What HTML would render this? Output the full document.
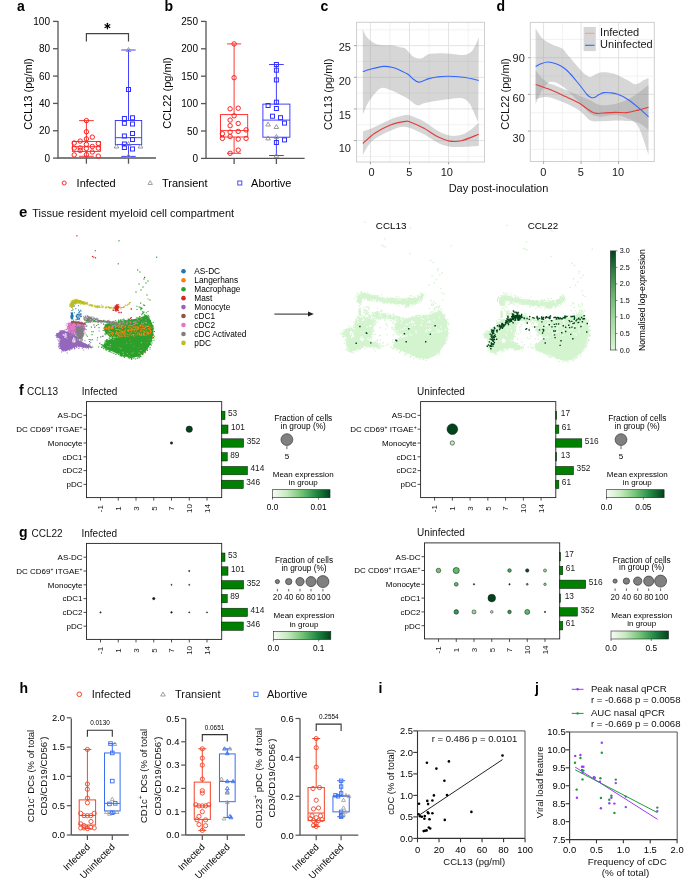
<!DOCTYPE html>
<html><head><meta charset="utf-8"><title>Figure</title>
<style>
html,body{margin:0;padding:0;background:#fff;}
svg{display:block;will-change:transform;}
svg text{font-family:"Liberation Sans", sans-serif;}
</style></head><body>
<svg width="685" height="878" viewBox="0 0 685 878">
<rect width="685" height="878" fill="#fff"/>
<text x="17" y="11" font-size="14" font-weight="bold" fill="#000">a</text>
<text x="164.5" y="11" font-size="14" font-weight="bold" fill="#000">b</text>
<text x="320.5" y="11" font-size="14" font-weight="bold" fill="#000">c</text>
<text x="496.5" y="11" font-size="14" font-weight="bold" fill="#000">d</text>
<line x1="58" y1="21" x2="58" y2="158.5" stroke="#555" stroke-width="1.3"/>
<line x1="53" y1="158.1" x2="58" y2="158.1" stroke="#555" stroke-width="1.3"/>
<text x="50" y="161.7" font-size="10" text-anchor="end">0</text>
<line x1="53" y1="130.76" x2="58" y2="130.76" stroke="#555" stroke-width="1.3"/>
<text x="50" y="134.36" font-size="10" text-anchor="end">20</text>
<line x1="53" y1="103.42" x2="58" y2="103.42" stroke="#555" stroke-width="1.3"/>
<text x="50" y="107.02" font-size="10" text-anchor="end">40</text>
<line x1="53" y1="76.08" x2="58" y2="76.08" stroke="#555" stroke-width="1.3"/>
<text x="50" y="79.68" font-size="10" text-anchor="end">60</text>
<line x1="53" y1="48.74" x2="58" y2="48.74" stroke="#555" stroke-width="1.3"/>
<text x="50" y="52.34" font-size="10" text-anchor="end">80</text>
<line x1="53" y1="21.4" x2="58" y2="21.4" stroke="#555" stroke-width="1.3"/>
<text x="50" y="25" font-size="10" text-anchor="end">100</text>
<line x1="58" y1="158" x2="156" y2="158" stroke="#555" stroke-width="1.3"/>
<line x1="86.4" y1="158" x2="86.4" y2="163.7" stroke="#555" stroke-width="1.3"/>
<line x1="128.5" y1="158" x2="128.5" y2="163.7" stroke="#555" stroke-width="1.3"/>
<text x="31.5" y="94" font-size="11" text-anchor="middle" transform="rotate(-90 31.5 94)">CCL13 (pg/ml)</text>
<polyline points="86.4,41.5 86.4,33.7 128.5,33.7 128.5,41.5" fill="none" stroke="#444" stroke-width="1.2"/>
<line x1="107.4" y1="23.35" x2="107.4" y2="28.85" stroke="#000" stroke-width="1.25" stroke-linecap="round"/>
<line x1="105.02" y1="24.73" x2="109.78" y2="27.48" stroke="#000" stroke-width="1.25" stroke-linecap="round"/>
<line x1="109.78" y1="24.73" x2="105.02" y2="27.48" stroke="#000" stroke-width="1.25" stroke-linecap="round"/>
<circle cx="107.4" cy="26.1" r="1.3" fill="#000"/>
<line x1="86.4" y1="120.6" x2="86.4" y2="141.5" stroke="#ff2020" stroke-width="0.9"/>
<line x1="86.4" y1="151.4" x2="86.4" y2="156.3" stroke="#ff2020" stroke-width="0.9"/>
<line x1="79.05" y1="120.6" x2="93.75" y2="120.6" stroke="#ff2020" stroke-width="0.9"/>
<line x1="79.05" y1="156.3" x2="93.75" y2="156.3" stroke="#ff2020" stroke-width="0.9"/>
<rect x="72.4" y="141.5" width="28" height="9.9" fill="none" stroke="#ff2020" stroke-width="0.9"/>
<line x1="72.4" y1="146.7" x2="100.4" y2="146.7" stroke="#ff2020" stroke-width="0.9"/>
<circle cx="86.4" cy="120.6" r="2.2" fill="none" stroke="#ff2020" stroke-width="1"/>
<circle cx="86.4" cy="131.8" r="2.2" fill="none" stroke="#ff2020" stroke-width="1"/>
<circle cx="86.4" cy="138.9" r="2.2" fill="none" stroke="#ff2020" stroke-width="1"/>
<circle cx="92.3" cy="137.1" r="2.2" fill="none" stroke="#ff2020" stroke-width="1"/>
<circle cx="80.2" cy="141.1" r="2.2" fill="none" stroke="#ff2020" stroke-width="1"/>
<circle cx="74.2" cy="143" r="2.2" fill="none" stroke="#ff2020" stroke-width="1"/>
<circle cx="86.4" cy="144.4" r="2.2" fill="none" stroke="#ff2020" stroke-width="1"/>
<circle cx="98.3" cy="143.5" r="2.2" fill="none" stroke="#ff2020" stroke-width="1"/>
<circle cx="92.3" cy="146.5" r="2.2" fill="none" stroke="#ff2020" stroke-width="1"/>
<circle cx="74.2" cy="148.1" r="2.2" fill="none" stroke="#ff2020" stroke-width="1"/>
<circle cx="80.2" cy="147.9" r="2.2" fill="none" stroke="#ff2020" stroke-width="1"/>
<circle cx="86.4" cy="148.5" r="2.2" fill="none" stroke="#ff2020" stroke-width="1"/>
<circle cx="98.3" cy="148.1" r="2.2" fill="none" stroke="#ff2020" stroke-width="1"/>
<circle cx="80.2" cy="150.5" r="2.2" fill="none" stroke="#ff2020" stroke-width="1"/>
<circle cx="92.3" cy="152" r="2.2" fill="none" stroke="#ff2020" stroke-width="1"/>
<circle cx="74.2" cy="154.9" r="2.2" fill="none" stroke="#ff2020" stroke-width="1"/>
<circle cx="86.4" cy="154.7" r="2.2" fill="none" stroke="#ff2020" stroke-width="1"/>
<circle cx="98.3" cy="156.1" r="2.2" fill="none" stroke="#ff2020" stroke-width="1"/>
<line x1="128.5" y1="50" x2="128.5" y2="120.5" stroke="#2e2eff" stroke-width="0.9"/>
<line x1="128.5" y1="144.6" x2="128.5" y2="156.4" stroke="#2e2eff" stroke-width="0.9"/>
<line x1="121.3" y1="50" x2="135.7" y2="50" stroke="#2e2eff" stroke-width="0.9"/>
<line x1="121.3" y1="156.4" x2="135.7" y2="156.4" stroke="#2e2eff" stroke-width="0.9"/>
<rect x="115.3" y="120.5" width="26.4" height="24.1" fill="none" stroke="#2e2eff" stroke-width="0.9"/>
<line x1="115.3" y1="137.7" x2="141.7" y2="137.7" stroke="#2e2eff" stroke-width="0.9"/>
<rect x="126.5" y="87.5" width="4" height="4" fill="none" stroke="#2e2eff" stroke-width="1"/>
<rect x="122.4" y="116.5" width="4" height="4" fill="none" stroke="#2e2eff" stroke-width="1"/>
<rect x="130.5" y="115.8" width="4" height="4" fill="none" stroke="#2e2eff" stroke-width="1"/>
<rect x="122.4" y="121.3" width="4" height="4" fill="none" stroke="#2e2eff" stroke-width="1"/>
<rect x="130.5" y="122" width="4" height="4" fill="none" stroke="#2e2eff" stroke-width="1"/>
<rect x="122.4" y="134" width="4" height="4" fill="none" stroke="#2e2eff" stroke-width="1"/>
<rect x="130.5" y="131.5" width="4" height="4" fill="none" stroke="#2e2eff" stroke-width="1"/>
<rect x="130.5" y="137.5" width="4" height="4" fill="none" stroke="#2e2eff" stroke-width="1"/>
<rect x="122.4" y="142" width="4" height="4" fill="none" stroke="#2e2eff" stroke-width="1"/>
<rect x="122.4" y="145.5" width="4" height="4" fill="none" stroke="#2e2eff" stroke-width="1"/>
<rect x="130.5" y="147" width="4" height="4" fill="none" stroke="#2e2eff" stroke-width="1"/>
<polygon points="116.5,144.03 114.2,148.01 118.8,148.01" fill="none" stroke="#8c8c8c" stroke-width="0.9"/>
<polygon points="128.5,141.53 126.2,145.51 130.8,145.51" fill="none" stroke="#8c8c8c" stroke-width="0.9"/>
<polygon points="140.5,144.03 138.2,148.01 142.8,148.01" fill="none" stroke="#8c8c8c" stroke-width="0.9"/>
<polygon points="128.5,153.93 126.2,157.91 130.8,157.91" fill="none" stroke="#8c8c8c" stroke-width="0.9"/>
<polygon points="128.5,47.53 126.2,51.51 130.8,51.51" fill="none" stroke="#8c8c8c" stroke-width="0.9"/>
<line x1="206" y1="21" x2="206" y2="158.8" stroke="#555" stroke-width="1.3"/>
<line x1="201" y1="158.4" x2="206" y2="158.4" stroke="#555" stroke-width="1.3"/>
<text x="198" y="162" font-size="10" text-anchor="end">0</text>
<line x1="201" y1="131" x2="206" y2="131" stroke="#555" stroke-width="1.3"/>
<text x="198" y="134.6" font-size="10" text-anchor="end">50</text>
<line x1="201" y1="103.6" x2="206" y2="103.6" stroke="#555" stroke-width="1.3"/>
<text x="198" y="107.2" font-size="10" text-anchor="end">100</text>
<line x1="201" y1="76.2" x2="206" y2="76.2" stroke="#555" stroke-width="1.3"/>
<text x="198" y="79.8" font-size="10" text-anchor="end">150</text>
<line x1="201" y1="48.8" x2="206" y2="48.8" stroke="#555" stroke-width="1.3"/>
<text x="198" y="52.4" font-size="10" text-anchor="end">200</text>
<line x1="201" y1="21.4" x2="206" y2="21.4" stroke="#555" stroke-width="1.3"/>
<text x="198" y="25" font-size="10" text-anchor="end">250</text>
<line x1="206" y1="158.4" x2="304.6" y2="158.4" stroke="#555" stroke-width="1.3"/>
<line x1="234.1" y1="158.4" x2="234.1" y2="164" stroke="#555" stroke-width="1.3"/>
<line x1="276.4" y1="158.4" x2="276.4" y2="164" stroke="#555" stroke-width="1.3"/>
<text x="171" y="93" font-size="11" text-anchor="middle" transform="rotate(-90 171 93)">CCL22 (pg/ml)</text>
<line x1="234.1" y1="43.9" x2="234.1" y2="114.6" stroke="#ff2020" stroke-width="0.9"/>
<line x1="234.1" y1="137" x2="234.1" y2="153.3" stroke="#ff2020" stroke-width="0.9"/>
<line x1="227.1" y1="43.9" x2="241.1" y2="43.9" stroke="#ff2020" stroke-width="0.9"/>
<line x1="227.1" y1="153.3" x2="241.1" y2="153.3" stroke="#ff2020" stroke-width="0.9"/>
<rect x="220.5" y="114.6" width="27.2" height="22.4" fill="none" stroke="#ff2020" stroke-width="0.9"/>
<line x1="220.5" y1="130.6" x2="247.7" y2="130.6" stroke="#ff2020" stroke-width="0.9"/>
<circle cx="234.1" cy="43.9" r="2.2" fill="none" stroke="#ff2020" stroke-width="1"/>
<circle cx="234.1" cy="77.7" r="2.2" fill="none" stroke="#ff2020" stroke-width="1"/>
<circle cx="230.1" cy="108.8" r="2.2" fill="none" stroke="#ff2020" stroke-width="1"/>
<circle cx="238.2" cy="108.2" r="2.2" fill="none" stroke="#ff2020" stroke-width="1"/>
<circle cx="234.1" cy="115.8" r="2.2" fill="none" stroke="#ff2020" stroke-width="1"/>
<circle cx="230.1" cy="120.1" r="2.2" fill="none" stroke="#ff2020" stroke-width="1"/>
<circle cx="238.2" cy="123.5" r="2.2" fill="none" stroke="#ff2020" stroke-width="1"/>
<circle cx="230.1" cy="125.7" r="2.2" fill="none" stroke="#ff2020" stroke-width="1"/>
<circle cx="246.1" cy="129.9" r="2.2" fill="none" stroke="#ff2020" stroke-width="1"/>
<circle cx="222.4" cy="133.7" r="2.2" fill="none" stroke="#ff2020" stroke-width="1"/>
<circle cx="230.1" cy="132.1" r="2.2" fill="none" stroke="#ff2020" stroke-width="1"/>
<circle cx="238.2" cy="131.4" r="2.2" fill="none" stroke="#ff2020" stroke-width="1"/>
<circle cx="222.4" cy="138.4" r="2.2" fill="none" stroke="#ff2020" stroke-width="1"/>
<circle cx="230.1" cy="136.5" r="2.2" fill="none" stroke="#ff2020" stroke-width="1"/>
<circle cx="238.2" cy="139.1" r="2.2" fill="none" stroke="#ff2020" stroke-width="1"/>
<circle cx="246.1" cy="138.4" r="2.2" fill="none" stroke="#ff2020" stroke-width="1"/>
<circle cx="238.2" cy="150.1" r="2.2" fill="none" stroke="#ff2020" stroke-width="1"/>
<circle cx="230.1" cy="153.3" r="2.2" fill="none" stroke="#ff2020" stroke-width="1"/>
<line x1="276.4" y1="64.5" x2="276.4" y2="104.1" stroke="#2e2eff" stroke-width="0.9"/>
<line x1="276.4" y1="137.2" x2="276.4" y2="155.5" stroke="#2e2eff" stroke-width="0.9"/>
<line x1="269.05" y1="64.5" x2="283.75" y2="64.5" stroke="#2e2eff" stroke-width="0.9"/>
<line x1="269.05" y1="155.5" x2="283.75" y2="155.5" stroke="#2e2eff" stroke-width="0.9"/>
<rect x="262.9" y="104.1" width="27" height="33.1" fill="none" stroke="#2e2eff" stroke-width="0.9"/>
<line x1="262.9" y1="120.1" x2="289.9" y2="120.1" stroke="#2e2eff" stroke-width="0.9"/>
<rect x="274.4" y="62.5" width="4" height="4" fill="none" stroke="#2e2eff" stroke-width="1"/>
<rect x="274.4" y="68.2" width="4" height="4" fill="none" stroke="#2e2eff" stroke-width="1"/>
<rect x="274.4" y="77.9" width="4" height="4" fill="none" stroke="#2e2eff" stroke-width="1"/>
<rect x="274.4" y="100.2" width="4" height="4" fill="none" stroke="#2e2eff" stroke-width="1"/>
<rect x="266.1" y="103.5" width="4" height="4" fill="none" stroke="#2e2eff" stroke-width="1"/>
<rect x="274.4" y="106.5" width="4" height="4" fill="none" stroke="#2e2eff" stroke-width="1"/>
<rect x="270.5" y="114.2" width="4" height="4" fill="none" stroke="#2e2eff" stroke-width="1"/>
<rect x="278.5" y="115.7" width="4" height="4" fill="none" stroke="#2e2eff" stroke-width="1"/>
<rect x="282.5" y="121.1" width="4" height="4" fill="none" stroke="#2e2eff" stroke-width="1"/>
<rect x="274.4" y="140.5" width="4" height="4" fill="none" stroke="#2e2eff" stroke-width="1"/>
<rect x="282.5" y="137.9" width="4" height="4" fill="none" stroke="#2e2eff" stroke-width="1"/>
<polygon points="268.1,122.03 265.8,126.01 270.4,126.01" fill="none" stroke="#8c8c8c" stroke-width="0.9"/>
<polygon points="276.4,124.53 274.1,128.51 278.7,128.51" fill="none" stroke="#8c8c8c" stroke-width="0.9"/>
<polygon points="268.1,135.93 265.8,139.91 270.4,139.91" fill="none" stroke="#8c8c8c" stroke-width="0.9"/>
<polygon points="276.4,134.43 274.1,138.41 278.7,138.41" fill="none" stroke="#8c8c8c" stroke-width="0.9"/>
<polygon points="276.4,153.43 274.1,157.41 278.7,157.41" fill="none" stroke="#8c8c8c" stroke-width="0.9"/>
<circle cx="64.2" cy="183" r="2" fill="none" stroke="#f03030" stroke-width="1"/>
<text x="76.6" y="187" font-size="11">Infected</text>
<polygon points="150.2,180.64 148,184.45 152.4,184.45" fill="none" stroke="#888" stroke-width="0.8"/>
<text x="162" y="187" font-size="11">Transient</text>
<rect x="237.8" y="181" width="4" height="4" fill="none" stroke="#3a3af0" stroke-width="0.9"/>
<text x="251.1" y="187" font-size="11">Abortive</text>
<rect x="356.6" y="22.3" width="127.9" height="139.7" fill="#fff"/>
<line x1="356.6" y1="156.43" x2="484.5" y2="156.43" stroke="#efefef" stroke-width="0.8"/>
<line x1="356.6" y1="124.78" x2="484.5" y2="124.78" stroke="#efefef" stroke-width="0.8"/>
<line x1="356.6" y1="93.12" x2="484.5" y2="93.12" stroke="#efefef" stroke-width="0.8"/>
<line x1="356.6" y1="61.47" x2="484.5" y2="61.47" stroke="#efefef" stroke-width="0.8"/>
<line x1="356.6" y1="29.82" x2="484.5" y2="29.82" stroke="#efefef" stroke-width="0.8"/>
<line x1="389.95" y1="22.3" x2="389.95" y2="162" stroke="#efefef" stroke-width="0.8"/>
<line x1="429.05" y1="22.3" x2="429.05" y2="162" stroke="#efefef" stroke-width="0.8"/>
<line x1="468.15" y1="22.3" x2="468.15" y2="162" stroke="#efefef" stroke-width="0.8"/>
<line x1="356.6" y1="140.6" x2="484.5" y2="140.6" stroke="#e3e3e3" stroke-width="1"/>
<line x1="356.6" y1="108.95" x2="484.5" y2="108.95" stroke="#e3e3e3" stroke-width="1"/>
<line x1="356.6" y1="77.3" x2="484.5" y2="77.3" stroke="#e3e3e3" stroke-width="1"/>
<line x1="356.6" y1="45.65" x2="484.5" y2="45.65" stroke="#e3e3e3" stroke-width="1"/>
<line x1="370.4" y1="22.3" x2="370.4" y2="162" stroke="#e3e3e3" stroke-width="1"/>
<line x1="409.5" y1="22.3" x2="409.5" y2="162" stroke="#e3e3e3" stroke-width="1"/>
<line x1="448.6" y1="22.3" x2="448.6" y2="162" stroke="#e3e3e3" stroke-width="1"/>
<path d="M362.8,29.2 C363.33,30.33 364.73,34.12 366,36 C367.27,37.88 368.73,39.17 370.4,40.5 C372.07,41.83 373.8,43.2 376,44 C378.2,44.8 380.93,45.08 383.6,45.3 C386.27,45.52 389.27,44.97 392,45.3 C394.73,45.63 397.78,46.75 400,47.3 C402.22,47.85 403.12,47.07 405.3,48.6 C407.48,50.13 410.48,54.85 413.1,56.5 C415.72,58.15 418.37,58.9 421,58.5 C423.63,58.1 426.23,54.95 428.9,54.1 C431.57,53.25 433.93,53.48 437,53.4 C440.07,53.32 442.95,53.35 447.3,53.6 C451.65,53.85 459.15,55.18 463.1,54.9 C467.05,54.62 468.93,53.55 471,51.9 C473.07,50.25 474.2,47.4 475.5,45 C476.8,42.6 478.25,38.75 478.8,37.5 L478.2,122.4 C477.7,121.25 476.68,118.68 475.2,115.5 C473.72,112.32 471.6,106.2 469.3,103.3 C467,100.4 465.02,98.77 461.4,98.1 C457.78,97.43 452.2,98.77 447.6,99.3 C443,99.83 437.73,100.63 433.8,101.3 C429.87,101.97 426.78,102.65 424,103.3 C421.22,103.95 420.07,106.13 417.1,105.2 C414.13,104.27 410.63,100.25 406.2,97.7 C401.77,95.15 394.77,91.47 390.5,89.9 C386.23,88.33 383.88,86.83 380.6,88.3 C377.32,89.77 373.15,95.75 370.8,98.7 C368.45,101.65 367.82,103.37 366.5,106 C365.18,108.63 363.5,113.08 362.9,114.5 Z" fill="#999" fill-opacity="0.4"/>
<path d="M362.9,131.6 C364.87,130.83 370.1,129.03 374.7,127 C379.3,124.97 385.4,121.38 390.5,119.4 C395.6,117.42 402.02,115.75 405.3,115.1 C408.58,114.45 407.08,114.45 410.2,115.5 C413.32,116.55 419.4,118.85 424,121.4 C428.6,123.95 433.53,128.43 437.8,130.8 C442.07,133.17 445.67,134.93 449.6,135.6 C453.53,136.27 458,135.68 461.4,134.8 C464.8,133.92 467.1,132.37 470,130.3 C472.9,128.23 477.33,123.72 478.8,122.4 L478.8,146 C475.9,146.17 466.27,146.9 461.4,147 C456.53,147.1 453.53,147.32 449.6,146.6 C445.67,145.88 442.07,144.77 437.8,142.7 C433.53,140.63 429.42,136.83 424,134.2 C418.58,131.57 410.88,127.47 405.3,126.9 C399.72,126.33 395.6,128.77 390.5,130.8 C385.4,132.83 378.45,136.57 374.7,139.1 C370.95,141.63 369.97,143.37 368,146 C366.03,148.63 363.75,153.42 362.9,154.9 Z" fill="#999" fill-opacity="0.4"/>
<path d="M362.8,71.6 C364.07,71.2 366.93,70.07 370.4,69.2 C373.87,68.33 379.83,66.68 383.6,66.4 C387.37,66.12 390.27,66.85 393,67.5 C395.73,68.15 397.52,69.18 400,70.3 C402.48,71.42 405.73,72.75 407.9,74.2 C410.07,75.65 411.25,77.68 413,79 C414.75,80.32 416.73,81.77 418.4,82.1 C420.07,82.43 421.25,81.58 423,81 C424.75,80.42 426.57,79.27 428.9,78.6 C431.23,77.93 433.93,77.4 437,77 C440.07,76.6 442.95,76.15 447.3,76.2 C451.65,76.25 457.85,76.6 463.1,77.3 C468.35,78 476.18,79.88 478.8,80.4" fill="none" stroke="#3366ff" stroke-width="1.1"/>
<path d="M362.9,143.5 C364.87,141.78 370.1,136.3 374.7,133.2 C379.3,130.1 385.4,126.87 390.5,124.9 C395.6,122.93 402.02,121.88 405.3,121.4 C408.58,120.92 407.08,120.85 410.2,122 C413.32,123.15 419.4,125.83 424,128.3 C428.6,130.77 433.53,134.67 437.8,136.8 C442.07,138.93 445.67,140.45 449.6,141.1 C453.53,141.75 456.53,141.85 461.4,140.7 C466.27,139.55 475.9,135.28 478.8,134.2" fill="none" stroke="#e33a3a" stroke-width="1.1"/>
<rect x="356.6" y="22.3" width="127.9" height="139.7" fill="none" stroke="#cfcfcf" stroke-width="1"/>
<line x1="354" y1="140.6" x2="356.6" y2="140.6" stroke="#999" stroke-width="0.9"/>
<text x="350.9" y="151.8" font-size="11" text-anchor="end" fill="#1a1a1a">10</text>
<line x1="354" y1="108.95" x2="356.6" y2="108.95" stroke="#999" stroke-width="0.9"/>
<text x="350.9" y="118.75" font-size="11" text-anchor="end" fill="#1a1a1a">15</text>
<line x1="354" y1="77.3" x2="356.6" y2="77.3" stroke="#999" stroke-width="0.9"/>
<text x="350.9" y="85.05" font-size="11" text-anchor="end" fill="#1a1a1a">20</text>
<line x1="354" y1="45.65" x2="356.6" y2="45.65" stroke="#999" stroke-width="0.9"/>
<text x="350.9" y="50.95" font-size="11" text-anchor="end" fill="#1a1a1a">25</text>
<line x1="370.4" y1="162" x2="370.4" y2="164.4" stroke="#999" stroke-width="0.9"/>
<text x="371.6" y="175.7" font-size="11" text-anchor="middle" fill="#1a1a1a">0</text>
<line x1="409.5" y1="162" x2="409.5" y2="164.4" stroke="#999" stroke-width="0.9"/>
<text x="409.3" y="175.7" font-size="11" text-anchor="middle" fill="#1a1a1a">5</text>
<line x1="448.6" y1="162" x2="448.6" y2="164.4" stroke="#999" stroke-width="0.9"/>
<text x="446.8" y="175.7" font-size="11" text-anchor="middle" fill="#1a1a1a">10</text>
<text x="332.5" y="94.3" font-size="11" text-anchor="middle" fill="#111" transform="rotate(-90 332.5 94.3)">CCL13 (pg/ml)</text>
<rect x="530.3" y="22.4" width="124" height="139.1" fill="#fff"/>
<line x1="530.3" y1="149.39" x2="654.3" y2="149.39" stroke="#efefef" stroke-width="0.8"/>
<line x1="530.3" y1="112.73" x2="654.3" y2="112.73" stroke="#efefef" stroke-width="0.8"/>
<line x1="530.3" y1="76.07" x2="654.3" y2="76.07" stroke="#efefef" stroke-width="0.8"/>
<line x1="530.3" y1="39.41" x2="654.3" y2="39.41" stroke="#efefef" stroke-width="0.8"/>
<line x1="562.35" y1="22.4" x2="562.35" y2="161.5" stroke="#efefef" stroke-width="0.8"/>
<line x1="599.85" y1="22.4" x2="599.85" y2="161.5" stroke="#efefef" stroke-width="0.8"/>
<line x1="637.35" y1="22.4" x2="637.35" y2="161.5" stroke="#efefef" stroke-width="0.8"/>
<line x1="530.3" y1="131.06" x2="654.3" y2="131.06" stroke="#e3e3e3" stroke-width="1"/>
<line x1="530.3" y1="94.4" x2="654.3" y2="94.4" stroke="#e3e3e3" stroke-width="1"/>
<line x1="530.3" y1="57.74" x2="654.3" y2="57.74" stroke="#e3e3e3" stroke-width="1"/>
<line x1="543.6" y1="22.4" x2="543.6" y2="161.5" stroke="#e3e3e3" stroke-width="1"/>
<line x1="581.1" y1="22.4" x2="581.1" y2="161.5" stroke="#e3e3e3" stroke-width="1"/>
<line x1="618.6" y1="22.4" x2="618.6" y2="161.5" stroke="#e3e3e3" stroke-width="1"/>
<path d="M535.6,28.5 C536.83,30.25 540.15,36.3 543,39 C545.85,41.7 549.5,43.12 552.7,44.7 C555.9,46.28 559.68,46.77 562.2,48.5 C564.72,50.23 564.97,51.78 567.8,55.1 C570.63,58.42 576.17,65.08 579.2,68.4 C582.23,71.72 584.1,73.58 586,75 C587.9,76.42 588.93,77.07 590.6,76.9 C592.27,76.73 594.1,74.78 596,74 C597.9,73.22 599.1,72.28 602,72.2 C604.9,72.12 609.28,72.23 613.4,73.5 C617.52,74.77 623.27,78.05 626.7,79.8 C630.13,81.55 632.1,83.37 634,84 C635.9,84.63 636.43,84.27 638.1,83.6 C639.77,82.93 642.27,80.95 644,80 C645.73,79.05 647.75,78.25 648.5,77.9 L648.5,154.7 C646.77,149.97 641.73,132.42 638.1,126.3 C634.47,120.18 630.55,119.88 626.7,118 C622.85,116.12 619.45,115.22 615,115 C610.55,114.78 604.17,116.93 600,116.7 C595.83,116.47 593.33,115.88 590,113.6 C586.67,111.32 583.83,106.93 580,103 C576.17,99.07 570,92.83 567,90 C564,87.17 563.83,87.25 562,86 C560.17,84.75 557.83,83.22 556,82.5 C554.17,81.78 552.33,81.62 551,81.7 C549.67,81.78 549.67,81.28 548,83 C546.33,84.72 543.07,88.42 541,92 C538.93,95.58 536.5,102.42 535.6,104.5 Z" fill="#999" fill-opacity="0.4"/>
<path d="M535.6,70.2 C536.5,71.33 538.93,74.87 541,77 C543.07,79.13 546,81.75 548,83 C550,84.25 551,83.75 553,84.5 C555,85.25 558,86.65 560,87.5 C562,88.35 562.5,88.52 565,89.6 C567.5,90.68 570.83,92.28 575,94 C579.17,95.72 585.83,98.07 590,99.9 C594.17,101.73 595.83,104.32 600,105 C604.17,105.68 610.55,104.83 615,104 C619.45,103.17 622.85,101.83 626.7,100 C630.55,98.17 634.47,95.5 638.1,93 C641.73,90.5 646.77,86.33 648.5,85 L648.5,130 C646.77,128.75 641.73,124 638.1,122.5 C634.47,121 630.55,121.33 626.7,121 C622.85,120.67 619.45,120.45 615,120.5 C610.55,120.55 604.17,121.33 600,121.3 C595.83,121.27 593.33,122.02 590,120.3 C586.67,118.58 584.17,113.88 580,111 C575.83,108.12 570.33,105.33 565,103 C559.67,100.67 552.9,97.67 548,97 C543.1,96.33 537.67,98.67 535.6,99 Z" fill="#999" fill-opacity="0.4"/>
<path d="M535.7,66.6 C536.58,66.13 538.98,64.57 541,63.8 C543.02,63.03 545.3,62 547.8,62 C550.3,62 553.3,62.8 556,63.8 C558.7,64.8 561.67,66.38 564,68 C566.33,69.62 568,71.42 570,73.5 C572,75.58 574,78.08 576,80.5 C578,82.92 580.17,85.67 582,88 C583.83,90.33 585.5,92.9 587,94.5 C588.5,96.1 589.67,97.15 591,97.6 C592.33,98.05 593.67,97.7 595,97.2 C596.33,96.7 597.5,95.37 599,94.6 C600.5,93.83 602.17,92.9 604,92.6 C605.83,92.3 607.83,92.57 610,92.8 C612.17,93.03 614.22,93.02 617,94 C619.78,94.98 623.18,96.48 626.7,98.7 C630.22,100.92 634.47,104.28 638.1,107.3 C641.73,110.32 646.77,115.22 648.5,116.8" fill="none" stroke="#3366ff" stroke-width="1.1"/>
<path d="M535.7,84.5 C538.08,85.35 545.12,87.63 550,89.6 C554.88,91.57 560.33,94.15 565,96.3 C569.67,98.45 574.5,100.55 578,102.5 C581.5,104.45 583.67,106.42 586,108 C588.33,109.58 590.17,111.1 592,112 C593.83,112.9 595.17,113.23 597,113.4 C598.83,113.57 599.95,113.17 603,113 C606.05,112.83 611.35,112.47 615.3,112.4 C619.25,112.33 622.9,112.98 626.7,112.6 C630.5,112.22 634.47,110.98 638.1,110.1 C641.73,109.22 646.77,107.77 648.5,107.3" fill="none" stroke="#e33a3a" stroke-width="1.1"/>
<rect x="530.3" y="22.4" width="124" height="139.1" fill="none" stroke="#cfcfcf" stroke-width="1"/>
<line x1="527.8" y1="131.06" x2="530.3" y2="131.06" stroke="#999" stroke-width="0.9"/>
<text x="524.8" y="141.7" font-size="11" text-anchor="end" fill="#1a1a1a">30</text>
<line x1="527.8" y1="94.4" x2="530.3" y2="94.4" stroke="#999" stroke-width="0.9"/>
<text x="524.8" y="101.9" font-size="11" text-anchor="end" fill="#1a1a1a">60</text>
<line x1="527.8" y1="57.74" x2="530.3" y2="57.74" stroke="#999" stroke-width="0.9"/>
<text x="524.8" y="62.3" font-size="11" text-anchor="end" fill="#1a1a1a">90</text>
<line x1="543.6" y1="161.5" x2="543.6" y2="163.9" stroke="#999" stroke-width="0.9"/>
<text x="543.3" y="175.7" font-size="11" text-anchor="middle" fill="#1a1a1a">0</text>
<line x1="581.1" y1="161.5" x2="581.1" y2="163.9" stroke="#999" stroke-width="0.9"/>
<text x="580.8" y="175.7" font-size="11" text-anchor="middle" fill="#1a1a1a">5</text>
<line x1="618.6" y1="161.5" x2="618.6" y2="163.9" stroke="#999" stroke-width="0.9"/>
<text x="618.1" y="175.7" font-size="11" text-anchor="middle" fill="#1a1a1a">10</text>
<text x="508.5" y="94" font-size="11" text-anchor="middle" fill="#111" transform="rotate(-90 508.5 94)">CCL22 (pg/ml)</text>
<rect x="583.6" y="27" width="12.2" height="24.1" fill="#d6d6d6"/>
<line x1="585" y1="33.3" x2="594.5" y2="33.3" stroke="#f0a0a0" stroke-width="1.1"/>
<line x1="585" y1="45.3" x2="594.5" y2="45.3" stroke="#3366ff" stroke-width="1.1"/>
<text x="600.1" y="35.5" font-size="11" fill="#1a1a1a">Infected</text>
<text x="600.1" y="47.5" font-size="11" fill="#1a1a1a">Uninfected</text>
<text x="498.5" y="192.2" font-size="11" text-anchor="middle" fill="#111">Day post-inoculation</text>
<text x="19" y="217" font-size="15" font-weight="bold" fill="#000">e</text>
<text x="32.2" y="216.8" font-size="11" fill="#111">Tissue resident myeloid cell compartment</text>
<polygon points="56.1,334.6 58.8,332.3 63.6,330.5 67.7,331.9 71.1,333.3 76.6,336 77.2,340.1 82.7,342.2 88.2,344.9 91.3,347 88.2,348 81.3,347 76.6,346.3 71.1,349 66.3,351 62.2,350.4 59.5,346.3 59.5,342.2 60.8,340.1 58.1,337.4 56.1,336" fill="#9467bd"/>
<path d="M80.29 341.83h1v1h-1zM60.31 330.48h1v1h-1zM59.72 331.15h1v1h-1zM88.97 345.18h1v1h-1zM88.12 344.07h1v1h-1zM72.43 332.78h1v1h-1zM78.3 348.11h1v1h-1zM59.53 330.89h1v1h-1zM68.12 332.1h1v1h-1zM61.06 349.29h1v1h-1zM74.07 347.27h1v1h-1zM61.04 331.26h1v1h-1zM70.73 348.43h1v1h-1zM78.9 346.58h1v1h-1zM61.38 349.06h1v1h-1zM78.71 346.17h1v1h-1zM66.7 352.57h1v1h-1zM63.74 331.55h1v1h-1zM67.86 331.81h1v1h-1zM72.64 346.26h1v1h-1zM58.4 344.48h1v1h-1zM77.93 345.69h1v1h-1zM60.36 345.87h1v1h-1zM74.3 347.97h1v1h-1zM76.13 346.62h1v1h-1zM75.48 339.9h1v1h-1zM56.6 332.89h1v1h-1zM66.71 331.31h1v1h-1zM66.2 332.05h1v1h-1zM59.96 343.97h1v1h-1zM84.38 345.58h1v1h-1zM58.82 345.14h1v1h-1zM84.33 340.15h1v1h-1zM68.38 332.4h1v1h-1zM73.63 335.07h1v1h-1zM77.35 336.95h1v1h-1zM81.05 341.25h1v1h-1zM69.3 348.33h1v1h-1zM73.88 348.59h1v1h-1zM64.12 348.8h1v1h-1zM84.85 343.47h1v1h-1zM75.68 346.32h1v1h-1zM73.4 334.72h1v1h-1zM60.1 331.34h1v1h-1zM63.61 330.4h1v1h-1zM58.57 342.8h1v1h-1zM75.62 336.75h1v1h-1zM67.46 328.3h1v1h-1zM90.09 346.64h1v1h-1zM63.39 330.9h1v1h-1zM59.98 347.29h1v1h-1zM57.53 337.28h1v1h-1zM84.78 347.11h1v1h-1zM57.09 334.67h1v1h-1zM75.88 337.23h1v1h-1zM61.89 349.82h1v1h-1zM80.25 342.64h1v1h-1zM56.69 334.04h1v1h-1zM60.35 347.2h1v1h-1zM85.76 347.43h1v1h-1zM57.42 333.19h1v1h-1zM71.55 348.25h1v1h-1zM61.48 338.11h1v1h-1zM83.07 342.76h1v1h-1zM72.32 334.79h1v1h-1zM60.1 339.95h1v1h-1zM73.91 346.54h1v1h-1zM74.63 346.31h1v1h-1zM64.96 350.55h1v1h-1zM61.13 351.51h1v1h-1zM55.79 336.81h1v1h-1zM58.26 337.05h1v1h-1zM67.25 332.75h1v1h-1zM62.13 350.32h1v1h-1zM55.43 334.96h1v1h-1zM83.19 346.95h1v1h-1zM55.93 335.25h1v1h-1zM57.36 339.33h1v1h-1zM60.18 348.06h1v1h-1zM76.86 340.96h1v1h-1zM75.8 336.88h1v1h-1zM59.29 341.03h1v1h-1zM80.77 345.78h1v1h-1zM59.02 339.54h1v1h-1zM86.44 347.29h1v1h-1zM72.59 332.94h1v1h-1zM68.3 332.77h1v1h-1zM81.81 347.8h1v1h-1zM82.56 346.28h1v1h-1zM82.02 347.48h1v1h-1zM62.28 350.11h1v1h-1zM65.61 349.77h1v1h-1zM76.05 345.93h1v1h-1zM69.31 348.91h1v1h-1zM90.9 346.38h1v1h-1zM59.72 342.69h1v1h-1zM83.88 346.02h1v1h-1zM67.65 332.04h1v1h-1zM61.27 331.08h1v1h-1zM72.87 345.52h1v1h-1zM68.05 330.44h1v1h-1zM69.32 329.71h1v1h-1zM74.78 334.08h1v1h-1zM90.53 347.07h1v1h-1zM67.86 332.62h1v1h-1zM81.05 341.98h1v1h-1zM69.24 349.75h1v1h-1zM89.99 345.45h1v1h-1zM75.84 345.79h1v1h-1zM56.24 332.88h1v1h-1zM64.02 330.61h1v1h-1zM62.88 350.6h1v1h-1zM89.28 343.43h1v1h-1zM77.58 338.36h1v1h-1zM80.94 346.13h1v1h-1zM59.55 330.21h1v1h-1zM62.55 330.16h1v1h-1zM62.95 350.2h1v1h-1zM61.45 330.05h1v1h-1zM78.6 340.4h1v1h-1zM77.22 338.28h1v1h-1zM75.84 335.52h1v1h-1zM59.59 332.24h1v1h-1zM77.87 339.2h1v1h-1zM87.92 348.3h1v1h-1zM56.88 333.19h1v1h-1zM66.44 349.77h1v1h-1zM90.18 346.65h1v1h-1zM59.3 348.36h1v1h-1zM58.64 347.41h1v1h-1zM71.82 348.25h1v1h-1zM59.31 345.48h1v1h-1zM86.06 343.96h1v1h-1zM67.72 331.78h1v1h-1zM76.43 336.63h1v1h-1zM60.26 345.07h1v1h-1zM76.61 339.51h1v1h-1zM91.15 347.24h1v1h-1zM78.92 336.33h1v1h-1zM83.31 349.45h1v1h-1zM78.18 340.21h1v1h-1zM83.17 342.94h1v1h-1zM72.18 333.62h1v1h-1zM77.18 337.6h1v1h-1zM59.42 331.81h1v1h-1zM73.86 334.29h1v1h-1zM64.68 349.14h1v1h-1zM58.32 343.3h1v1h-1zM56.56 336.8h1v1h-1zM76.42 347.06h1v1h-1zM57.95 340.4h1v1h-1zM61.49 349.33h1v1h-1zM88.04 345.86h1v1h-1zM58.16 346.23h1v1h-1zM71.05 347.48h1v1h-1zM58.42 332.94h1v1h-1zM64.71 329.23h1v1h-1zM74.81 344.83h1v1h-1zM90.25 347.29h1v1h-1zM64.52 350.47h1v1h-1z" fill="#9467bd"/>
<path d="M65.04 333.24h1.2v1.2h-1.2zM65.35 334.21h1.2v1.2h-1.2zM62.7 334.28h1.2v1.2h-1.2zM65.32 333.97h1.2v1.2h-1.2zM64.38 334.89h1.2v1.2h-1.2zM64.32 336.46h1.2v1.2h-1.2zM65.47 336.11h1.2v1.2h-1.2zM64.97 333.3h1.2v1.2h-1.2zM62.99 334.22h1.2v1.2h-1.2zM65.37 334.48h1.2v1.2h-1.2z" fill="#fff"/>
<path d="M65.19 336.6h1v1h-1zM65.2 334.51h1v1h-1zM64.57 335.42h1v1h-1zM64.37 333.62h1v1h-1zM66.07 334.04h1v1h-1zM66.41 337.87h1v1h-1z" fill="#c9b3e0"/>
<path d="M74.11 341.27h1.2v1.2h-1.2zM73.11 338.47h1.2v1.2h-1.2zM72.47 341.18h1.2v1.2h-1.2zM72.47 339.73h1.2v1.2h-1.2zM72.28 339.5h1.2v1.2h-1.2zM74.11 339.43h1.2v1.2h-1.2zM74.29 340.21h1.2v1.2h-1.2zM72.52 340.99h1.2v1.2h-1.2zM73.21 337.5h1.2v1.2h-1.2zM73.12 338.61h1.2v1.2h-1.2z" fill="#fff"/>
<path d="M72.38 338.88h1v1h-1zM72.85 340.86h1v1h-1zM74.27 337.98h1v1h-1zM74.5 340.35h1v1h-1zM74.43 338.66h1v1h-1zM73 339.07h1v1h-1z" fill="#c9b3e0"/>
<polygon points="67.7,324 71,322 78,322.5 84.1,324 85,329 83,333.3 75,333.5 69.7,333.3 67.7,330" fill="#e377c2"/>
<path d="M66.48 323.11h1v1h-1zM84.32 328.02h1v1h-1zM72.11 320.95h1v1h-1zM67.2 327.44h1v1h-1zM83.39 332.38h1v1h-1zM68.43 324.6h1v1h-1zM79.68 331.81h1v1h-1zM81.89 332.53h1v1h-1zM71.33 333.39h1v1h-1zM77.1 333.21h1v1h-1zM67.91 327.9h1v1h-1zM83.18 324.98h1v1h-1zM67.12 326h1v1h-1zM80.74 322.69h1v1h-1zM75.34 322.35h1v1h-1zM66.57 328.23h1v1h-1zM68.18 328.18h1v1h-1zM73.77 322.09h1v1h-1zM84.15 323.86h1v1h-1zM77.82 321.7h1v1h-1zM71.1 333.39h1v1h-1zM82.21 332.74h1v1h-1zM69.46 324.21h1v1h-1zM71.68 321.65h1v1h-1zM67.81 330.95h1v1h-1zM78.25 322.95h1v1h-1zM68.26 324.32h1v1h-1zM69.52 323.22h1v1h-1zM66.02 328.93h1v1h-1zM65.61 324.79h1v1h-1zM70.11 329.95h1v1h-1zM79.44 322.71h1v1h-1zM81.94 330.13h1v1h-1zM72.37 331.73h1v1h-1zM83.96 329.05h1v1h-1zM70.48 334.85h1v1h-1zM76.96 333.38h1v1h-1zM78.29 321.36h1v1h-1zM73.25 322.1h1v1h-1zM79.76 333.27h1v1h-1zM80.1 332.93h1v1h-1zM85.39 328.95h1v1h-1zM66.55 329.43h1v1h-1zM80.33 322.02h1v1h-1zM82.95 323.23h1v1h-1zM75.05 333.31h1v1h-1zM76.59 332.67h1v1h-1zM68.17 323.41h1v1h-1zM75.77 334.5h1v1h-1zM71.81 332.9h1v1h-1zM66.57 326.55h1v1h-1zM78.45 323.66h1v1h-1zM82.31 322.62h1v1h-1zM76.18 322.82h1v1h-1zM76.6 332.8h1v1h-1zM84.62 328.4h1v1h-1zM74.05 321.83h1v1h-1zM85.55 324.91h1v1h-1zM74.83 332.9h1v1h-1zM83.8 325.28h1v1h-1zM73.36 333.17h1v1h-1zM83.36 325.87h1v1h-1zM75.85 321.84h1v1h-1zM84.13 323.83h1v1h-1zM67.42 326.11h1v1h-1zM69.15 331.16h1v1h-1zM68.46 322.36h1v1h-1zM67.5 328.34h1v1h-1zM68.11 328.84h1v1h-1zM69.01 332.18h1v1h-1zM70.56 323.37h1v1h-1zM79.42 320.56h1v1h-1zM83.13 325.7h1v1h-1zM78.43 334.32h1v1h-1zM82.34 323.27h1v1h-1zM72.7 332.25h1v1h-1zM67.85 326.45h1v1h-1zM85.98 329.34h1v1h-1zM83.99 326.64h1v1h-1zM83.96 330.52h1v1h-1z" fill="#e377c2"/>
<polygon points="75.9,327.1 80,326.8 83.4,328 83.4,336 82,339.4 78,339 76.5,334" fill="#7f7f7f"/>
<path d="M75.92 332.11h1v1h-1zM75.77 334.16h1v1h-1zM82 332.21h1v1h-1zM78.64 327.66h1v1h-1zM83.09 328.66h1v1h-1zM80.22 340.87h1v1h-1zM76.38 330.68h1v1h-1zM79.15 326.92h1v1h-1zM76.42 336.94h1v1h-1zM82.03 333.78h1v1h-1zM77.26 334.48h1v1h-1zM80.05 325.8h1v1h-1zM79.83 339.76h1v1h-1zM82.31 327.89h1v1h-1zM81.55 326.05h1v1h-1zM80.91 332.91h1v1h-1zM82.18 339.09h1v1h-1zM78.05 338.5h1v1h-1zM83.1 335.19h1v1h-1zM76.31 329.8h1v1h-1zM80.42 328.34h1v1h-1zM80.86 338.44h1v1h-1zM75.22 331.54h1v1h-1zM76.64 334.31h1v1h-1zM79.29 338.34h1v1h-1zM83.24 333.31h1v1h-1zM81.96 328.17h1v1h-1zM83.16 327.39h1v1h-1zM77.57 338.46h1v1h-1zM82.73 326.37h1v1h-1zM78.29 326.91h1v1h-1zM81.11 338.61h1v1h-1zM80.84 326.1h1v1h-1zM82.2 331.71h1v1h-1zM82.21 330.59h1v1h-1zM84.68 332.56h1v1h-1zM83.32 333.94h1v1h-1zM84.17 327.41h1v1h-1zM83.25 334.11h1v1h-1zM75.3 330.87h1v1h-1zM74.84 326.2h1v1h-1zM76.62 330.39h1v1h-1zM82.45 332.96h1v1h-1zM81.09 329.62h1v1h-1zM77.81 326.4h1v1h-1zM75.64 328.17h1v1h-1zM76.48 328.48h1v1h-1zM78 326.11h1v1h-1zM74.61 328.97h1v1h-1zM81.12 326.28h1v1h-1z" fill="#7f7f7f"/>
<path d="M75.97 341.58h1v1h-1zM82.77 328.98h1v1h-1zM72.99 333.1h1v1h-1zM77.79 332.79h1v1h-1zM71.47 330.19h1v1h-1zM81.1 342.55h1v1h-1zM70.16 336.18h1v1h-1zM81.62 326.22h1v1h-1zM82.91 327.74h1v1h-1zM79.09 335.95h1v1h-1zM79.53 331.32h1v1h-1zM76.22 336.57h1v1h-1zM76.31 338.02h1v1h-1zM76.65 333.83h1v1h-1zM69.87 337.26h1v1h-1zM77.33 329.97h1v1h-1zM81.72 340.32h1v1h-1zM76.83 328.91h1v1h-1zM77.07 327.53h1v1h-1zM71.56 333.68h1v1h-1zM70.97 333.9h1v1h-1zM77.66 326.27h1v1h-1zM79.68 327.06h1v1h-1zM81.24 340.28h1v1h-1zM77.68 326.53h1v1h-1z" fill="#7f7f7f"/>
<path d="M75.92 325.85h1v1h-1zM79.87 330.87h1v1h-1zM70.55 332.79h1v1h-1zM75.71 332.5h1v1h-1zM83.05 323.4h1v1h-1zM80.84 332.2h1v1h-1zM68.33 325.54h1v1h-1zM80.28 323.33h1v1h-1zM82.71 324.66h1v1h-1zM81.31 323.15h1v1h-1zM75.89 332.08h1v1h-1zM70.8 324.52h1v1h-1zM75.95 325.17h1v1h-1zM67.84 323.59h1v1h-1zM69.99 332.27h1v1h-1zM78.96 331.8h1v1h-1zM70.12 330.53h1v1h-1zM69.19 327.6h1v1h-1zM78.21 325.64h1v1h-1zM82.3 327.88h1v1h-1zM77.23 331.65h1v1h-1zM78.1 326.03h1v1h-1zM81 324.54h1v1h-1zM84.34 328.14h1v1h-1zM73.43 330.29h1v1h-1z" fill="#9467bd"/>
<polygon points="104,327 108,324 115,322 125,320.5 137.4,318.6 141.8,316.9 146.2,315.1 149.7,318.6 152.3,323.9 153.6,331.8 152.3,338.8 149.7,345.8 145.3,351.9 139.2,356.3 131.3,358.1 124.3,356.3 118.1,353.7 111.1,351.1 105,348.4 102.4,345.8 105,343.2 108.5,339.7 112.9,338.8 117.3,337.6 121,337.2 112,336.4 106,334 104,330" fill="#2ca02c"/>
<path d="M149.57 347.03h1v1h-1zM111.21 321.9h1v1h-1zM120.37 353.75h1v1h-1zM115.13 352.34h1v1h-1zM109.18 324.23h1v1h-1zM147.74 343.94h1v1h-1zM125.67 321.15h1v1h-1zM107.5 324.14h1v1h-1zM120.59 321.03h1v1h-1zM127.98 356.69h1v1h-1zM121.21 354.99h1v1h-1zM109.01 335.41h1v1h-1zM117.96 319.41h1v1h-1zM105.41 341.62h1v1h-1zM104.42 324.36h1v1h-1zM152.31 329.33h1v1h-1zM108.83 334.18h1v1h-1zM115.71 336.48h1v1h-1zM151.29 340.04h1v1h-1zM106.71 341.71h1v1h-1zM108.65 335.08h1v1h-1zM123.01 355.87h1v1h-1zM110.99 339.35h1v1h-1zM152.69 322.11h1v1h-1zM106.07 341.01h1v1h-1zM115.93 336.32h1v1h-1zM102.26 346.46h1v1h-1zM120.83 320.81h1v1h-1zM152.47 326.13h1v1h-1zM115.95 336.6h1v1h-1zM132.17 357.58h1v1h-1zM138.75 356.96h1v1h-1zM105.3 334.15h1v1h-1zM105.61 325.54h1v1h-1zM104.01 345.5h1v1h-1zM152.81 325.46h1v1h-1zM144.87 314.68h1v1h-1zM109.05 348.32h1v1h-1zM146.84 348.43h1v1h-1zM116.91 337.5h1v1h-1zM130.55 358.17h1v1h-1zM123.65 355.93h1v1h-1zM128.11 319.58h1v1h-1zM109.97 335.81h1v1h-1zM108.92 323.83h1v1h-1zM119.58 352.84h1v1h-1zM113.17 321.21h1v1h-1zM112.16 336.8h1v1h-1zM115.27 320.19h1v1h-1zM108.2 334.77h1v1h-1zM123.68 320.75h1v1h-1zM109.28 337.46h1v1h-1zM120.35 354.79h1v1h-1zM119.53 320.14h1v1h-1zM151.84 324.74h1v1h-1zM146.16 316.75h1v1h-1zM151.75 335.29h1v1h-1zM142.42 352.65h1v1h-1zM107.15 323.87h1v1h-1zM104.04 343.51h1v1h-1zM136.75 358.08h1v1h-1zM118.51 320.44h1v1h-1zM104.14 327.82h1v1h-1zM104.96 330.35h1v1h-1zM143.6 351.83h1v1h-1zM142.02 354.1h1v1h-1zM147.63 315.58h1v1h-1zM139.46 315.98h1v1h-1zM121.37 320.15h1v1h-1zM106.19 338.99h1v1h-1zM120.47 355.36h1v1h-1zM152.18 337.58h1v1h-1zM117.91 336.51h1v1h-1zM148.13 315.55h1v1h-1zM152.87 334.72h1v1h-1zM145.5 348.08h1v1h-1zM101.83 344.2h1v1h-1zM153.19 327.4h1v1h-1zM115.39 351.84h1v1h-1zM149.42 344.01h1v1h-1zM122.62 320.45h1v1h-1zM143.88 316.17h1v1h-1zM108.93 349.3h1v1h-1zM129.69 320.01h1v1h-1zM139.45 356.25h1v1h-1zM136.94 318.09h1v1h-1zM120.59 320.55h1v1h-1zM153.82 335.85h1v1h-1zM103.39 347.57h1v1h-1zM119.87 354.33h1v1h-1zM152.98 336.92h1v1h-1zM106.73 339.11h1v1h-1zM119.82 354.45h1v1h-1zM123.83 356.95h1v1h-1zM112.79 336.61h1v1h-1zM101.38 345.66h1v1h-1zM106.69 347.31h1v1h-1zM109.96 348.87h1v1h-1zM118.06 353.93h1v1h-1zM121.74 355.16h1v1h-1zM105.73 339.95h1v1h-1zM144.72 315.1h1v1h-1zM120.93 355.8h1v1h-1zM110.58 336.51h1v1h-1zM104.69 342.38h1v1h-1zM105.26 331.11h1v1h-1zM130.95 316.98h1v1h-1zM140.4 355.96h1v1h-1zM135.61 355.4h1v1h-1zM119.7 352.9h1v1h-1zM151.58 340.26h1v1h-1zM110.53 351.97h1v1h-1zM124.64 320.02h1v1h-1zM112.2 323.02h1v1h-1zM104.57 325.55h1v1h-1zM109.02 350.65h1v1h-1zM141.28 314.23h1v1h-1zM138.56 357.49h1v1h-1zM152.09 337.82h1v1h-1zM105.76 340.72h1v1h-1zM145.53 349.31h1v1h-1zM104.25 333.57h1v1h-1zM111.97 337.55h1v1h-1zM149.98 320.46h1v1h-1zM113.07 339.21h1v1h-1zM147.3 317.18h1v1h-1zM150.05 343.13h1v1h-1zM105.5 349.06h1v1h-1zM150.06 321.91h1v1h-1zM119.04 353.28h1v1h-1zM110.47 335.17h1v1h-1zM114.45 337.22h1v1h-1zM127.57 318.51h1v1h-1zM107.83 325.07h1v1h-1zM116.43 353.18h1v1h-1zM127.52 321.11h1v1h-1zM153.91 331.02h1v1h-1zM108.12 341.67h1v1h-1zM124.51 354.6h1v1h-1zM116.75 334.66h1v1h-1zM136.53 317.05h1v1h-1zM101.13 346.95h1v1h-1zM133.35 357.66h1v1h-1zM126.45 319.67h1v1h-1zM146.99 350.09h1v1h-1zM140.73 352.64h1v1h-1zM104.98 324.95h1v1h-1zM131.24 355.81h1v1h-1zM150.53 335.52h1v1h-1zM114.73 320.37h1v1h-1zM106.5 322.62h1v1h-1zM108.6 337.46h1v1h-1zM138.77 354.55h1v1h-1zM108.22 321.99h1v1h-1zM153.12 327.4h1v1h-1zM144.05 350.08h1v1h-1zM138.26 317.61h1v1h-1zM133.94 356.3h1v1h-1zM112.24 338.71h1v1h-1zM145.89 317.13h1v1h-1zM116.88 352.07h1v1h-1zM151.58 325.43h1v1h-1zM119.96 353.92h1v1h-1zM106.34 347.59h1v1h-1zM111.13 322.55h1v1h-1zM136.71 317.71h1v1h-1zM116.57 350.73h1v1h-1zM122.74 354.9h1v1h-1zM108.62 349.45h1v1h-1zM138.93 316.26h1v1h-1zM104.01 343.99h1v1h-1zM109.3 321.1h1v1h-1zM115.34 354.01h1v1h-1zM105.89 340.4h1v1h-1zM150.33 322.19h1v1h-1zM148.43 342.2h1v1h-1zM111.76 322.11h1v1h-1zM123.61 319.1h1v1h-1zM111.83 335.99h1v1h-1zM150.35 335.36h1v1h-1zM102.76 330h1v1h-1zM119.85 320.15h1v1h-1zM129.03 319.33h1v1h-1zM113.51 352.67h1v1h-1zM118.12 320.66h1v1h-1zM105.89 323.95h1v1h-1zM104.01 347.57h1v1h-1zM104.57 340.51h1v1h-1zM105.47 348.42h1v1h-1zM105.64 349.81h1v1h-1zM147.51 314.7h1v1h-1zM106.42 325.41h1v1h-1zM112 338.89h1v1h-1zM105.31 349.36h1v1h-1zM144.98 352.17h1v1h-1zM128.73 357.9h1v1h-1zM127.99 318.69h1v1h-1zM117.62 352.8h1v1h-1zM152.67 334.16h1v1h-1zM105.61 340.6h1v1h-1zM114.4 321.69h1v1h-1zM112.45 339.19h1v1h-1zM104.54 329.33h1v1h-1zM149.84 323.68h1v1h-1zM151.98 333.58h1v1h-1zM116.21 335.61h1v1h-1zM103.66 327.26h1v1h-1zM128.73 355.15h1v1h-1zM110.72 321.39h1v1h-1zM119.3 336.45h1v1h-1zM117.61 335.78h1v1h-1zM112.62 336.33h1v1h-1zM133.83 356.37h1v1h-1zM102.58 344.94h1v1h-1zM124.06 355.08h1v1h-1zM138.4 319h1v1h-1zM106.81 340.12h1v1h-1zM109.54 338.25h1v1h-1zM130.68 356.06h1v1h-1zM137.88 355.71h1v1h-1zM135.69 318.85h1v1h-1zM108.23 350.77h1v1h-1zM150.98 339.1h1v1h-1zM111.16 322.69h1v1h-1zM119.88 319.36h1v1h-1zM129.03 318.73h1v1h-1zM139.65 355.31h1v1h-1zM104.19 327.43h1v1h-1zM131.2 359.04h1v1h-1zM151.49 342.54h1v1h-1zM112.25 338.31h1v1h-1zM109.31 323.57h1v1h-1zM118.1 321.49h1v1h-1zM118.33 337.26h1v1h-1zM114.63 336.56h1v1h-1zM153.46 339.86h1v1h-1zM145.33 314.91h1v1h-1zM105.29 332.8h1v1h-1zM149.54 348.54h1v1h-1zM103.54 328.22h1v1h-1zM145.18 316.8h1v1h-1zM114.6 335.92h1v1h-1zM106.19 339.43h1v1h-1zM103.97 329.25h1v1h-1zM103.84 344.12h1v1h-1zM149.5 320.48h1v1h-1zM120.51 321.17h1v1h-1zM123.56 320.12h1v1h-1zM144.54 316.48h1v1h-1zM105.17 324.58h1v1h-1zM109.4 322.84h1v1h-1zM110.68 333.67h1v1h-1zM126.45 319.77h1v1h-1zM110.97 334.35h1v1h-1zM146.98 348.56h1v1h-1zM144.91 350.4h1v1h-1zM142.27 317.04h1v1h-1zM134.82 358.38h1v1h-1zM147.22 316.84h1v1h-1zM148.69 316.47h1v1h-1zM130.96 318.93h1v1h-1zM116.59 337.83h1v1h-1zM113.43 321.29h1v1h-1zM138.47 317.32h1v1h-1zM146.84 316.31h1v1h-1zM105.55 328.07h1v1h-1zM118.98 322.62h1v1h-1zM112.37 321.33h1v1h-1zM105.48 330.37h1v1h-1zM152.67 328.5h1v1h-1zM113.31 337.8h1v1h-1zM150 344.26h1v1h-1zM130.97 357.98h1v1h-1zM104.38 342.1h1v1h-1zM117.29 321.88h1v1h-1zM142.77 353.4h1v1h-1zM123.13 354.11h1v1h-1zM128.71 357.35h1v1h-1zM102.8 348.19h1v1h-1zM112.43 321.42h1v1h-1zM116.23 336.66h1v1h-1zM106.55 324.31h1v1h-1zM120.14 337.25h1v1h-1zM113.42 338.32h1v1h-1zM152.58 333.69h1v1h-1zM138.34 355.68h1v1h-1zM123.15 318.53h1v1h-1zM119.03 338.07h1v1h-1zM152.32 335.2h1v1h-1zM121.07 336.36h1v1h-1zM139.2 354.43h1v1h-1zM107.06 324.17h1v1h-1zM134.85 318.91h1v1h-1zM111.68 338.6h1v1h-1zM109.38 350.2h1v1h-1zM124.82 355.8h1v1h-1zM110.18 350.87h1v1h-1zM106.83 348.86h1v1h-1zM142.4 352.6h1v1h-1zM123.33 320.39h1v1h-1zM127.42 356.26h1v1h-1zM130.33 356.94h1v1h-1zM113.64 337.84h1v1h-1zM150.96 341.21h1v1h-1zM153.31 337.44h1v1h-1zM152.61 328.86h1v1h-1zM151.06 344.45h1v1h-1zM113.7 334.43h1v1h-1zM109.56 322.02h1v1h-1zM109.37 335.99h1v1h-1zM119.53 355.15h1v1h-1zM113.52 321.94h1v1h-1zM107.98 326.11h1v1h-1zM106.47 341.42h1v1h-1zM111.32 337.57h1v1h-1zM108.1 322.65h1v1h-1zM112.54 352.49h1v1h-1zM110.5 335.23h1v1h-1zM137.27 356.27h1v1h-1zM149.45 320.73h1v1h-1zM121.58 318.9h1v1h-1zM140.12 355.7h1v1h-1zM137.35 356.54h1v1h-1zM125.12 320.75h1v1h-1zM149.97 320.02h1v1h-1zM135.58 355.62h1v1h-1zM130.45 357.11h1v1h-1zM106.38 349.49h1v1h-1zM122.74 355.83h1v1h-1zM144.51 316.23h1v1h-1z" fill="#2ca02c"/>
<path d="M121.84 331.27h1.1v1.1h-1.1zM104.02 328.36h1.1v1.1h-1.1zM144.82 326.93h1.1v1.1h-1.1zM130.17 330.09h1.1v1.1h-1.1zM117.12 336.29h1.1v1.1h-1.1zM117.63 333.6h1.1v1.1h-1.1zM145.27 329.45h1.1v1.1h-1.1zM106.43 328.8h1.1v1.1h-1.1zM124.57 333.14h1.1v1.1h-1.1zM108.69 326.76h1.1v1.1h-1.1zM149.5 333.18h1.1v1.1h-1.1zM110.87 328.16h1.1v1.1h-1.1zM120.37 332.39h1.1v1.1h-1.1zM133.03 334.57h1.1v1.1h-1.1zM142.87 330.42h1.1v1.1h-1.1zM138.91 333.24h1.1v1.1h-1.1zM139.92 329.89h1.1v1.1h-1.1zM141.13 332.81h1.1v1.1h-1.1zM147.36 325.54h1.1v1.1h-1.1zM140.2 331.27h1.1v1.1h-1.1zM127.35 335.98h1.1v1.1h-1.1zM130.9 329.17h1.1v1.1h-1.1zM141.07 334.86h1.1v1.1h-1.1zM132.6 328.69h1.1v1.1h-1.1zM125.16 329.67h1.1v1.1h-1.1zM138.16 327.61h1.1v1.1h-1.1zM122.2 330.89h1.1v1.1h-1.1zM121.91 327.97h1.1v1.1h-1.1zM141.23 334.57h1.1v1.1h-1.1zM127.43 329.5h1.1v1.1h-1.1zM112.29 327.75h1.1v1.1h-1.1zM110.41 331.14h1.1v1.1h-1.1zM131.37 325.05h1.1v1.1h-1.1zM147.62 328h1.1v1.1h-1.1zM143.93 334.43h1.1v1.1h-1.1zM149.47 326.5h1.1v1.1h-1.1zM123.92 335.33h1.1v1.1h-1.1zM130.57 330.17h1.1v1.1h-1.1zM147.62 333.62h1.1v1.1h-1.1zM128.29 330.42h1.1v1.1h-1.1zM136.34 328.82h1.1v1.1h-1.1zM120.62 331.38h1.1v1.1h-1.1zM120.3 335.8h1.1v1.1h-1.1zM135.92 330.52h1.1v1.1h-1.1zM108.2 328.63h1.1v1.1h-1.1zM122.69 330.97h1.1v1.1h-1.1zM131 334.95h1.1v1.1h-1.1zM149.74 330.03h1.1v1.1h-1.1zM124.58 331.76h1.1v1.1h-1.1zM128.9 334.15h1.1v1.1h-1.1zM111.64 327.93h1.1v1.1h-1.1zM128.05 325.33h1.1v1.1h-1.1zM146.39 332.57h1.1v1.1h-1.1zM146.08 329.21h1.1v1.1h-1.1zM110.96 327.57h1.1v1.1h-1.1zM128.01 330.26h1.1v1.1h-1.1zM112.48 326.23h1.1v1.1h-1.1zM133.69 331.49h1.1v1.1h-1.1zM134 324.48h1.1v1.1h-1.1zM123.2 333.8h1.1v1.1h-1.1zM118.17 332.58h1.1v1.1h-1.1zM103.64 327.76h1.1v1.1h-1.1zM143.87 331.28h1.1v1.1h-1.1zM135.52 326.41h1.1v1.1h-1.1zM127.35 330.87h1.1v1.1h-1.1zM116.22 332.04h1.1v1.1h-1.1zM131.02 329.09h1.1v1.1h-1.1zM109.28 325.91h1.1v1.1h-1.1zM139.91 325.28h1.1v1.1h-1.1zM108.25 326.08h1.1v1.1h-1.1zM128.53 334.24h1.1v1.1h-1.1zM132.87 334.03h1.1v1.1h-1.1zM140.44 327.99h1.1v1.1h-1.1zM137.79 328.37h1.1v1.1h-1.1zM111.58 327.28h1.1v1.1h-1.1zM131.4 328.31h1.1v1.1h-1.1zM125.04 328.77h1.1v1.1h-1.1zM124.55 331.7h1.1v1.1h-1.1zM118.56 335.19h1.1v1.1h-1.1zM142.61 327.75h1.1v1.1h-1.1zM127.24 335.82h1.1v1.1h-1.1zM115.11 328.82h1.1v1.1h-1.1zM137.94 326.72h1.1v1.1h-1.1zM118.29 334.89h1.1v1.1h-1.1zM126.7 333.86h1.1v1.1h-1.1zM115.13 326.12h1.1v1.1h-1.1zM120.65 326.28h1.1v1.1h-1.1zM150.08 327.58h1.1v1.1h-1.1zM130.4 325.39h1.1v1.1h-1.1zM129.07 328.77h1.1v1.1h-1.1zM122.8 324.77h1.1v1.1h-1.1zM109.37 334.27h1.1v1.1h-1.1zM120.31 327.01h1.1v1.1h-1.1zM112.63 327.49h1.1v1.1h-1.1zM135.34 328.22h1.1v1.1h-1.1zM110.93 332.77h1.1v1.1h-1.1zM107.9 327.32h1.1v1.1h-1.1zM143.53 325.55h1.1v1.1h-1.1zM124.73 334.4h1.1v1.1h-1.1zM142.09 325.94h1.1v1.1h-1.1zM120.39 332.98h1.1v1.1h-1.1zM121.54 335.93h1.1v1.1h-1.1zM127.68 326.79h1.1v1.1h-1.1zM125.18 325.59h1.1v1.1h-1.1zM137.36 327.21h1.1v1.1h-1.1zM146.63 331.29h1.1v1.1h-1.1zM121.11 327.03h1.1v1.1h-1.1zM132.64 326.61h1.1v1.1h-1.1zM145.32 325.48h1.1v1.1h-1.1zM128.08 330.73h1.1v1.1h-1.1zM116.43 333.6h1.1v1.1h-1.1zM121.92 332.17h1.1v1.1h-1.1zM130.7 327.83h1.1v1.1h-1.1zM122.17 325.03h1.1v1.1h-1.1zM111.95 334.59h1.1v1.1h-1.1zM118.86 332.23h1.1v1.1h-1.1zM108.68 330.97h1.1v1.1h-1.1zM120.8 330.2h1.1v1.1h-1.1zM117.7 324.77h1.1v1.1h-1.1zM118.39 326.78h1.1v1.1h-1.1zM109.5 332.91h1.1v1.1h-1.1zM117 328.99h1.1v1.1h-1.1zM147.08 333.64h1.1v1.1h-1.1zM145.82 334.72h1.1v1.1h-1.1zM109.79 327.41h1.1v1.1h-1.1zM135.3 328.34h1.1v1.1h-1.1zM123.25 332.19h1.1v1.1h-1.1zM137.01 327.06h1.1v1.1h-1.1zM144.09 328.35h1.1v1.1h-1.1zM133.63 326.22h1.1v1.1h-1.1zM138.68 332.86h1.1v1.1h-1.1zM111.23 326.43h1.1v1.1h-1.1zM118 328.71h1.1v1.1h-1.1zM105.33 327.84h1.1v1.1h-1.1zM134.09 326.2h1.1v1.1h-1.1zM143.74 331.08h1.1v1.1h-1.1zM137.85 327.13h1.1v1.1h-1.1zM124.33 332.5h1.1v1.1h-1.1zM143.5 333.66h1.1v1.1h-1.1zM144.45 331.54h1.1v1.1h-1.1zM105.72 327.01h1.1v1.1h-1.1zM108.79 333.84h1.1v1.1h-1.1zM113.54 335.38h1.1v1.1h-1.1zM139.43 325.03h1.1v1.1h-1.1zM136.79 328.87h1.1v1.1h-1.1zM139.33 334.31h1.1v1.1h-1.1zM116.95 325.07h1.1v1.1h-1.1zM148.88 329.25h1.1v1.1h-1.1zM148.1 332.6h1.1v1.1h-1.1zM138.9 334.32h1.1v1.1h-1.1zM133.6 329.61h1.1v1.1h-1.1zM124.01 330.35h1.1v1.1h-1.1zM148 325.55h1.1v1.1h-1.1zM140.02 324.5h1.1v1.1h-1.1zM137.18 334.02h1.1v1.1h-1.1zM115.99 330.78h1.1v1.1h-1.1zM149.98 331.92h1.1v1.1h-1.1zM129.56 327.07h1.1v1.1h-1.1zM106.3 328.42h1.1v1.1h-1.1zM123.21 326.47h1.1v1.1h-1.1zM118.36 325.66h1.1v1.1h-1.1zM137.38 332.33h1.1v1.1h-1.1zM114.87 326.97h1.1v1.1h-1.1zM128.19 329.51h1.1v1.1h-1.1zM148.37 328.34h1.1v1.1h-1.1zM117.82 335.01h1.1v1.1h-1.1zM110.26 330.99h1.1v1.1h-1.1zM119.46 334.14h1.1v1.1h-1.1zM129.77 333.46h1.1v1.1h-1.1zM111.57 332.28h1.1v1.1h-1.1zM132.19 329.71h1.1v1.1h-1.1zM140.23 334.34h1.1v1.1h-1.1zM108.94 327.57h1.1v1.1h-1.1zM120.75 326.53h1.1v1.1h-1.1zM106.35 327.46h1.1v1.1h-1.1zM112.91 332.72h1.1v1.1h-1.1zM124.95 325.36h1.1v1.1h-1.1zM119.02 329.81h1.1v1.1h-1.1zM120.87 326.05h1.1v1.1h-1.1zM107.48 332.91h1.1v1.1h-1.1zM150.5 331h1.1v1.1h-1.1zM108.67 330.06h1.1v1.1h-1.1zM124.29 326.32h1.1v1.1h-1.1zM147.59 332.01h1.1v1.1h-1.1zM133.58 335.64h1.1v1.1h-1.1zM134.77 327.09h1.1v1.1h-1.1zM115.26 325.68h1.1v1.1h-1.1zM143.75 327.65h1.1v1.1h-1.1zM112.37 331.93h1.1v1.1h-1.1zM111.54 333.76h1.1v1.1h-1.1zM143.31 333.23h1.1v1.1h-1.1zM119.13 326.26h1.1v1.1h-1.1zM143.07 327.95h1.1v1.1h-1.1zM121.14 330.84h1.1v1.1h-1.1zM121.18 334.34h1.1v1.1h-1.1zM130.66 331.8h1.1v1.1h-1.1zM142.8 332.77h1.1v1.1h-1.1zM127.18 330.19h1.1v1.1h-1.1zM111.01 327.69h1.1v1.1h-1.1zM131.34 324.95h1.1v1.1h-1.1zM136.47 326h1.1v1.1h-1.1zM124.72 336.07h1.1v1.1h-1.1zM124.55 326.34h1.1v1.1h-1.1zM143.81 334.64h1.1v1.1h-1.1zM141.22 329.27h1.1v1.1h-1.1zM117.05 332.22h1.1v1.1h-1.1zM128.15 329.22h1.1v1.1h-1.1zM119.71 329.43h1.1v1.1h-1.1zM135.42 334.28h1.1v1.1h-1.1zM146.84 326.01h1.1v1.1h-1.1z" fill="#ff7f0e"/>
<path d="M119.33 322.6h1v1h-1zM130.03 321.94h1v1h-1zM120.45 322.72h1v1h-1zM134.56 323.76h1v1h-1zM119.38 323.5h1v1h-1zM145.61 322.87h1v1h-1zM133.39 321.6h1v1h-1zM121.24 325.7h1v1h-1zM134.65 322.63h1v1h-1zM110.91 324.12h1v1h-1zM122.38 323.57h1v1h-1zM124.16 323.21h1v1h-1zM130.09 322.27h1v1h-1zM143.1 323.34h1v1h-1zM111.99 325.54h1v1h-1zM128.73 321.26h1v1h-1zM127.07 323.38h1v1h-1zM116.56 323.51h1v1h-1zM112.02 323.09h1v1h-1zM129.52 324.5h1v1h-1zM137.78 320.3h1v1h-1zM111.58 325.31h1v1h-1zM123.18 320.7h1v1h-1zM138.5 320.46h1v1h-1zM116.98 322.11h1v1h-1zM116.03 321.6h1v1h-1zM135.8 322.48h1v1h-1zM142.39 323.44h1v1h-1zM114.22 324.72h1v1h-1zM121.16 324.85h1v1h-1zM112.41 322.11h1v1h-1zM129.45 325.12h1v1h-1zM112.02 325.98h1v1h-1zM134.51 321.28h1v1h-1zM115.23 322.63h1v1h-1zM141.03 323.57h1v1h-1zM111.92 325.1h1v1h-1zM114.91 323.38h1v1h-1zM119.1 324.31h1v1h-1zM142.52 323.27h1v1h-1zM145.45 319.6h1v1h-1zM114.79 325.23h1v1h-1zM134.68 322.25h1v1h-1zM126.53 320.61h1v1h-1zM141.3 322.25h1v1h-1zM116.15 325.76h1v1h-1zM114.29 322.03h1v1h-1zM126.21 323.54h1v1h-1zM123.02 321.98h1v1h-1zM134.34 321.41h1v1h-1zM118.43 323h1v1h-1zM117.98 323.48h1v1h-1zM129.93 324.9h1v1h-1zM132.82 323.94h1v1h-1zM122.02 321.47h1v1h-1zM119.66 324.84h1v1h-1zM137.08 323.06h1v1h-1zM132.91 321.95h1v1h-1zM129.53 322.34h1v1h-1zM126.76 322.07h1v1h-1zM125.63 322.62h1v1h-1zM130.25 321.62h1v1h-1zM119.56 321.66h1v1h-1zM136.57 323.36h1v1h-1zM145 321.88h1v1h-1zM121.78 324.92h1v1h-1zM110.21 322.89h1v1h-1zM143.46 321.43h1v1h-1zM135.68 321.03h1v1h-1zM123.48 320.9h1v1h-1z" fill="#e377c2"/>
<path d="M132.82 351.81h0.9v0.9h-0.9zM135.13 323.11h0.9v0.9h-0.9zM143.39 352.3h0.9v0.9h-0.9zM146.77 342.17h0.9v0.9h-0.9zM149.2 323.78h0.9v0.9h-0.9zM118.68 346.87h0.9v0.9h-0.9zM135.18 332.08h0.9v0.9h-0.9zM136.71 329.17h0.9v0.9h-0.9zM119.08 335.91h0.9v0.9h-0.9zM132.56 325.7h0.9v0.9h-0.9zM149.32 338.91h0.9v0.9h-0.9zM133.39 345.79h0.9v0.9h-0.9zM141.23 318.51h0.9v0.9h-0.9zM143.63 332.85h0.9v0.9h-0.9zM129.53 339.96h0.9v0.9h-0.9zM130.37 342.92h0.9v0.9h-0.9zM132.75 328.88h0.9v0.9h-0.9zM139.89 325.74h0.9v0.9h-0.9zM138.38 347.47h0.9v0.9h-0.9zM141.68 327.95h0.9v0.9h-0.9zM125.15 326.62h0.9v0.9h-0.9zM128.74 355.11h0.9v0.9h-0.9zM126.31 342.83h0.9v0.9h-0.9zM141.59 330.24h0.9v0.9h-0.9zM140.69 318.52h0.9v0.9h-0.9zM130.38 322.47h0.9v0.9h-0.9zM150.07 330.37h0.9v0.9h-0.9zM139.72 354.27h0.9v0.9h-0.9zM141.79 325.08h0.9v0.9h-0.9zM152.25 336.1h0.9v0.9h-0.9z" fill="#ff7f0e"/>
<path d="M134.57 329.5h0.8v0.8h-0.8zM142.99 334.48h0.8v0.8h-0.8zM118.58 353.55h0.8v0.8h-0.8zM107.52 346.24h0.8v0.8h-0.8zM105.35 342.45h0.8v0.8h-0.8zM122.57 351.85h0.8v0.8h-0.8zM122.99 354.22h0.8v0.8h-0.8zM150.38 341.67h0.8v0.8h-0.8zM113.47 325.53h0.8v0.8h-0.8zM115.43 333.35h0.8v0.8h-0.8zM113.85 323.44h0.8v0.8h-0.8zM140.87 342.34h0.8v0.8h-0.8zM113.09 339.19h0.8v0.8h-0.8zM146.51 326.19h0.8v0.8h-0.8zM140.48 350.08h0.8v0.8h-0.8zM116.47 328.96h0.8v0.8h-0.8zM126.86 353.01h0.8v0.8h-0.8zM110.27 344.06h0.8v0.8h-0.8zM132.6 334.18h0.8v0.8h-0.8zM131.66 352.66h0.8v0.8h-0.8zM120.45 348.23h0.8v0.8h-0.8zM146.2 322.54h0.8v0.8h-0.8zM109.72 346.35h0.8v0.8h-0.8zM136.96 318.58h0.8v0.8h-0.8zM138.68 352.62h0.8v0.8h-0.8z" fill="#bfe3bf"/>
<polygon points="83.4,317.6 86.1,315.8 90,316.6 95,318.2 100,320 108.5,321.2 115.5,322.4 115.5,323.2 108.5,322.8 100,322.2 93,321.9 86.8,321.8 84,320.5" fill="#7f7f7f"/>
<path d="M83.66 318.62h0.9v0.9h-0.9zM94.59 321.39h0.9v0.9h-0.9zM114.54 323.35h0.9v0.9h-0.9zM91.39 316.38h0.9v0.9h-0.9zM103.8 319.91h0.9v0.9h-0.9zM115.47 322.61h0.9v0.9h-0.9zM94.31 317.4h0.9v0.9h-0.9zM98.08 321.7h0.9v0.9h-0.9zM104.77 320.51h0.9v0.9h-0.9zM106.17 321.97h0.9v0.9h-0.9zM88.32 320.91h0.9v0.9h-0.9zM94.3 317.9h0.9v0.9h-0.9zM84.82 315.46h0.9v0.9h-0.9zM110.83 322.58h0.9v0.9h-0.9zM101.4 321.29h0.9v0.9h-0.9zM110.8 320.96h0.9v0.9h-0.9zM88.88 320.8h0.9v0.9h-0.9zM102.29 320.92h0.9v0.9h-0.9zM107.94 321.22h0.9v0.9h-0.9zM92.14 316.96h0.9v0.9h-0.9zM107.77 322.1h0.9v0.9h-0.9zM106.83 322.6h0.9v0.9h-0.9zM96.57 318.94h0.9v0.9h-0.9zM95.38 321.46h0.9v0.9h-0.9zM101.02 322.65h0.9v0.9h-0.9zM110.78 324.01h0.9v0.9h-0.9zM82.98 315.94h0.9v0.9h-0.9zM112.47 321.63h0.9v0.9h-0.9zM97.37 318.29h0.9v0.9h-0.9zM107.7 320.14h0.9v0.9h-0.9zM112.3 322.04h0.9v0.9h-0.9zM103.45 319.63h0.9v0.9h-0.9zM96.96 318.44h0.9v0.9h-0.9zM85.66 321.51h0.9v0.9h-0.9zM112.85 322.71h0.9v0.9h-0.9zM92.67 316.61h0.9v0.9h-0.9zM112.06 322.45h0.9v0.9h-0.9zM98.84 320.09h0.9v0.9h-0.9zM112.67 320.8h0.9v0.9h-0.9zM87.74 321.24h0.9v0.9h-0.9zM108.55 319.78h0.9v0.9h-0.9zM91.02 316.91h0.9v0.9h-0.9zM88.75 316.97h0.9v0.9h-0.9zM113.08 322.73h0.9v0.9h-0.9zM109.9 320.89h0.9v0.9h-0.9zM111.58 321.68h0.9v0.9h-0.9zM97.49 322.37h0.9v0.9h-0.9zM106.59 320.55h0.9v0.9h-0.9zM106.98 321.14h0.9v0.9h-0.9zM84.21 317.21h0.9v0.9h-0.9zM86.79 316.36h0.9v0.9h-0.9zM100.51 320.11h0.9v0.9h-0.9zM92.47 321.9h0.9v0.9h-0.9zM90.23 322.01h0.9v0.9h-0.9zM94.22 321.15h0.9v0.9h-0.9zM84.94 315.67h0.9v0.9h-0.9zM99.97 322.38h0.9v0.9h-0.9zM104.79 321.59h0.9v0.9h-0.9zM107.09 320.14h0.9v0.9h-0.9zM96.19 317.84h0.9v0.9h-0.9zM107.13 320.2h0.9v0.9h-0.9zM87.28 315.09h0.9v0.9h-0.9zM111.72 322.66h0.9v0.9h-0.9zM97.87 321.77h0.9v0.9h-0.9zM112.43 321.96h0.9v0.9h-0.9zM109.05 321.34h0.9v0.9h-0.9zM111.28 321.47h0.9v0.9h-0.9zM91.94 320.58h0.9v0.9h-0.9zM110.27 321.21h0.9v0.9h-0.9zM111.21 321.5h0.9v0.9h-0.9z" fill="#7f7f7f"/>
<path d="M86.74 316.98h0.9v0.9h-0.9zM86.21 316h0.9v0.9h-0.9zM84.72 320.39h0.9v0.9h-0.9zM84.71 320.46h0.9v0.9h-0.9zM96.37 319.67h0.9v0.9h-0.9zM93.68 319.18h0.9v0.9h-0.9zM91.77 317.29h0.9v0.9h-0.9zM84.59 317.6h0.9v0.9h-0.9zM110.77 321.28h0.9v0.9h-0.9zM97.85 318.97h0.9v0.9h-0.9zM84.59 317.68h0.9v0.9h-0.9zM91.73 321.24h0.9v0.9h-0.9zM92.31 320.61h0.9v0.9h-0.9zM84.8 318.56h0.9v0.9h-0.9zM104.58 320.34h0.9v0.9h-0.9zM86.19 316.05h0.9v0.9h-0.9zM96.26 320.23h0.9v0.9h-0.9zM84.77 320.5h0.9v0.9h-0.9zM92.38 317.07h0.9v0.9h-0.9zM95.15 320.09h0.9v0.9h-0.9zM90.12 319.39h0.9v0.9h-0.9zM85.95 318.79h0.9v0.9h-0.9zM92.28 317.92h0.9v0.9h-0.9zM85.79 316.38h0.9v0.9h-0.9zM93.64 318.68h0.9v0.9h-0.9z" fill="#d8d8d8"/>
<path d="M70.84 317.17h1.2v1.2h-1.2zM70.67 317.49h1.2v1.2h-1.2zM70.98 312.39h1.2v1.2h-1.2zM71.65 312.58h1.2v1.2h-1.2zM71.63 317.49h1.2v1.2h-1.2zM71.75 315.18h1.2v1.2h-1.2zM70.29 315.54h1.2v1.2h-1.2zM70.45 316.49h1.2v1.2h-1.2zM70.54 316h1.2v1.2h-1.2zM71.12 314.56h1.2v1.2h-1.2zM71.92 313.06h1.2v1.2h-1.2zM71.06 317.88h1.2v1.2h-1.2zM72.47 315.31h1.2v1.2h-1.2zM70.59 312.57h1.2v1.2h-1.2z" fill="#1f77b4"/>
<polygon points="71.1,312.8 72.8,312.5 73.4,316 73.1,319.6 71.4,319.6 70.8,316" fill="#1f77b4"/>
<path d="M80.54 313.75h1.1v1.1h-1.1zM78.28 316.59h1.1v1.1h-1.1zM76.04 316.13h1.1v1.1h-1.1zM76.32 316.59h1.1v1.1h-1.1zM78.34 315.44h1.1v1.1h-1.1zM76.52 315.7h1.1v1.1h-1.1zM76.55 313.81h1.1v1.1h-1.1zM76.77 318.88h1.1v1.1h-1.1zM78.31 319.01h1.1v1.1h-1.1zM75.44 319.36h1.1v1.1h-1.1zM78.23 318.33h1.1v1.1h-1.1zM78.72 317.63h1.1v1.1h-1.1zM76.7 318.05h1.1v1.1h-1.1zM76.26 314.75h1.1v1.1h-1.1zM75.53 315.62h1.1v1.1h-1.1zM78.41 314.94h1.1v1.1h-1.1zM80.6 313.52h1.1v1.1h-1.1zM78.76 314.54h1.1v1.1h-1.1zM78.86 318.28h1.1v1.1h-1.1zM79.54 313.37h1.1v1.1h-1.1zM76.8 317.02h1.1v1.1h-1.1zM79 317.65h1.1v1.1h-1.1zM80.16 315.28h1.1v1.1h-1.1zM80.13 316.09h1.1v1.1h-1.1zM80.9 315.75h1.1v1.1h-1.1zM77.75 313.55h1.1v1.1h-1.1zM76.79 317.94h1.1v1.1h-1.1zM79.35 313.98h1.1v1.1h-1.1zM77.38 313.9h1.1v1.1h-1.1zM76.52 314.44h1.1v1.1h-1.1z" fill="#1f77b4"/>
<path d="M73.81 312.3h1v1h-1zM80.47 310.73h1v1h-1zM75.3 308.23h1v1h-1zM78.29 311.72h1v1h-1zM78.01 309.41h1v1h-1zM72.49 309.31h1v1h-1zM78.96 310.69h1v1h-1zM71.42 310.1h1v1h-1zM73.99 305.38h1v1h-1zM80.16 309.72h1v1h-1zM77.96 305.15h1v1h-1zM78.78 311.97h1v1h-1z" fill="#1f77b4"/>
<polygon points="71.1,320.8 78,321.6 86.1,323.6 86.1,325.1 78,323.6 71.1,322.6" fill="#8c564b" fill-opacity="0.9"/>
<path d="M71.97 321.36h1v1h-1zM74.99 322.51h1v1h-1zM74.88 321.7h1v1h-1zM81.16 321.71h1v1h-1zM71.61 322.98h1v1h-1zM75.92 323.83h1v1h-1zM78.55 321.84h1v1h-1zM77.43 321.4h1v1h-1zM79.21 322.96h1v1h-1zM76.25 322.16h1v1h-1zM71 321.67h1v1h-1zM72.98 319.86h1v1h-1zM81.11 321.65h1v1h-1zM76.32 322.86h1v1h-1zM71.85 320.95h1v1h-1zM84.06 322.49h1v1h-1zM81.87 322.61h1v1h-1zM73.71 322.31h1v1h-1zM73.45 321.41h1v1h-1zM84.78 322.25h1v1h-1z" fill="#8c564b"/>
<polygon points="69.4,304.2 71.8,300.8 75.9,299.2 80,300.1 84.8,302.2 88.2,303.5 86.8,304.6 82.7,304.6 80,303.5 76.6,303.5 73.8,304.6 72.5,308.3 70.7,307.3" fill="#bcbd22"/>
<path d="M72.61 299.72h0.9v0.9h-0.9zM73.11 305.58h0.9v0.9h-0.9zM69.5 305.8h0.9v0.9h-0.9zM71.02 307.08h0.9v0.9h-0.9zM83.43 301.83h0.9v0.9h-0.9zM86.65 304.12h0.9v0.9h-0.9zM73.13 306.05h0.9v0.9h-0.9zM69.45 304.7h0.9v0.9h-0.9zM87.27 302.5h0.9v0.9h-0.9zM83.23 301.4h0.9v0.9h-0.9zM71.93 306.92h0.9v0.9h-0.9zM70.75 306.38h0.9v0.9h-0.9zM70.62 300.54h0.9v0.9h-0.9zM69.28 306.05h0.9v0.9h-0.9zM80.32 303.91h0.9v0.9h-0.9zM79.18 302.76h0.9v0.9h-0.9zM83.4 301.25h0.9v0.9h-0.9zM72.55 305.24h0.9v0.9h-0.9zM86.86 301.76h0.9v0.9h-0.9zM76.32 302.93h0.9v0.9h-0.9zM82.35 301.4h0.9v0.9h-0.9zM72.06 308.13h0.9v0.9h-0.9zM83.56 304.28h0.9v0.9h-0.9zM75.28 303.02h0.9v0.9h-0.9zM74.72 304.1h0.9v0.9h-0.9zM86.33 302.17h0.9v0.9h-0.9zM73.04 304.07h0.9v0.9h-0.9zM69.44 304.66h0.9v0.9h-0.9zM79.91 300.17h0.9v0.9h-0.9zM73.03 304.98h0.9v0.9h-0.9zM72.57 299.42h0.9v0.9h-0.9zM74.43 298.87h0.9v0.9h-0.9zM81.42 300.44h0.9v0.9h-0.9zM85.19 301.39h0.9v0.9h-0.9zM75.14 299.77h0.9v0.9h-0.9zM75.78 299.3h0.9v0.9h-0.9zM72.11 300.49h0.9v0.9h-0.9zM84.52 301.59h0.9v0.9h-0.9zM76.7 298.67h0.9v0.9h-0.9zM72.24 305.27h0.9v0.9h-0.9z" fill="#bcbd22"/>
<path d="M90.44 305.07h1.1v1.1h-1.1zM105.12 306.78h1.1v1.1h-1.1zM115.05 307.83h1.1v1.1h-1.1zM116.1 307.4h1.1v1.1h-1.1zM90.27 304.18h1.1v1.1h-1.1zM108.94 307.07h1.1v1.1h-1.1zM121.2 306.98h1.1v1.1h-1.1zM93.92 305.88h1.1v1.1h-1.1zM119.25 306.87h1.1v1.1h-1.1zM115.22 307.25h1.1v1.1h-1.1zM113.27 306.89h1.1v1.1h-1.1zM89.98 304.39h1.1v1.1h-1.1zM111.2 306.78h1.1v1.1h-1.1zM96.77 306.69h1.1v1.1h-1.1zM128.6 303.62h1.1v1.1h-1.1zM129.66 301.92h1.1v1.1h-1.1zM95.76 306.31h1.1v1.1h-1.1zM95.91 306.09h1.1v1.1h-1.1zM94.45 305.62h1.1v1.1h-1.1zM107.83 306.87h1.1v1.1h-1.1zM122.2 307h1.1v1.1h-1.1zM96.61 305.31h1.1v1.1h-1.1zM122.99 306.64h1.1v1.1h-1.1zM125.5 304.98h1.1v1.1h-1.1zM114.18 307.29h1.1v1.1h-1.1zM91.9 305.35h1.1v1.1h-1.1zM97.71 305.74h1.1v1.1h-1.1zM121.18 306.89h1.1v1.1h-1.1zM96.85 305.88h1.1v1.1h-1.1zM94.42 304.83h1.1v1.1h-1.1zM111.24 306.87h1.1v1.1h-1.1zM112.9 306.73h1.1v1.1h-1.1zM122.96 306.81h1.1v1.1h-1.1zM118.7 307.06h1.1v1.1h-1.1zM113.41 307.91h1.1v1.1h-1.1zM115.21 307.5h1.1v1.1h-1.1zM118.81 306.71h1.1v1.1h-1.1zM116.59 307.06h1.1v1.1h-1.1zM105.89 307.25h1.1v1.1h-1.1zM91.5 304.37h1.1v1.1h-1.1zM101.52 306.53h1.1v1.1h-1.1zM120.62 307.32h1.1v1.1h-1.1zM128.78 302.51h1.1v1.1h-1.1zM110.49 307.64h1.1v1.1h-1.1zM104.89 307.48h1.1v1.1h-1.1zM119.38 306.42h1.1v1.1h-1.1zM92.28 304.71h1.1v1.1h-1.1zM99.15 306.53h1.1v1.1h-1.1zM127.35 303.71h1.1v1.1h-1.1zM103.01 306.22h1.1v1.1h-1.1zM98.08 306.7h1.1v1.1h-1.1zM115.85 306.97h1.1v1.1h-1.1zM127 304.49h1.1v1.1h-1.1zM96.24 305.83h1.1v1.1h-1.1zM88.5 304.55h1.1v1.1h-1.1z" fill="#bcbd22"/>
<path d="M108.95 307.77h1v1h-1zM129.29 302.24h1v1h-1zM100.87 304.4h1v1h-1zM109.75 307.43h1v1h-1zM94.92 306.63h1v1h-1zM122.48 307.05h1v1h-1zM107.54 306.49h1v1h-1zM100.34 306.66h1v1h-1zM124.08 306.47h1v1h-1zM116.4 308.06h1v1h-1zM107.66 306.55h1v1h-1zM88.85 305.36h1v1h-1zM120.43 308.58h1v1h-1zM106.21 306.23h1v1h-1zM108.27 306.28h1v1h-1zM123.48 305.84h1v1h-1zM89.28 303.84h1v1h-1zM102.26 307.26h1v1h-1zM109.88 306.83h1v1h-1zM112.28 308.36h1v1h-1zM98.51 305.48h1v1h-1zM98.89 305.59h1v1h-1zM96.58 306.74h1v1h-1zM101.86 305.61h1v1h-1zM124.81 304.46h1v1h-1zM98.98 306.87h1v1h-1zM91.1 305.51h1v1h-1zM93.76 306.05h1v1h-1zM113.12 308.3h1v1h-1zM96.95 307.26h1v1h-1z" fill="#bcbd22"/>
<polygon points="114.6,305.5 117.5,305 119,307.5 118,311 115,310.5" fill="#d62728"/>
<path d="M114.57 306.78h1.1v1.1h-1.1zM117.92 310.27h1.1v1.1h-1.1zM114.5 309.56h1.1v1.1h-1.1zM114.57 306.63h1.1v1.1h-1.1zM115.99 304.26h1.1v1.1h-1.1zM116.91 304.23h1.1v1.1h-1.1zM117.08 306.03h1.1v1.1h-1.1zM115.97 310.5h1.1v1.1h-1.1zM115.13 310.37h1.1v1.1h-1.1zM115.01 308.5h1.1v1.1h-1.1zM114.86 309.22h1.1v1.1h-1.1zM118.08 304.37h1.1v1.1h-1.1zM116.17 306.07h1.1v1.1h-1.1zM116.02 305.87h1.1v1.1h-1.1zM114.3 307.67h1.1v1.1h-1.1zM117.79 306.51h1.1v1.1h-1.1zM116.33 304.98h1.1v1.1h-1.1zM118.16 306h1.1v1.1h-1.1z" fill="#d62728"/>
<rect x="112.6" y="309.6" width="1.4" height="1.4" fill="#d62728"/>
<rect x="118.3" y="311.8" width="1.4" height="1.4" fill="#d62728"/>
<rect x="120.5" y="311.8" width="1.4" height="1.4" fill="#d62728"/>
<rect x="130.6" y="308.3" width="1.4" height="1.4" fill="#d62728"/>
<rect x="129.9" y="317.5" width="1.4" height="1.4" fill="#d62728"/>
<path d="M92.76 331.23h1.1v1.1h-1.1zM86.85 335.76h1.1v1.1h-1.1zM102.41 335.6h1.1v1.1h-1.1zM91.85 339.17h1.1v1.1h-1.1zM93.32 324.36h1.1v1.1h-1.1zM94.12 319.94h1.1v1.1h-1.1zM97.62 323.96h1.1v1.1h-1.1zM92.1 346.4h1.1v1.1h-1.1zM99.25 342.85h1.1v1.1h-1.1zM97.01 337.22h1.1v1.1h-1.1zM98.14 346.51h1.1v1.1h-1.1zM88.98 340.9h1.1v1.1h-1.1zM90.87 326.61h1.1v1.1h-1.1zM100.24 336.28h1.1v1.1h-1.1zM100.74 343.95h1.1v1.1h-1.1zM96.05 325h1.1v1.1h-1.1zM85.72 334.43h1.1v1.1h-1.1zM98.51 327.08h1.1v1.1h-1.1zM86.71 319.58h1.1v1.1h-1.1zM88.57 338.93h1.1v1.1h-1.1zM85.52 325.89h1.1v1.1h-1.1zM90.22 339.36h1.1v1.1h-1.1zM103.22 319.99h1.1v1.1h-1.1zM87.51 345.62h1.1v1.1h-1.1zM102.91 323.61h1.1v1.1h-1.1zM91.49 334.08h1.1v1.1h-1.1zM91.21 331.14h1.1v1.1h-1.1zM94.07 326.69h1.1v1.1h-1.1zM86.44 321.8h1.1v1.1h-1.1zM88.37 322.01h1.1v1.1h-1.1z" fill="#2ca02c"/>
<path d="M96.73 339.61h1v1h-1zM90.23 342.09h1v1h-1zM98.62 330.38h1v1h-1zM94.35 326.4h1v1h-1zM102.22 336.07h1v1h-1zM86.42 325.5h1v1h-1z" fill="#9467bd"/>
<path d="M140.73 307.18h1.1v1.1h-1.1zM141.43 307.83h1.1v1.1h-1.1zM143.79 304.79h1.1v1.1h-1.1zM145.81 312.17h1.1v1.1h-1.1zM143.93 314.34h1.1v1.1h-1.1zM144.01 304.94h1.1v1.1h-1.1zM142.13 311.27h1.1v1.1h-1.1zM139.61 306.64h1.1v1.1h-1.1zM143.43 311.45h1.1v1.1h-1.1zM140.5 309.24h1.1v1.1h-1.1zM140.22 308.29h1.1v1.1h-1.1zM141.75 313.09h1.1v1.1h-1.1zM136.45 308.95h1.1v1.1h-1.1zM147.46 310.88h1.1v1.1h-1.1zM142.48 312.4h1.1v1.1h-1.1zM138.52 306.41h1.1v1.1h-1.1zM136.28 305.68h1.1v1.1h-1.1zM142.8 312.44h1.1v1.1h-1.1zM140.53 307.96h1.1v1.1h-1.1zM143.33 311.75h1.1v1.1h-1.1zM142.83 304.38h1.1v1.1h-1.1zM140.09 302.55h1.1v1.1h-1.1z" fill="#2ca02c"/>
<rect x="76.3" y="235.2" width="1.2" height="1.2" fill="#d62728"/>
<rect x="118.4" y="240.2" width="1.2" height="1.2" fill="#2ca02c"/>
<rect x="93.2" y="256.6" width="1.2" height="1.2" fill="#d62728"/>
<rect x="91.9" y="255.9" width="1.2" height="1.2" fill="#d62728"/>
<rect x="94.9" y="257.2" width="1.2" height="1.2" fill="#d62728"/>
<rect x="94.7" y="250.1" width="1.2" height="1.2" fill="#2ca02c"/>
<rect x="117.7" y="263.2" width="1.2" height="1.2" fill="#2ca02c"/>
<rect x="156" y="256.6" width="1.2" height="1.2" fill="#2ca02c"/>
<rect x="137" y="269.4" width="1.2" height="1.2" fill="#2ca02c"/>
<rect x="139.4" y="271.4" width="1.2" height="1.2" fill="#2ca02c"/>
<rect x="143.4" y="278.4" width="1.2" height="1.2" fill="#2ca02c"/>
<rect x="145.4" y="282.4" width="1.2" height="1.2" fill="#2ca02c"/>
<rect x="147.4" y="280.4" width="1.2" height="1.2" fill="#2ca02c"/>
<rect x="142.4" y="286.4" width="1.2" height="1.2" fill="#2ca02c"/>
<rect x="138.4" y="283.4" width="1.2" height="1.2" fill="#2ca02c"/>
<rect x="144" y="276.8" width="1.2" height="1.2" fill="#d62728"/>
<rect x="140.4" y="289.4" width="1.2" height="1.2" fill="#2ca02c"/>
<rect x="135.4" y="291.4" width="1.2" height="1.2" fill="#2ca02c"/>
<rect x="146.4" y="294.4" width="1.2" height="1.2" fill="#2ca02c"/>
<rect x="149.4" y="299.4" width="1.2" height="1.2" fill="#2ca02c"/>
<rect x="147.4" y="298.4" width="1.2" height="1.2" fill="#bcbd22"/>
<circle cx="183.5" cy="271.3" r="2.3" fill="#1f77b4"/>
<text x="194.3" y="274.2" font-size="8.3">AS-DC</text>
<circle cx="183.5" cy="280.25" r="2.3" fill="#ff7f0e"/>
<text x="194.3" y="283.15" font-size="8.3">Langerhans</text>
<circle cx="183.5" cy="289.2" r="2.3" fill="#2ca02c"/>
<text x="194.3" y="292.1" font-size="8.3">Macrophage</text>
<circle cx="183.5" cy="298.15" r="2.3" fill="#d62728"/>
<text x="194.3" y="301.05" font-size="8.3">Mast</text>
<circle cx="183.5" cy="307.1" r="2.3" fill="#9467bd"/>
<text x="194.3" y="310" font-size="8.3">Monocyte</text>
<circle cx="183.5" cy="316.05" r="2.3" fill="#8c564b"/>
<text x="194.3" y="318.95" font-size="8.3">cDC1</text>
<circle cx="183.5" cy="325" r="2.3" fill="#e377c2"/>
<text x="194.3" y="327.9" font-size="8.3">cDC2</text>
<circle cx="183.5" cy="333.95" r="2.3" fill="#7f7f7f"/>
<text x="194.3" y="336.85" font-size="8.3">cDC Activated</text>
<circle cx="183.5" cy="342.9" r="2.3" fill="#bcbd22"/>
<text x="194.3" y="345.8" font-size="8.3">pDC</text>
<line x1="274.4" y1="314.1" x2="310" y2="314.1" stroke="#222" stroke-width="1"/>
<polygon points="313.8,314.1 308,311.6 308,316.6" fill="#222"/>
<text x="391.1" y="229.1" font-size="9.8" text-anchor="middle">CCL13</text>
<text x="542.9" y="229.1" font-size="9.8" text-anchor="middle">CCL22</text>
<polygon points="374.82,296.21 387.8,297.67 397.32,298.23 404.9,298.56 414.31,297.67 419.07,295.99 422.43,293.42 424.05,295.1 420.8,300.13 414.31,303.14 404.9,304.04 397.32,303.59 387.8,302.92 376.98,300.69" fill="#d4f4cf"/>
<path d="M396.49 298.76h1.2v1.2h-1.2zM419.72 297.76h1.2v1.2h-1.2zM399.22 299.06h1.2v1.2h-1.2zM383.31 298.25h1.2v1.2h-1.2zM405.23 301.24h1.2v1.2h-1.2zM406.41 299.36h1.2v1.2h-1.2zM375.7 297.75h1.2v1.2h-1.2zM395.91 301.77h1.2v1.2h-1.2zM399.78 299.62h1.2v1.2h-1.2zM398.82 299.85h1.2v1.2h-1.2zM415.58 300.34h1.2v1.2h-1.2zM415.9 296.92h1.2v1.2h-1.2zM419.03 297.81h1.2v1.2h-1.2zM377.81 299.5h1.2v1.2h-1.2zM378.51 296.35h1.2v1.2h-1.2zM383.61 300.59h1.2v1.2h-1.2zM380.67 299.65h1.2v1.2h-1.2zM379.95 297.29h1.2v1.2h-1.2zM389.19 302.22h1.2v1.2h-1.2zM384.59 297.01h1.2v1.2h-1.2zM416.28 299.63h1.2v1.2h-1.2zM378.66 299.01h1.2v1.2h-1.2zM386.18 299.2h1.2v1.2h-1.2zM392.52 297.63h1.2v1.2h-1.2zM402.51 302.02h1.2v1.2h-1.2zM410.62 302.81h1.2v1.2h-1.2zM417.65 299.23h1.2v1.2h-1.2zM385.96 300.3h1.2v1.2h-1.2zM386.87 301.57h1.2v1.2h-1.2zM382.86 300.47h1.2v1.2h-1.2z" fill="#fff"/>
<path d="M381.67 297.7h1.2v1.2h-1.2zM386.47 301.75h1.2v1.2h-1.2zM380.32 301.07h1.2v1.2h-1.2zM402.48 298.01h1.2v1.2h-1.2zM392.05 298.36h1.2v1.2h-1.2zM386.83 298.74h1.2v1.2h-1.2zM374.32 296.25h1.2v1.2h-1.2zM415.54 301.98h1.2v1.2h-1.2zM377.39 294.99h1.2v1.2h-1.2zM377.37 299.47h1.2v1.2h-1.2zM423.2 293.84h1.2v1.2h-1.2zM375.34 296.25h1.2v1.2h-1.2zM400.62 302.18h1.2v1.2h-1.2zM403.45 301.2h1.2v1.2h-1.2zM410.75 295.28h1.2v1.2h-1.2zM383.61 302.77h1.2v1.2h-1.2zM384.68 301.43h1.2v1.2h-1.2zM413.6 296.01h1.2v1.2h-1.2zM380.74 294.12h1.2v1.2h-1.2zM384.07 300.71h1.2v1.2h-1.2zM398.62 302.63h1.2v1.2h-1.2zM389.95 303.26h1.2v1.2h-1.2zM376.48 295.28h1.2v1.2h-1.2zM398.29 296.59h1.2v1.2h-1.2zM413 302.3h1.2v1.2h-1.2zM374.95 297.18h1.2v1.2h-1.2zM396.74 299.48h1.2v1.2h-1.2zM405.6 303.89h1.2v1.2h-1.2zM408.62 296.94h1.2v1.2h-1.2zM420.22 292.52h1.2v1.2h-1.2zM383.19 302.57h1.2v1.2h-1.2zM408.58 298.52h1.2v1.2h-1.2zM389.58 301.13h1.2v1.2h-1.2zM376.76 300.79h1.2v1.2h-1.2zM421.07 294.01h1.2v1.2h-1.2zM417.16 294.74h1.2v1.2h-1.2zM409.18 295.22h1.2v1.2h-1.2zM421.55 293.32h1.2v1.2h-1.2zM386.4 302.26h1.2v1.2h-1.2zM416.1 302.8h1.2v1.2h-1.2zM376.95 296.68h1.2v1.2h-1.2zM377.18 295.26h1.2v1.2h-1.2zM390.46 297.59h1.2v1.2h-1.2zM419.84 292.52h1.2v1.2h-1.2zM393.27 302.25h1.2v1.2h-1.2zM394.77 297.64h1.2v1.2h-1.2zM373.84 296.02h1.2v1.2h-1.2zM393.09 298.34h1.2v1.2h-1.2zM402.22 303.22h1.2v1.2h-1.2zM395.93 304.13h1.2v1.2h-1.2zM383.37 302.35h1.2v1.2h-1.2zM401.62 304.04h1.2v1.2h-1.2zM411.97 302.26h1.2v1.2h-1.2zM418.16 299.83h1.2v1.2h-1.2zM376.09 300.64h1.2v1.2h-1.2zM395.65 295.75h1.2v1.2h-1.2zM409.33 302.27h1.2v1.2h-1.2zM384.75 300.93h1.2v1.2h-1.2zM420.21 298.77h1.2v1.2h-1.2zM381.6 300.31h1.2v1.2h-1.2z" fill="#d4f4cf"/>
<polygon points="342.47,332.66 345.39,330.09 350.58,328.08 355.02,329.64 358.7,331.21 364.65,334.23 365.3,338.81 371.25,341.16 377.2,344.18 380.55,346.52 377.2,347.64 369.73,346.52 364.65,345.74 358.7,348.76 353.5,351 349.07,350.32 346.15,345.74 346.15,341.16 347.55,338.81 344.63,335.79 342.47,334.23" fill="#d4f4cf"/>
<path d="M347.53 328.45h1.2v1.2h-1.2zM350.6 350.11h1.2v1.2h-1.2zM349.53 349.17h1.2v1.2h-1.2zM356.31 332.16h1.2v1.2h-1.2zM355.23 330.22h1.2v1.2h-1.2zM356.11 347.85h1.2v1.2h-1.2zM342.02 336.25h1.2v1.2h-1.2zM349.5 329.24h1.2v1.2h-1.2zM364.45 336.28h1.2v1.2h-1.2zM375 345.36h1.2v1.2h-1.2zM364.85 340.55h1.2v1.2h-1.2zM346.69 341.97h1.2v1.2h-1.2zM341.67 334.35h1.2v1.2h-1.2zM358.54 331.2h1.2v1.2h-1.2zM369.1 346.01h1.2v1.2h-1.2zM373.09 348.07h1.2v1.2h-1.2zM368.37 346.19h1.2v1.2h-1.2zM346.16 328.19h1.2v1.2h-1.2zM344.97 334.85h1.2v1.2h-1.2zM379.85 347.19h1.2v1.2h-1.2zM348.3 346.92h1.2v1.2h-1.2zM367.64 340.73h1.2v1.2h-1.2zM347.79 339.16h1.2v1.2h-1.2zM343.89 331.36h1.2v1.2h-1.2zM358 349h1.2v1.2h-1.2zM366.09 346.44h1.2v1.2h-1.2zM351.8 328.38h1.2v1.2h-1.2zM358.37 331.13h1.2v1.2h-1.2zM371.19 342.25h1.2v1.2h-1.2zM356.63 331.45h1.2v1.2h-1.2zM360.56 345.31h1.2v1.2h-1.2zM365.9 344.64h1.2v1.2h-1.2zM354.5 347.65h1.2v1.2h-1.2zM365.85 341.64h1.2v1.2h-1.2zM363.94 332.28h1.2v1.2h-1.2zM353.89 330.78h1.2v1.2h-1.2zM366.07 336.22h1.2v1.2h-1.2zM376.7 342.93h1.2v1.2h-1.2zM374.77 342.48h1.2v1.2h-1.2zM358.83 329.06h1.2v1.2h-1.2zM344.27 335.57h1.2v1.2h-1.2zM350.07 350.21h1.2v1.2h-1.2zM359.35 331.23h1.2v1.2h-1.2zM343.36 329.08h1.2v1.2h-1.2zM370.07 346.62h1.2v1.2h-1.2zM362.12 328.5h1.2v1.2h-1.2zM346.61 337.74h1.2v1.2h-1.2zM342.55 336.19h1.2v1.2h-1.2zM366.54 339.8h1.2v1.2h-1.2zM377.1 343.91h1.2v1.2h-1.2zM357.63 347.89h1.2v1.2h-1.2zM379.15 344.16h1.2v1.2h-1.2zM360.11 332.53h1.2v1.2h-1.2zM344.72 329.65h1.2v1.2h-1.2zM357.95 347.35h1.2v1.2h-1.2zM373.87 341.92h1.2v1.2h-1.2zM342.35 332.86h1.2v1.2h-1.2zM346.58 336.58h1.2v1.2h-1.2zM345.16 349.29h1.2v1.2h-1.2zM344.86 339.66h1.2v1.2h-1.2zM349.6 351.23h1.2v1.2h-1.2zM347.06 329.48h1.2v1.2h-1.2zM341.63 332.73h1.2v1.2h-1.2zM364.47 348.1h1.2v1.2h-1.2zM359.45 348.54h1.2v1.2h-1.2zM368.37 345.73h1.2v1.2h-1.2zM340.71 330.58h1.2v1.2h-1.2zM351.78 350.15h1.2v1.2h-1.2zM364.94 344.34h1.2v1.2h-1.2zM375.5 342.89h1.2v1.2h-1.2zM373.17 342h1.2v1.2h-1.2zM345.01 338.75h1.2v1.2h-1.2zM339.78 333.01h1.2v1.2h-1.2zM363.06 345.27h1.2v1.2h-1.2zM366.79 345.19h1.2v1.2h-1.2zM346.75 338.42h1.2v1.2h-1.2zM355.39 330.2h1.2v1.2h-1.2zM347.84 328.33h1.2v1.2h-1.2zM372.83 345.94h1.2v1.2h-1.2zM363.75 336.26h1.2v1.2h-1.2zM364.37 336.33h1.2v1.2h-1.2zM342.94 331.49h1.2v1.2h-1.2zM355.9 328.44h1.2v1.2h-1.2zM345.93 339.52h1.2v1.2h-1.2zM342.3 333.05h1.2v1.2h-1.2zM345.12 339.82h1.2v1.2h-1.2zM342.88 335.81h1.2v1.2h-1.2zM345.29 335.37h1.2v1.2h-1.2zM343.02 332.45h1.2v1.2h-1.2zM351.05 327.23h1.2v1.2h-1.2zM361.53 332.13h1.2v1.2h-1.2zM351.2 329.13h1.2v1.2h-1.2zM379.24 347.13h1.2v1.2h-1.2zM376.62 341.97h1.2v1.2h-1.2zM343.72 331.72h1.2v1.2h-1.2zM365.17 334.93h1.2v1.2h-1.2zM348.5 349.03h1.2v1.2h-1.2zM363.79 334.66h1.2v1.2h-1.2zM366.01 344.12h1.2v1.2h-1.2zM358.93 334.45h1.2v1.2h-1.2zM347.13 338.08h1.2v1.2h-1.2zM346.72 329.96h1.2v1.2h-1.2zM365.4 346.09h1.2v1.2h-1.2zM349.5 329.21h1.2v1.2h-1.2zM370.62 345.39h1.2v1.2h-1.2zM378.72 347.52h1.2v1.2h-1.2zM353.42 349.87h1.2v1.2h-1.2zM353.03 326.74h1.2v1.2h-1.2zM351.12 351.34h1.2v1.2h-1.2zM364.63 333.65h1.2v1.2h-1.2zM362.54 346.37h1.2v1.2h-1.2zM371.53 343.52h1.2v1.2h-1.2zM376.69 344.3h1.2v1.2h-1.2zM345.98 342.36h1.2v1.2h-1.2zM368.26 346.24h1.2v1.2h-1.2zM365.41 337.98h1.2v1.2h-1.2zM360.75 331.65h1.2v1.2h-1.2zM365.51 336.77h1.2v1.2h-1.2zM365.26 338.19h1.2v1.2h-1.2zM354.51 349.99h1.2v1.2h-1.2zM354.03 347.71h1.2v1.2h-1.2zM346.43 335.85h1.2v1.2h-1.2zM347.55 349.84h1.2v1.2h-1.2zM376.89 341.51h1.2v1.2h-1.2zM363.33 334.64h1.2v1.2h-1.2zM370.39 341.64h1.2v1.2h-1.2zM357.42 330.4h1.2v1.2h-1.2zM373.19 345.06h1.2v1.2h-1.2zM357.85 327.91h1.2v1.2h-1.2zM365.96 337.34h1.2v1.2h-1.2zM369.21 345.04h1.2v1.2h-1.2zM361.85 345.91h1.2v1.2h-1.2zM371.9 345.82h1.2v1.2h-1.2zM348.63 325.3h1.2v1.2h-1.2zM348.67 327.3h1.2v1.2h-1.2zM352.56 349.57h1.2v1.2h-1.2zM361.8 330.93h1.2v1.2h-1.2zM350.38 350.83h1.2v1.2h-1.2zM342.57 333.34h1.2v1.2h-1.2zM372.37 344.56h1.2v1.2h-1.2zM344.96 339.61h1.2v1.2h-1.2zM361.62 345.26h1.2v1.2h-1.2zM348.5 344.18h1.2v1.2h-1.2zM360.83 345.54h1.2v1.2h-1.2zM346.84 349.5h1.2v1.2h-1.2zM354.71 325.48h1.2v1.2h-1.2zM372.82 342.18h1.2v1.2h-1.2zM376.01 346.88h1.2v1.2h-1.2zM346.52 329.3h1.2v1.2h-1.2zM362.11 345.42h1.2v1.2h-1.2zM345.5 329.04h1.2v1.2h-1.2zM347.1 339.02h1.2v1.2h-1.2zM358.62 331.66h1.2v1.2h-1.2zM355.02 348.69h1.2v1.2h-1.2zM358.34 331.54h1.2v1.2h-1.2zM351.37 351.68h1.2v1.2h-1.2zM346.21 347.74h1.2v1.2h-1.2zM346.48 340.27h1.2v1.2h-1.2zM373.04 345.93h1.2v1.2h-1.2zM364.46 333.35h1.2v1.2h-1.2zM346.89 349.96h1.2v1.2h-1.2zM374.28 350.48h1.2v1.2h-1.2zM361.15 346.8h1.2v1.2h-1.2zM377.54 347.82h1.2v1.2h-1.2zM355.53 348.58h1.2v1.2h-1.2zM355.49 330.53h1.2v1.2h-1.2zM343.86 342.55h1.2v1.2h-1.2zM341.71 334.28h1.2v1.2h-1.2zM355.33 329.36h1.2v1.2h-1.2zM348.14 345.36h1.2v1.2h-1.2zM348.67 329.83h1.2v1.2h-1.2zM348.96 327.76h1.2v1.2h-1.2zM342.23 334.14h1.2v1.2h-1.2zM366.08 337.4h1.2v1.2h-1.2zM348.81 339.48h1.2v1.2h-1.2zM359.18 331.46h1.2v1.2h-1.2zM356.46 328.77h1.2v1.2h-1.2zM367.35 339.38h1.2v1.2h-1.2zM379.28 344.93h1.2v1.2h-1.2zM359.42 348.72h1.2v1.2h-1.2zM382.06 345.39h1.2v1.2h-1.2zM362.61 346.55h1.2v1.2h-1.2zM356.5 350.48h1.2v1.2h-1.2zM383.24 345.9h1.2v1.2h-1.2zM348.54 350.78h1.2v1.2h-1.2zM363.62 339.12h1.2v1.2h-1.2zM364.66 339.48h1.2v1.2h-1.2zM360.28 347.85h1.2v1.2h-1.2zM353.04 352.35h1.2v1.2h-1.2z" fill="#d4f4cf"/>
<polygon points="355.02,320.81 358.59,318.57 366.16,319.13 372.76,320.81 373.74,326.4 371.57,331.21 362.92,331.43 357.18,331.21 355.02,327.52" fill="#d4f4cf"/>
<path d="M369.45 329.55h1.2v1.2h-1.2zM356.47 329.85h1.2v1.2h-1.2zM358.11 316.31h1.2v1.2h-1.2zM361.71 319.73h1.2v1.2h-1.2zM368.73 331.16h1.2v1.2h-1.2zM363.19 319.18h1.2v1.2h-1.2zM358.89 317.48h1.2v1.2h-1.2zM370.36 327.58h1.2v1.2h-1.2zM355.28 330.48h1.2v1.2h-1.2zM374.03 324.19h1.2v1.2h-1.2zM364.28 330.58h1.2v1.2h-1.2zM364.17 330.63h1.2v1.2h-1.2zM370.63 321.55h1.2v1.2h-1.2zM358.56 319.11h1.2v1.2h-1.2zM358.13 329.13h1.2v1.2h-1.2zM362.66 315.66h1.2v1.2h-1.2zM369.58 331.78h1.2v1.2h-1.2zM360.7 314.71h1.2v1.2h-1.2zM370.99 327.21h1.2v1.2h-1.2zM366.07 317.87h1.2v1.2h-1.2zM365.31 318.92h1.2v1.2h-1.2zM368.54 329.62h1.2v1.2h-1.2zM353.56 325.24h1.2v1.2h-1.2zM361.17 318.05h1.2v1.2h-1.2zM352.95 325.16h1.2v1.2h-1.2zM369.53 333.32h1.2v1.2h-1.2zM355.08 319.13h1.2v1.2h-1.2zM360.91 317.25h1.2v1.2h-1.2zM354.51 327.59h1.2v1.2h-1.2zM356.4 330.72h1.2v1.2h-1.2zM358.69 318.15h1.2v1.2h-1.2zM356.04 320.27h1.2v1.2h-1.2zM369.42 317.98h1.2v1.2h-1.2zM370.74 321.18h1.2v1.2h-1.2zM355.59 321.05h1.2v1.2h-1.2zM360.39 319.28h1.2v1.2h-1.2zM362.3 318.24h1.2v1.2h-1.2zM368.51 332.18h1.2v1.2h-1.2zM355.86 318.5h1.2v1.2h-1.2zM353.33 321.67h1.2v1.2h-1.2zM371.53 322.71h1.2v1.2h-1.2zM359.06 329.28h1.2v1.2h-1.2zM355.65 318.46h1.2v1.2h-1.2zM371.4 324.54h1.2v1.2h-1.2zM352.99 325.28h1.2v1.2h-1.2zM373.89 324.57h1.2v1.2h-1.2zM356.57 316.01h1.2v1.2h-1.2zM358.83 329.58h1.2v1.2h-1.2zM369.81 319.45h1.2v1.2h-1.2zM359.23 318.64h1.2v1.2h-1.2zM374.42 323.83h1.2v1.2h-1.2zM371.31 331.05h1.2v1.2h-1.2zM372.72 323.61h1.2v1.2h-1.2zM356.14 324.8h1.2v1.2h-1.2zM352.91 328.64h1.2v1.2h-1.2zM365.79 317.01h1.2v1.2h-1.2zM356.14 326.89h1.2v1.2h-1.2zM357.68 317.45h1.2v1.2h-1.2zM354.48 321.23h1.2v1.2h-1.2zM373.58 320.98h1.2v1.2h-1.2zM355.35 330.72h1.2v1.2h-1.2zM368.69 330.76h1.2v1.2h-1.2zM353.92 327.25h1.2v1.2h-1.2zM355.75 323.71h1.2v1.2h-1.2zM364.24 321.16h1.2v1.2h-1.2zM355.18 328.2h1.2v1.2h-1.2zM371.56 321h1.2v1.2h-1.2zM355.24 326.92h1.2v1.2h-1.2zM366.74 333.1h1.2v1.2h-1.2zM358.24 319.98h1.2v1.2h-1.2zM372.57 318.36h1.2v1.2h-1.2zM362.69 332.22h1.2v1.2h-1.2zM353.96 323.86h1.2v1.2h-1.2zM365.24 320.43h1.2v1.2h-1.2zM364.82 319.27h1.2v1.2h-1.2zM364.4 329.63h1.2v1.2h-1.2zM365.44 329.69h1.2v1.2h-1.2zM365.34 321.36h1.2v1.2h-1.2zM363.69 332.52h1.2v1.2h-1.2zM359.97 317.88h1.2v1.2h-1.2zM370.84 330.04h1.2v1.2h-1.2z" fill="#d4f4cf"/>
<polygon points="363.89,324.27 368.33,323.94 372.01,325.28 372.01,334.23 370.49,338.03 366.16,337.58 364.54,331.99" fill="#d4f4cf"/>
<path d="M367.62 338.12h1.2v1.2h-1.2zM364.79 331.99h1.2v1.2h-1.2zM364.51 334.27h1.2v1.2h-1.2zM370.77 339.83h1.2v1.2h-1.2zM364.63 324.45h1.2v1.2h-1.2zM362.49 335.35h1.2v1.2h-1.2zM371.2 337.17h1.2v1.2h-1.2zM364.97 338.42h1.2v1.2h-1.2zM362.78 332.08h1.2v1.2h-1.2zM363.23 328.43h1.2v1.2h-1.2zM364.4 327.49h1.2v1.2h-1.2zM368.85 323.43h1.2v1.2h-1.2zM371.71 331.42h1.2v1.2h-1.2zM364.22 333.35h1.2v1.2h-1.2zM370.18 324.15h1.2v1.2h-1.2zM363.1 322.46h1.2v1.2h-1.2zM369.37 336.76h1.2v1.2h-1.2zM370.43 323.98h1.2v1.2h-1.2zM370.54 333.68h1.2v1.2h-1.2zM366.35 332.82h1.2v1.2h-1.2zM366.96 336.75h1.2v1.2h-1.2zM372.03 326.36h1.2v1.2h-1.2zM364.26 325.13h1.2v1.2h-1.2zM370.04 338.33h1.2v1.2h-1.2zM367 322.74h1.2v1.2h-1.2zM372.38 327.77h1.2v1.2h-1.2zM363.95 329.95h1.2v1.2h-1.2zM370.86 333.02h1.2v1.2h-1.2zM364.72 325.21h1.2v1.2h-1.2zM365.09 333h1.2v1.2h-1.2zM371.2 333.77h1.2v1.2h-1.2zM371.91 325.19h1.2v1.2h-1.2zM371.03 332.91h1.2v1.2h-1.2zM370.1 324.33h1.2v1.2h-1.2zM364.32 332.1h1.2v1.2h-1.2zM370.57 325.83h1.2v1.2h-1.2zM372.15 333.86h1.2v1.2h-1.2zM373.03 329.25h1.2v1.2h-1.2zM363.4 324.58h1.2v1.2h-1.2zM364.52 325.08h1.2v1.2h-1.2zM361.65 327.66h1.2v1.2h-1.2zM369.31 335.86h1.2v1.2h-1.2zM371.57 330.37h1.2v1.2h-1.2zM372.01 331.29h1.2v1.2h-1.2zM369.72 324.8h1.2v1.2h-1.2zM370.56 335.82h1.2v1.2h-1.2zM362.29 321.73h1.2v1.2h-1.2zM370.61 324.84h1.2v1.2h-1.2zM364.58 336.47h1.2v1.2h-1.2zM364.39 324.49h1.2v1.2h-1.2zM373.08 330.78h1.2v1.2h-1.2zM370.96 327.28h1.2v1.2h-1.2zM362.21 327.8h1.2v1.2h-1.2zM365.05 334.37h1.2v1.2h-1.2zM371.03 329.2h1.2v1.2h-1.2zM362.75 330.21h1.2v1.2h-1.2zM371.39 336.88h1.2v1.2h-1.2zM372.06 325.71h1.2v1.2h-1.2zM368.99 337.44h1.2v1.2h-1.2zM370.79 332.73h1.2v1.2h-1.2zM364.91 337.12h1.2v1.2h-1.2zM365.96 337.35h1.2v1.2h-1.2zM371.12 325.98h1.2v1.2h-1.2z" fill="#d4f4cf"/>
<polygon points="394.29,324.16 398.62,320.81 406.2,318.57 417.02,316.9 430.43,314.77 435.19,312.87 439.96,310.86 443.74,314.77 446.56,320.7 447.96,329.53 446.56,337.36 443.74,345.18 438.98,352 432.38,356.92 423.83,358.93 416.26,356.92 409.55,354.01 401.98,351.11 395.38,348.09 392.56,345.18 395.38,342.27 399.16,338.36 403.92,337.36 408.69,336.01 412.69,335.57 402.95,334.67 396.46,331.99 394.29,327.52" fill="#d4f4cf"/>
<path d="M446.9 333.98h1.2v1.2h-1.2zM443.81 317.27h1.2v1.2h-1.2zM401.98 319.8h1.2v1.2h-1.2zM425.2 355.02h1.2v1.2h-1.2zM443.51 315.21h1.2v1.2h-1.2zM432.57 311.13h1.2v1.2h-1.2zM396.92 330.92h1.2v1.2h-1.2zM412.92 355.37h1.2v1.2h-1.2zM447.22 336.24h1.2v1.2h-1.2zM445.5 323.28h1.2v1.2h-1.2zM421.41 316.13h1.2v1.2h-1.2zM423.61 314.3h1.2v1.2h-1.2zM409.41 318.36h1.2v1.2h-1.2zM419.43 314.62h1.2v1.2h-1.2zM426.33 357.33h1.2v1.2h-1.2zM445.88 335.92h1.2v1.2h-1.2zM446.8 338.54h1.2v1.2h-1.2zM419.28 357.77h1.2v1.2h-1.2zM440.81 310.8h1.2v1.2h-1.2zM407.15 334.21h1.2v1.2h-1.2zM406.04 353.37h1.2v1.2h-1.2zM415.99 355.67h1.2v1.2h-1.2zM424.03 357.29h1.2v1.2h-1.2zM411.88 354.2h1.2v1.2h-1.2zM444.37 342.42h1.2v1.2h-1.2zM408.37 336.62h1.2v1.2h-1.2zM400.78 320.77h1.2v1.2h-1.2zM443.58 322.1h1.2v1.2h-1.2zM421.16 316.42h1.2v1.2h-1.2zM403.34 351.31h1.2v1.2h-1.2zM427.47 357.74h1.2v1.2h-1.2zM435.69 351.49h1.2v1.2h-1.2zM411.21 354.43h1.2v1.2h-1.2zM394.37 330.42h1.2v1.2h-1.2zM408.3 336.48h1.2v1.2h-1.2zM399.43 347.24h1.2v1.2h-1.2zM404.37 338.16h1.2v1.2h-1.2zM435.98 351.95h1.2v1.2h-1.2zM443.73 313.91h1.2v1.2h-1.2zM436.94 312.37h1.2v1.2h-1.2zM425.53 314.7h1.2v1.2h-1.2zM404.98 318.54h1.2v1.2h-1.2zM399.97 350.29h1.2v1.2h-1.2zM394.32 341.51h1.2v1.2h-1.2zM411.59 334.76h1.2v1.2h-1.2zM437.67 310.6h1.2v1.2h-1.2zM445.94 334.85h1.2v1.2h-1.2zM396.56 349.51h1.2v1.2h-1.2zM394.51 341.29h1.2v1.2h-1.2zM422.1 359.14h1.2v1.2h-1.2zM414.58 353.47h1.2v1.2h-1.2zM414.92 317.61h1.2v1.2h-1.2zM435.95 311.92h1.2v1.2h-1.2zM423.33 356.39h1.2v1.2h-1.2zM417.33 314.89h1.2v1.2h-1.2zM409.83 356.48h1.2v1.2h-1.2zM395.49 326.37h1.2v1.2h-1.2zM415.84 316.8h1.2v1.2h-1.2zM395.04 347.12h1.2v1.2h-1.2zM447.99 323.89h1.2v1.2h-1.2zM437.5 352.28h1.2v1.2h-1.2zM399.5 336.82h1.2v1.2h-1.2zM444.66 334.24h1.2v1.2h-1.2zM392.47 328.5h1.2v1.2h-1.2zM427.97 356.61h1.2v1.2h-1.2zM427.8 316.62h1.2v1.2h-1.2zM438.85 310.4h1.2v1.2h-1.2zM447.85 322.57h1.2v1.2h-1.2zM419.01 315.08h1.2v1.2h-1.2zM434.12 312.12h1.2v1.2h-1.2zM440.97 311.64h1.2v1.2h-1.2zM407.65 335.04h1.2v1.2h-1.2zM422.99 315.05h1.2v1.2h-1.2zM431.64 312.77h1.2v1.2h-1.2zM445.23 338.79h1.2v1.2h-1.2zM401.79 318.05h1.2v1.2h-1.2zM413.05 358.26h1.2v1.2h-1.2zM412.28 335.04h1.2v1.2h-1.2zM405.09 335.47h1.2v1.2h-1.2zM398.09 320.92h1.2v1.2h-1.2zM405.35 319.41h1.2v1.2h-1.2zM445.62 319.73h1.2v1.2h-1.2zM432.31 313.2h1.2v1.2h-1.2zM432.03 354.42h1.2v1.2h-1.2zM392.15 347.87h1.2v1.2h-1.2zM404.47 332.97h1.2v1.2h-1.2zM412.72 316.66h1.2v1.2h-1.2zM398.89 352.07h1.2v1.2h-1.2zM396.54 320.36h1.2v1.2h-1.2zM445.08 336.33h1.2v1.2h-1.2zM399.8 338.58h1.2v1.2h-1.2zM446.79 330.94h1.2v1.2h-1.2zM447.15 322.6h1.2v1.2h-1.2zM393.5 347.65h1.2v1.2h-1.2zM427.39 356.58h1.2v1.2h-1.2zM413.2 317.79h1.2v1.2h-1.2zM445.13 343.04h1.2v1.2h-1.2zM444.91 339.24h1.2v1.2h-1.2zM397.53 334.23h1.2v1.2h-1.2zM446.25 321.25h1.2v1.2h-1.2zM390.93 327.38h1.2v1.2h-1.2zM432.28 313.62h1.2v1.2h-1.2zM425.89 316.58h1.2v1.2h-1.2zM397.33 332.84h1.2v1.2h-1.2zM448.03 328.89h1.2v1.2h-1.2zM410.23 355.73h1.2v1.2h-1.2zM430.67 311.38h1.2v1.2h-1.2zM408.45 334.21h1.2v1.2h-1.2zM425.4 359.77h1.2v1.2h-1.2zM399.92 351.12h1.2v1.2h-1.2zM443.84 341.43h1.2v1.2h-1.2zM416.29 356.18h1.2v1.2h-1.2zM397.85 319.03h1.2v1.2h-1.2zM416.65 355.59h1.2v1.2h-1.2zM417.58 316.29h1.2v1.2h-1.2zM392.78 348.05h1.2v1.2h-1.2zM391.74 327.09h1.2v1.2h-1.2zM417.85 316.2h1.2v1.2h-1.2zM437.34 310h1.2v1.2h-1.2zM400.46 330.94h1.2v1.2h-1.2zM434.21 354.82h1.2v1.2h-1.2zM411.83 334.06h1.2v1.2h-1.2zM398.83 337.84h1.2v1.2h-1.2zM411.5 336.01h1.2v1.2h-1.2zM411.23 354.51h1.2v1.2h-1.2zM396.18 339.37h1.2v1.2h-1.2zM400.15 336.02h1.2v1.2h-1.2zM428.9 356.19h1.2v1.2h-1.2zM420.86 315.96h1.2v1.2h-1.2zM398.26 321.77h1.2v1.2h-1.2zM405.79 336.74h1.2v1.2h-1.2zM447.22 333.67h1.2v1.2h-1.2zM409.26 336.01h1.2v1.2h-1.2zM429.86 311.67h1.2v1.2h-1.2zM395.55 349.3h1.2v1.2h-1.2zM444.81 343.06h1.2v1.2h-1.2zM445.4 320.03h1.2v1.2h-1.2zM416.87 355.98h1.2v1.2h-1.2zM416.26 314.95h1.2v1.2h-1.2zM419.04 318.16h1.2v1.2h-1.2zM415.35 357h1.2v1.2h-1.2zM393 322.71h1.2v1.2h-1.2zM446.8 330.71h1.2v1.2h-1.2zM419.33 314.75h1.2v1.2h-1.2zM401.58 337.63h1.2v1.2h-1.2zM435.6 353.83h1.2v1.2h-1.2zM399.33 351.11h1.2v1.2h-1.2zM444.35 314.55h1.2v1.2h-1.2zM408.49 334.09h1.2v1.2h-1.2zM398.66 334.48h1.2v1.2h-1.2zM417.05 356.94h1.2v1.2h-1.2zM444.25 342.09h1.2v1.2h-1.2zM395.96 333.46h1.2v1.2h-1.2zM404.84 353.08h1.2v1.2h-1.2zM418.23 315.55h1.2v1.2h-1.2zM443.2 342.99h1.2v1.2h-1.2zM407.01 334.56h1.2v1.2h-1.2zM411.71 316.77h1.2v1.2h-1.2zM445.79 331.58h1.2v1.2h-1.2zM403.9 354.2h1.2v1.2h-1.2zM398.98 332.24h1.2v1.2h-1.2zM438.96 350.4h1.2v1.2h-1.2zM445.31 319.42h1.2v1.2h-1.2zM398.47 328.59h1.2v1.2h-1.2zM446.85 334.75h1.2v1.2h-1.2zM400.08 349.7h1.2v1.2h-1.2zM439.18 349.27h1.2v1.2h-1.2zM434.37 312.63h1.2v1.2h-1.2zM447.66 332.37h1.2v1.2h-1.2zM393.63 346.03h1.2v1.2h-1.2zM407.55 352h1.2v1.2h-1.2zM440.45 308.79h1.2v1.2h-1.2zM396.53 341.82h1.2v1.2h-1.2zM397.94 319.4h1.2v1.2h-1.2zM408.32 334.69h1.2v1.2h-1.2zM429.08 356.7h1.2v1.2h-1.2zM396.89 340.41h1.2v1.2h-1.2zM415.5 316.08h1.2v1.2h-1.2zM408.21 317.34h1.2v1.2h-1.2zM395.78 341.94h1.2v1.2h-1.2zM403.09 320.11h1.2v1.2h-1.2zM423.24 358.41h1.2v1.2h-1.2zM412.64 316.37h1.2v1.2h-1.2zM393.59 328.98h1.2v1.2h-1.2zM417.46 353.84h1.2v1.2h-1.2zM445.57 339.78h1.2v1.2h-1.2zM402.18 335.03h1.2v1.2h-1.2zM421.85 315.33h1.2v1.2h-1.2zM412.38 319.81h1.2v1.2h-1.2zM410.2 353.56h1.2v1.2h-1.2zM445.52 340.69h1.2v1.2h-1.2zM414.57 316.19h1.2v1.2h-1.2zM435.88 350.1h1.2v1.2h-1.2zM396.6 331.63h1.2v1.2h-1.2zM404.9 335.02h1.2v1.2h-1.2zM393.29 347.18h1.2v1.2h-1.2zM442.72 342.84h1.2v1.2h-1.2zM443.38 343.03h1.2v1.2h-1.2zM406.91 336.7h1.2v1.2h-1.2zM426.78 357.85h1.2v1.2h-1.2zM410.54 317.87h1.2v1.2h-1.2zM438.31 353.67h1.2v1.2h-1.2zM438.75 352.1h1.2v1.2h-1.2zM396.73 329.96h1.2v1.2h-1.2zM394.54 332.1h1.2v1.2h-1.2zM446.44 332.81h1.2v1.2h-1.2zM419.1 358.71h1.2v1.2h-1.2zM433.07 354.96h1.2v1.2h-1.2zM410.04 318.26h1.2v1.2h-1.2zM396.11 339.22h1.2v1.2h-1.2zM445.23 339.48h1.2v1.2h-1.2zM410.89 317.27h1.2v1.2h-1.2zM445.56 325.34h1.2v1.2h-1.2zM396.97 338.82h1.2v1.2h-1.2zM395.46 343.12h1.2v1.2h-1.2zM428.14 356.76h1.2v1.2h-1.2zM398.94 320.08h1.2v1.2h-1.2zM423.39 357.93h1.2v1.2h-1.2zM443.09 337.46h1.2v1.2h-1.2zM405.08 335.13h1.2v1.2h-1.2zM443.04 343.54h1.2v1.2h-1.2zM441.68 346.13h1.2v1.2h-1.2zM446.16 321.18h1.2v1.2h-1.2zM415.31 315.03h1.2v1.2h-1.2zM427.81 357.77h1.2v1.2h-1.2zM447.26 319.31h1.2v1.2h-1.2zM402.48 335.24h1.2v1.2h-1.2zM429.88 356.31h1.2v1.2h-1.2zM411.15 334.96h1.2v1.2h-1.2zM442.37 344.46h1.2v1.2h-1.2zM399.32 333.64h1.2v1.2h-1.2zM446.38 334.36h1.2v1.2h-1.2zM393.73 347h1.2v1.2h-1.2zM430.3 314.43h1.2v1.2h-1.2zM445.92 326.67h1.2v1.2h-1.2zM444.22 333.98h1.2v1.2h-1.2zM446.15 328.44h1.2v1.2h-1.2zM393.04 329.03h1.2v1.2h-1.2zM436.18 313.53h1.2v1.2h-1.2zM422.32 358.54h1.2v1.2h-1.2zM402.2 338.05h1.2v1.2h-1.2zM442.47 342.26h1.2v1.2h-1.2zM395.43 327.48h1.2v1.2h-1.2zM437.87 354h1.2v1.2h-1.2zM411.04 319.24h1.2v1.2h-1.2zM398.79 318.33h1.2v1.2h-1.2zM426.38 358.12h1.2v1.2h-1.2zM397.3 329.69h1.2v1.2h-1.2zM411.15 316.3h1.2v1.2h-1.2zM428.6 313.66h1.2v1.2h-1.2zM415.5 314.84h1.2v1.2h-1.2zM408.16 333.59h1.2v1.2h-1.2z" fill="#d4f4cf"/>
<polygon points="372.01,313.65 374.93,311.64 379.15,312.54 384.56,314.32 389.97,316.34 399.16,317.68 406.74,319.02 406.74,319.91 399.16,319.47 389.97,318.8 382.39,318.46 375.68,318.35 372.65,316.9" fill="#d4f4cf"/>
<path d="M399.05 316.29h1.2v1.2h-1.2zM393.03 314.55h1.2v1.2h-1.2zM389.9 316.06h1.2v1.2h-1.2zM403.06 320.16h1.2v1.2h-1.2zM389.96 316.66h1.2v1.2h-1.2zM390.27 316.87h1.2v1.2h-1.2zM405.67 318.74h1.2v1.2h-1.2zM380.03 316.48h1.2v1.2h-1.2zM402.45 317.59h1.2v1.2h-1.2zM395.73 317.5h1.2v1.2h-1.2zM392.17 316.73h1.2v1.2h-1.2zM397.34 316h1.2v1.2h-1.2zM402.47 319.45h1.2v1.2h-1.2zM371.43 316.68h1.2v1.2h-1.2zM396.44 319.71h1.2v1.2h-1.2zM380.57 311.41h1.2v1.2h-1.2zM376.59 311.1h1.2v1.2h-1.2zM403.59 321.53h1.2v1.2h-1.2zM393.49 315.98h1.2v1.2h-1.2zM393.72 318.62h1.2v1.2h-1.2zM402.37 318.78h1.2v1.2h-1.2zM379.67 316.36h1.2v1.2h-1.2zM375.79 311.38h1.2v1.2h-1.2zM403.02 320.33h1.2v1.2h-1.2zM384.8 312.94h1.2v1.2h-1.2zM407.35 319.19h1.2v1.2h-1.2zM403.07 318.77h1.2v1.2h-1.2zM380.37 313.71h1.2v1.2h-1.2zM393.81 317.04h1.2v1.2h-1.2zM374.64 315.43h1.2v1.2h-1.2zM374.93 317.2h1.2v1.2h-1.2zM398.45 317.34h1.2v1.2h-1.2zM397.88 318.57h1.2v1.2h-1.2zM404.72 319.13h1.2v1.2h-1.2zM381.08 309.84h1.2v1.2h-1.2zM375.1 312.48h1.2v1.2h-1.2zM390.25 318.17h1.2v1.2h-1.2zM386.68 318.03h1.2v1.2h-1.2zM376.75 308.15h1.2v1.2h-1.2zM380.09 318.46h1.2v1.2h-1.2zM398 316.9h1.2v1.2h-1.2zM388.46 315.02h1.2v1.2h-1.2zM394.53 315.37h1.2v1.2h-1.2zM388.28 314.61h1.2v1.2h-1.2zM381.74 314.41h1.2v1.2h-1.2zM384.27 318.78h1.2v1.2h-1.2zM394.26 320.05h1.2v1.2h-1.2zM389.72 315.12h1.2v1.2h-1.2zM387.24 316.12h1.2v1.2h-1.2zM388.01 316.25h1.2v1.2h-1.2zM404.65 320.11h1.2v1.2h-1.2zM388.69 316.64h1.2v1.2h-1.2zM370.79 314.66h1.2v1.2h-1.2zM376.37 317.68h1.2v1.2h-1.2zM381.26 310.58h1.2v1.2h-1.2zM395.62 315.44h1.2v1.2h-1.2zM389.92 314.94h1.2v1.2h-1.2zM405.57 318.12h1.2v1.2h-1.2zM405.62 319.61h1.2v1.2h-1.2zM375.44 318.34h1.2v1.2h-1.2zM380.32 317.09h1.2v1.2h-1.2zM396.2 316.36h1.2v1.2h-1.2zM390.6 317.96h1.2v1.2h-1.2zM379.68 310.38h1.2v1.2h-1.2zM390.22 317.76h1.2v1.2h-1.2zM398.55 317.65h1.2v1.2h-1.2zM373.98 317.23h1.2v1.2h-1.2zM396.99 317.03h1.2v1.2h-1.2zM385.16 314.83h1.2v1.2h-1.2zM401.02 318.26h1.2v1.2h-1.2zM404.33 319.02h1.2v1.2h-1.2zM387.84 315.32h1.2v1.2h-1.2zM387.67 317.4h1.2v1.2h-1.2zM381.76 314.64h1.2v1.2h-1.2zM392.94 312.95h1.2v1.2h-1.2zM402.46 316.66h1.2v1.2h-1.2zM405.73 320.91h1.2v1.2h-1.2zM373.74 315.04h1.2v1.2h-1.2zM400.61 317.56h1.2v1.2h-1.2zM383.35 312.7h1.2v1.2h-1.2zM373.03 314.38h1.2v1.2h-1.2zM405.16 318.17h1.2v1.2h-1.2zM385.1 313.87h1.2v1.2h-1.2zM373.88 312.98h1.2v1.2h-1.2zM396 317.23h1.2v1.2h-1.2zM392.24 318.38h1.2v1.2h-1.2zM398.53 319.71h1.2v1.2h-1.2zM403.04 320.47h1.2v1.2h-1.2zM389.81 314.16h1.2v1.2h-1.2zM378.1 319.04h1.2v1.2h-1.2zM371.46 314.95h1.2v1.2h-1.2zM389.35 319.81h1.2v1.2h-1.2zM383.24 312.86h1.2v1.2h-1.2zM377.56 310.77h1.2v1.2h-1.2zM398.74 319.09h1.2v1.2h-1.2zM404.75 319.28h1.2v1.2h-1.2zM405.94 320.91h1.2v1.2h-1.2zM395.52 318.81h1.2v1.2h-1.2zM404.35 319.51h1.2v1.2h-1.2zM371.62 316.62h1.2v1.2h-1.2zM377.35 310.77h1.2v1.2h-1.2zM381.58 316.95h1.2v1.2h-1.2zM374.55 317.73h1.2v1.2h-1.2zM403.05 318.58h1.2v1.2h-1.2zM405.38 320.67h1.2v1.2h-1.2zM405.2 319.96h1.2v1.2h-1.2zM387.47 312.71h1.2v1.2h-1.2zM373.3 313.74h1.2v1.2h-1.2zM383.16 315.77h1.2v1.2h-1.2zM384.37 319.95h1.2v1.2h-1.2zM392.85 318.99h1.2v1.2h-1.2zM371.74 311.99h1.2v1.2h-1.2zM382.09 316.23h1.2v1.2h-1.2zM373.46 316.74h1.2v1.2h-1.2zM396 320.7h1.2v1.2h-1.2zM377.87 318.53h1.2v1.2h-1.2zM391.55 314.78h1.2v1.2h-1.2z" fill="#d4f4cf"/>
<polygon points="358.7,317.23 366.16,318.13 374.93,320.36 374.93,322.04 366.16,320.36 358.7,319.24" fill="#d4f4cf"/>
<path d="M371.14 321.97h1.2v1.2h-1.2zM361.6 315.33h1.2v1.2h-1.2zM365.02 318.38h1.2v1.2h-1.2zM357.33 317.56h1.2v1.2h-1.2zM371.76 319.36h1.2v1.2h-1.2zM364.19 316.48h1.2v1.2h-1.2zM368.98 318.49h1.2v1.2h-1.2zM373.26 322.21h1.2v1.2h-1.2zM363.82 315.95h1.2v1.2h-1.2zM356.94 321.13h1.2v1.2h-1.2zM358.63 321.77h1.2v1.2h-1.2zM371.91 320.1h1.2v1.2h-1.2zM369.83 320.15h1.2v1.2h-1.2zM376.64 321.64h1.2v1.2h-1.2zM371 321.52h1.2v1.2h-1.2zM367.63 319.47h1.2v1.2h-1.2zM366.62 318.26h1.2v1.2h-1.2zM359.1 318.05h1.2v1.2h-1.2zM357.31 317.58h1.2v1.2h-1.2zM372.83 320.74h1.2v1.2h-1.2zM359.01 319.09h1.2v1.2h-1.2zM367.65 318.58h1.2v1.2h-1.2zM371.51 319.44h1.2v1.2h-1.2zM363.22 316.86h1.2v1.2h-1.2zM373.97 323.17h1.2v1.2h-1.2zM361.05 318.14h1.2v1.2h-1.2zM367.58 316.19h1.2v1.2h-1.2zM369.79 316.79h1.2v1.2h-1.2zM365.58 320.35h1.2v1.2h-1.2zM359.04 317.58h1.2v1.2h-1.2zM360.64 319.12h1.2v1.2h-1.2zM367.4 316.86h1.2v1.2h-1.2zM361.36 317.91h1.2v1.2h-1.2zM364.01 320.76h1.2v1.2h-1.2zM367.42 319.92h1.2v1.2h-1.2zM366.92 320.27h1.2v1.2h-1.2zM374.79 320.62h1.2v1.2h-1.2zM371.6 319.32h1.2v1.2h-1.2zM358.92 317.24h1.2v1.2h-1.2zM369.69 324.04h1.2v1.2h-1.2zM362.17 317.97h1.2v1.2h-1.2zM359.81 319.01h1.2v1.2h-1.2zM373.12 318.66h1.2v1.2h-1.2zM363.39 318.19h1.2v1.2h-1.2zM370.05 319.5h1.2v1.2h-1.2zM368.6 317.63h1.2v1.2h-1.2zM369.24 317.07h1.2v1.2h-1.2zM375.28 319.63h1.2v1.2h-1.2zM374.23 317.06h1.2v1.2h-1.2zM362.48 320.58h1.2v1.2h-1.2zM365 321.65h1.2v1.2h-1.2zM357.11 317.01h1.2v1.2h-1.2zM373.23 318.88h1.2v1.2h-1.2zM361.25 318.76h1.2v1.2h-1.2z" fill="#d4f4cf"/>
<polygon points="356.86,298.67 359.45,294.87 363.89,293.08 368.33,294.09 373.52,296.44 377.2,297.89 375.68,299.12 371.25,299.12 368.33,297.89 364.65,297.89 361.62,299.12 360.21,303.26 358.26,302.14" fill="#d4f4cf"/>
<path d="M370.67 294.62h1.2v1.2h-1.2zM374.25 295.38h1.2v1.2h-1.2zM370.05 299.39h1.2v1.2h-1.2zM357.25 300.94h1.2v1.2h-1.2zM356.07 294.41h1.2v1.2h-1.2zM359.13 301.49h1.2v1.2h-1.2zM365.22 295.26h1.2v1.2h-1.2zM371.48 300.44h1.2v1.2h-1.2zM369 297.52h1.2v1.2h-1.2zM361.22 292.33h1.2v1.2h-1.2zM365.26 296.99h1.2v1.2h-1.2zM370.71 298.27h1.2v1.2h-1.2zM360.66 290.98h1.2v1.2h-1.2zM366.99 299.45h1.2v1.2h-1.2zM375.33 297.72h1.2v1.2h-1.2zM372.62 296.43h1.2v1.2h-1.2zM373.03 298.19h1.2v1.2h-1.2zM363.72 298.26h1.2v1.2h-1.2zM365.26 295.14h1.2v1.2h-1.2zM372.32 296.78h1.2v1.2h-1.2zM374.71 298.7h1.2v1.2h-1.2zM368.42 298.18h1.2v1.2h-1.2zM360.6 301.79h1.2v1.2h-1.2zM363.32 292.97h1.2v1.2h-1.2zM361.12 297.49h1.2v1.2h-1.2zM375.7 297.67h1.2v1.2h-1.2zM361.19 298.9h1.2v1.2h-1.2zM365.17 296.23h1.2v1.2h-1.2zM359.95 303.82h1.2v1.2h-1.2zM367.41 295.07h1.2v1.2h-1.2zM369.23 296.22h1.2v1.2h-1.2zM365.43 294.59h1.2v1.2h-1.2zM362.71 292.89h1.2v1.2h-1.2zM373.24 297.73h1.2v1.2h-1.2zM357.86 301.16h1.2v1.2h-1.2zM371.11 294.3h1.2v1.2h-1.2zM360.2 302.02h1.2v1.2h-1.2zM372.01 297.25h1.2v1.2h-1.2zM357.47 295.67h1.2v1.2h-1.2zM358.78 300.2h1.2v1.2h-1.2zM360.16 294.49h1.2v1.2h-1.2zM354.64 297.36h1.2v1.2h-1.2zM358.26 295.58h1.2v1.2h-1.2zM366.25 298.17h1.2v1.2h-1.2zM366.97 296.27h1.2v1.2h-1.2zM376.18 298.8h1.2v1.2h-1.2zM370.8 295.85h1.2v1.2h-1.2zM368.44 294.04h1.2v1.2h-1.2zM368.5 293.66h1.2v1.2h-1.2zM360.68 292.7h1.2v1.2h-1.2zM373.91 300.9h1.2v1.2h-1.2zM361.8 296.44h1.2v1.2h-1.2zM364.83 297.29h1.2v1.2h-1.2zM371.6 295.81h1.2v1.2h-1.2zM371.94 298.07h1.2v1.2h-1.2zM359.22 302.66h1.2v1.2h-1.2zM370.94 294.44h1.2v1.2h-1.2zM369.34 298.82h1.2v1.2h-1.2zM360.77 300.37h1.2v1.2h-1.2zM366.05 295.94h1.2v1.2h-1.2zM370.96 295.15h1.2v1.2h-1.2zM358.39 297.32h1.2v1.2h-1.2zM358.46 298.21h1.2v1.2h-1.2zM372.24 298.42h1.2v1.2h-1.2zM356.35 301.25h1.2v1.2h-1.2zM358.63 294.88h1.2v1.2h-1.2zM360.26 294.3h1.2v1.2h-1.2zM357.21 292.77h1.2v1.2h-1.2zM375.18 295.04h1.2v1.2h-1.2zM371.94 299.74h1.2v1.2h-1.2zM358.46 301.45h1.2v1.2h-1.2zM374.55 296.59h1.2v1.2h-1.2zM371.4 298.35h1.2v1.2h-1.2zM364.52 292.15h1.2v1.2h-1.2zM358.44 293.9h1.2v1.2h-1.2zM356.56 299.88h1.2v1.2h-1.2zM368.58 299.97h1.2v1.2h-1.2zM364.49 296.87h1.2v1.2h-1.2zM357.44 295.98h1.2v1.2h-1.2zM364.79 292.8h1.2v1.2h-1.2zM377.41 297.17h1.2v1.2h-1.2zM367.26 292.61h1.2v1.2h-1.2zM366.74 295.85h1.2v1.2h-1.2zM356.44 295.76h1.2v1.2h-1.2zM360.56 301.73h1.2v1.2h-1.2zM360.16 292.58h1.2v1.2h-1.2zM365.47 295.79h1.2v1.2h-1.2zM367.65 297.61h1.2v1.2h-1.2zM365.25 295.35h1.2v1.2h-1.2zM367.41 297.06h1.2v1.2h-1.2zM367.76 299.21h1.2v1.2h-1.2zM376.91 298.6h1.2v1.2h-1.2zM372.29 295.64h1.2v1.2h-1.2zM358.2 296.77h1.2v1.2h-1.2zM371.14 295.92h1.2v1.2h-1.2zM358.8 303.16h1.2v1.2h-1.2zM375.53 296.71h1.2v1.2h-1.2zM366.61 294.91h1.2v1.2h-1.2zM358.71 294.54h1.2v1.2h-1.2zM361.24 293h1.2v1.2h-1.2zM369.5 295.98h1.2v1.2h-1.2zM366.67 298.02h1.2v1.2h-1.2zM361.71 293.48h1.2v1.2h-1.2zM357.91 296.03h1.2v1.2h-1.2zM360.96 295.11h1.2v1.2h-1.2zM370.67 298.24h1.2v1.2h-1.2zM359.72 294.63h1.2v1.2h-1.2zM360.4 295.53h1.2v1.2h-1.2zM363.21 294.14h1.2v1.2h-1.2zM373.18 296.83h1.2v1.2h-1.2zM374.01 299.42h1.2v1.2h-1.2zM356.82 295.86h1.2v1.2h-1.2zM372.94 294.87h1.2v1.2h-1.2zM369.9 299.48h1.2v1.2h-1.2zM358.21 301.83h1.2v1.2h-1.2zM363.98 298.68h1.2v1.2h-1.2zM359.44 302.27h1.2v1.2h-1.2z" fill="#d4f4cf"/>
<polygon points="376.98,298 387.8,300.69 397.32,301.58 404.9,302.14 414.31,301.13 419.07,299.12 422.43,296.21 423.29,297.33 419.72,300.46 414.31,302.7 404.9,303.59 397.32,303.14 387.8,302.25 376.98,299.57" fill="#d4f4cf"/>
<path d="M404.83 299.33h1.2v1.2h-1.2zM404.76 302.62h1.2v1.2h-1.2zM415.83 298.48h1.2v1.2h-1.2zM389.1 299.82h1.2v1.2h-1.2zM386.7 302.98h1.2v1.2h-1.2zM380.11 298.62h1.2v1.2h-1.2zM387.71 301.2h1.2v1.2h-1.2zM409 302.44h1.2v1.2h-1.2zM414.96 299.5h1.2v1.2h-1.2zM397.65 303.14h1.2v1.2h-1.2zM402.82 302.99h1.2v1.2h-1.2zM392.66 301.59h1.2v1.2h-1.2zM376.29 299.91h1.2v1.2h-1.2zM405.5 305.18h1.2v1.2h-1.2zM394.58 300.48h1.2v1.2h-1.2zM376.56 297.43h1.2v1.2h-1.2zM407.72 304.86h1.2v1.2h-1.2zM411.87 303.21h1.2v1.2h-1.2zM397.01 301.37h1.2v1.2h-1.2zM389.8 301.28h1.2v1.2h-1.2zM406.44 301.86h1.2v1.2h-1.2zM398.18 303.17h1.2v1.2h-1.2zM391.65 297.3h1.2v1.2h-1.2zM395.49 300.42h1.2v1.2h-1.2zM379.11 298.64h1.2v1.2h-1.2zM399.41 301.99h1.2v1.2h-1.2zM378.48 299.56h1.2v1.2h-1.2zM377.66 298.83h1.2v1.2h-1.2zM403.38 302.15h1.2v1.2h-1.2zM413.89 301.8h1.2v1.2h-1.2zM378.87 298.31h1.2v1.2h-1.2zM393.31 301.12h1.2v1.2h-1.2zM386.91 298.84h1.2v1.2h-1.2zM411.17 302.2h1.2v1.2h-1.2zM402.36 301.77h1.2v1.2h-1.2zM416.63 299.97h1.2v1.2h-1.2zM376.84 301.26h1.2v1.2h-1.2zM410.44 302.43h1.2v1.2h-1.2zM421.4 297.53h1.2v1.2h-1.2zM421.15 297.69h1.2v1.2h-1.2zM387.6 299.1h1.2v1.2h-1.2zM376.64 297.38h1.2v1.2h-1.2zM417.82 297.14h1.2v1.2h-1.2zM415.91 299.43h1.2v1.2h-1.2zM413.91 300.12h1.2v1.2h-1.2zM377.53 297.8h1.2v1.2h-1.2zM383.69 298.65h1.2v1.2h-1.2zM389.31 301.19h1.2v1.2h-1.2zM396.85 302.96h1.2v1.2h-1.2zM412.8 300.15h1.2v1.2h-1.2zM378.5 296.74h1.2v1.2h-1.2zM390.73 302.21h1.2v1.2h-1.2zM400.85 303.42h1.2v1.2h-1.2zM395.55 301.56h1.2v1.2h-1.2zM382.24 298.17h1.2v1.2h-1.2zM390.33 299.79h1.2v1.2h-1.2zM379.17 297.15h1.2v1.2h-1.2zM384.63 300.15h1.2v1.2h-1.2zM379.64 297.63h1.2v1.2h-1.2zM406.35 300.98h1.2v1.2h-1.2zM412.01 303.73h1.2v1.2h-1.2zM379.04 299.09h1.2v1.2h-1.2zM403.42 301.59h1.2v1.2h-1.2zM379.63 298.35h1.2v1.2h-1.2zM420.99 299.27h1.2v1.2h-1.2zM399.53 300.91h1.2v1.2h-1.2zM392.55 298.52h1.2v1.2h-1.2zM407.51 301.94h1.2v1.2h-1.2zM400.74 302.96h1.2v1.2h-1.2zM386.61 301.68h1.2v1.2h-1.2zM421.85 295.93h1.2v1.2h-1.2zM413.73 303.67h1.2v1.2h-1.2zM414.57 303.52h1.2v1.2h-1.2zM412.47 300.6h1.2v1.2h-1.2zM415.26 299.89h1.2v1.2h-1.2zM415.13 298.68h1.2v1.2h-1.2zM415.03 300.82h1.2v1.2h-1.2zM409.29 302.77h1.2v1.2h-1.2zM393.21 300.19h1.2v1.2h-1.2zM413.37 299.71h1.2v1.2h-1.2zM408.75 302.55h1.2v1.2h-1.2zM382.06 301.6h1.2v1.2h-1.2zM388.65 301.49h1.2v1.2h-1.2zM386.03 301.64h1.2v1.2h-1.2zM398.59 305.13h1.2v1.2h-1.2zM409.91 300.99h1.2v1.2h-1.2zM403.77 301.96h1.2v1.2h-1.2zM402.84 303.14h1.2v1.2h-1.2zM393.6 303h1.2v1.2h-1.2zM389.74 301.17h1.2v1.2h-1.2zM414.84 302.24h1.2v1.2h-1.2zM413.81 302.3h1.2v1.2h-1.2zM415.19 301.71h1.2v1.2h-1.2zM413.5 299.62h1.2v1.2h-1.2zM417.69 302.67h1.2v1.2h-1.2zM384.51 299.35h1.2v1.2h-1.2zM384.66 299.98h1.2v1.2h-1.2zM374.14 296.99h1.2v1.2h-1.2zM379.16 297.86h1.2v1.2h-1.2zM421.58 294.29h1.2v1.2h-1.2zM390.4 300.26h1.2v1.2h-1.2zM420.7 296.29h1.2v1.2h-1.2zM417.12 298.68h1.2v1.2h-1.2zM385.45 299.9h1.2v1.2h-1.2zM392.83 300.25h1.2v1.2h-1.2zM417.21 298.66h1.2v1.2h-1.2zM403.71 300.39h1.2v1.2h-1.2zM389.76 301.83h1.2v1.2h-1.2zM420.66 301.49h1.2v1.2h-1.2zM382.8 301.14h1.2v1.2h-1.2zM414.05 300.61h1.2v1.2h-1.2zM421.12 299.76h1.2v1.2h-1.2zM401.09 300.8h1.2v1.2h-1.2zM390.08 301.75h1.2v1.2h-1.2zM419.01 301.43h1.2v1.2h-1.2zM390.24 302.48h1.2v1.2h-1.2zM392.41 301.96h1.2v1.2h-1.2zM399.69 300.02h1.2v1.2h-1.2zM397.09 301.47h1.2v1.2h-1.2zM400.9 299.55h1.2v1.2h-1.2zM422.11 296.86h1.2v1.2h-1.2zM398.63 299.63h1.2v1.2h-1.2zM395.34 303.05h1.2v1.2h-1.2zM419.99 297.41h1.2v1.2h-1.2zM405.22 301.82h1.2v1.2h-1.2zM417.07 301.1h1.2v1.2h-1.2z" fill="#d4f4cf"/>
<polygon points="405.76,300.13 408.9,299.57 410.52,302.36 409.44,306.28 406.2,305.72" fill="#d4f4cf"/>
<path d="M409.45 303.01h1.2v1.2h-1.2zM404.11 300.58h1.2v1.2h-1.2zM406.43 302.91h1.2v1.2h-1.2zM409.5 303.04h1.2v1.2h-1.2zM408.54 304.49h1.2v1.2h-1.2zM408.55 299.25h1.2v1.2h-1.2zM405.75 306.08h1.2v1.2h-1.2zM406.15 304.02h1.2v1.2h-1.2zM409.98 299.46h1.2v1.2h-1.2zM408.56 301.59h1.2v1.2h-1.2zM409.46 303.44h1.2v1.2h-1.2zM406.87 302.43h1.2v1.2h-1.2zM405.9 300.04h1.2v1.2h-1.2zM405.83 301.81h1.2v1.2h-1.2zM407.02 300.38h1.2v1.2h-1.2zM405.07 301.92h1.2v1.2h-1.2zM406.26 300.43h1.2v1.2h-1.2zM405.89 300.35h1.2v1.2h-1.2zM410.98 302.78h1.2v1.2h-1.2zM406.24 303.46h1.2v1.2h-1.2zM405.11 305.53h1.2v1.2h-1.2zM407.51 299.71h1.2v1.2h-1.2zM407.5 306.59h1.2v1.2h-1.2zM411.28 301.24h1.2v1.2h-1.2zM408.76 301.86h1.2v1.2h-1.2zM410.25 301.02h1.2v1.2h-1.2zM409.79 301.36h1.2v1.2h-1.2zM411.59 304.85h1.2v1.2h-1.2zM408.42 302.78h1.2v1.2h-1.2zM407.29 300.73h1.2v1.2h-1.2zM407.46 305.67h1.2v1.2h-1.2zM403.43 304.35h1.2v1.2h-1.2zM406.92 301.52h1.2v1.2h-1.2zM404.93 305.61h1.2v1.2h-1.2zM405.96 305.19h1.2v1.2h-1.2zM407.26 302.96h1.2v1.2h-1.2zM405.31 303.87h1.2v1.2h-1.2zM404.95 299.55h1.2v1.2h-1.2zM406.03 301.9h1.2v1.2h-1.2zM407.9 297.62h1.2v1.2h-1.2zM404.7 307.09h1.2v1.2h-1.2zM405.6 301.48h1.2v1.2h-1.2zM405.51 300.92h1.2v1.2h-1.2zM406.19 297.33h1.2v1.2h-1.2zM407.64 298.72h1.2v1.2h-1.2z" fill="#d4f4cf"/>
<path d="M363.45 312.07h1.3v1.3h-1.3zM365.4 309.21h1.3v1.3h-1.3zM368.89 315.53h1.3v1.3h-1.3zM364.03 311.81h1.3v1.3h-1.3zM364.99 313.53h1.3v1.3h-1.3zM363.94 310.96h1.3v1.3h-1.3zM365.86 312.01h1.3v1.3h-1.3zM366.02 312.95h1.3v1.3h-1.3zM369.24 315.5h1.3v1.3h-1.3zM369.03 314.72h1.3v1.3h-1.3zM364.7 310.28h1.3v1.3h-1.3zM366.18 313.31h1.3v1.3h-1.3zM367.11 311.08h1.3v1.3h-1.3zM363.36 309.11h1.3v1.3h-1.3zM364.58 313.98h1.3v1.3h-1.3zM368.61 308.74h1.3v1.3h-1.3zM364.75 310.26h1.3v1.3h-1.3zM368.26 315.24h1.3v1.3h-1.3zM364.92 309.2h1.3v1.3h-1.3zM369.41 315.81h1.3v1.3h-1.3zM367.82 312.01h1.3v1.3h-1.3zM368.01 314.25h1.3v1.3h-1.3zM366.49 310.48h1.3v1.3h-1.3zM366.59 313.45h1.3v1.3h-1.3zM365.31 313.28h1.3v1.3h-1.3z" fill="#d4f4cf"/>
<polygon points="358.7,308.29 360.54,307.95 361.19,311.87 360.86,315.89 359.02,315.89 358.37,311.87" fill="#d4f4cf"/>
<path d="M359.58 307.63h1.2v1.2h-1.2zM360.28 300.56h1.2v1.2h-1.2zM368.38 307.44h1.2v1.2h-1.2zM368 306.4h1.2v1.2h-1.2zM367.17 306.21h1.2v1.2h-1.2zM364.12 299.11h1.2v1.2h-1.2zM365.91 306.35h1.2v1.2h-1.2zM367.05 298.82h1.2v1.2h-1.2zM358.65 305.35h1.2v1.2h-1.2zM363.27 306.9h1.2v1.2h-1.2z" fill="#d4f4cf"/>
<path d="M428.83 330.11h1.1v1.1h-1.1zM429.77 325.96h1.1v1.1h-1.1zM426.96 321.77h1.1v1.1h-1.1zM440.49 330.93h1.1v1.1h-1.1zM435.43 327.28h1.1v1.1h-1.1zM404.4 327.12h1.1v1.1h-1.1zM429.09 328.48h1.1v1.1h-1.1zM414.4 324.24h1.1v1.1h-1.1zM405.52 323.91h1.1v1.1h-1.1zM415.34 330.53h1.1v1.1h-1.1zM441.16 330.27h1.1v1.1h-1.1zM425.37 331.04h1.1v1.1h-1.1zM425.62 325.77h1.1v1.1h-1.1zM411.36 321.82h1.1v1.1h-1.1zM428.23 321.57h1.1v1.1h-1.1zM429.12 333.55h1.1v1.1h-1.1zM428.43 329.29h1.1v1.1h-1.1zM425.65 329.74h1.1v1.1h-1.1zM438.57 329.37h1.1v1.1h-1.1zM436.89 329.55h1.1v1.1h-1.1zM444.92 329.11h1.1v1.1h-1.1zM438.03 331.61h1.1v1.1h-1.1zM440.34 326.36h1.1v1.1h-1.1zM394.33 325.37h1.1v1.1h-1.1zM414.25 324.66h1.1v1.1h-1.1zM429.62 322.18h1.1v1.1h-1.1zM409.61 326.34h1.1v1.1h-1.1zM400.2 329.17h1.1v1.1h-1.1zM415.71 332.03h1.1v1.1h-1.1zM411.38 334.48h1.1v1.1h-1.1zM403.91 328.24h1.1v1.1h-1.1zM409.41 333.33h1.1v1.1h-1.1zM408.89 327.64h1.1v1.1h-1.1zM420.96 324.54h1.1v1.1h-1.1zM421.52 321.73h1.1v1.1h-1.1zM411.89 324.79h1.1v1.1h-1.1zM436.1 331.58h1.1v1.1h-1.1zM430.14 329.13h1.1v1.1h-1.1zM438.75 331.17h1.1v1.1h-1.1zM432.59 332.56h1.1v1.1h-1.1zM401.94 328.74h1.1v1.1h-1.1zM426.17 329.27h1.1v1.1h-1.1zM420.25 324.57h1.1v1.1h-1.1zM397.38 330.17h1.1v1.1h-1.1zM407.23 323.87h1.1v1.1h-1.1z" fill="#fff"/>
<path d="M411.17 320.54h1.1v1.1h-1.1zM411.91 320.99h1.1v1.1h-1.1zM409.03 322.24h1.1v1.1h-1.1zM401.96 320.34h1.1v1.1h-1.1zM439.13 316.78h1.1v1.1h-1.1zM429.11 319.91h1.1v1.1h-1.1zM400.7 322.73h1.1v1.1h-1.1zM433.5 319.67h1.1v1.1h-1.1zM427.42 316.7h1.1v1.1h-1.1zM429.28 321.28h1.1v1.1h-1.1zM412.32 321.83h1.1v1.1h-1.1zM423.12 319.02h1.1v1.1h-1.1zM420.83 317.94h1.1v1.1h-1.1zM410.5 322.74h1.1v1.1h-1.1zM413.2 321.82h1.1v1.1h-1.1z" fill="#fff"/>
<path d="M379.61 312.97h1v1h-1zM372.53 316.18h1v1h-1zM395.37 318.03h1v1h-1zM403.31 318.78h1v1h-1zM373.83 313.58h1v1h-1zM386.56 316.24h1v1h-1zM386.84 317.83h1v1h-1zM379.98 314.39h1v1h-1zM378.42 315.13h1v1h-1zM381.28 315.72h1v1h-1zM374.62 316.88h1v1h-1zM401 318.43h1v1h-1z" fill="#fff"/>
<path d="M350.97 336.5h1.3v1.3h-1.3zM351.91 333.55h1.3v1.3h-1.3zM349.88 331.56h1.3v1.3h-1.3zM351.85 334.52h1.3v1.3h-1.3zM352.75 335.59h1.3v1.3h-1.3zM349.88 332.55h1.3v1.3h-1.3zM349.91 333.64h1.3v1.3h-1.3zM352.23 335.48h1.3v1.3h-1.3zM351.4 336.08h1.3v1.3h-1.3zM352.9 335.6h1.3v1.3h-1.3zM352.77 332.04h1.3v1.3h-1.3zM350.78 331.11h1.3v1.3h-1.3z" fill="#fff"/>
<path d="M361.79 337.93h1.3v1.3h-1.3zM360.82 339.69h1.3v1.3h-1.3zM362.39 339.2h1.3v1.3h-1.3zM362.14 339.94h1.3v1.3h-1.3zM360.36 338.57h1.3v1.3h-1.3zM362.34 338.07h1.3v1.3h-1.3zM359.99 338.36h1.3v1.3h-1.3zM359.75 337.88h1.3v1.3h-1.3zM359.8 337.68h1.3v1.3h-1.3zM361.95 339.12h1.3v1.3h-1.3zM362.06 337.86h1.3v1.3h-1.3zM360.85 336.06h1.3v1.3h-1.3z" fill="#fff"/>
<path d="M369.24 325.35h1.1v1.1h-1.1zM362.1 319.89h1.1v1.1h-1.1zM363.05 318.83h1.1v1.1h-1.1zM356.71 319.04h1.1v1.1h-1.1zM362.42 319.79h1.1v1.1h-1.1zM369.95 325.87h1.1v1.1h-1.1zM370.7 325.14h1.1v1.1h-1.1zM357.46 321.58h1.1v1.1h-1.1zM370.18 325.54h1.1v1.1h-1.1zM366.57 326.16h1.1v1.1h-1.1z" fill="#fff"/>
<path d="M375.11 321.94h1.3v1.3h-1.3zM382.57 342.11h1.3v1.3h-1.3zM392.54 334.19h1.3v1.3h-1.3zM379.22 317.14h1.3v1.3h-1.3zM385.05 328.49h1.3v1.3h-1.3zM392.3 322.15h1.3v1.3h-1.3zM378.16 316.18h1.3v1.3h-1.3zM374.73 340.96h1.3v1.3h-1.3zM391.14 320.5h1.3v1.3h-1.3zM374.47 333.73h1.3v1.3h-1.3zM378.97 334.92h1.3v1.3h-1.3zM391.93 339.07h1.3v1.3h-1.3zM379.62 334.68h1.3v1.3h-1.3zM379.81 339.46h1.3v1.3h-1.3zM379.2 342.9h1.3v1.3h-1.3zM387.38 343.61h1.3v1.3h-1.3zM380.9 345.56h1.3v1.3h-1.3zM385.51 323.74h1.3v1.3h-1.3zM386.77 325.41h1.3v1.3h-1.3zM376.38 316.93h1.3v1.3h-1.3zM386.06 323.26h1.3v1.3h-1.3zM376.12 340h1.3v1.3h-1.3zM376.93 339.32h1.3v1.3h-1.3zM379.49 327.06h1.3v1.3h-1.3zM392.33 341.63h1.3v1.3h-1.3zM390.42 346.37h1.3v1.3h-1.3zM385.93 344.96h1.3v1.3h-1.3zM386.29 333.91h1.3v1.3h-1.3z" fill="#d4f4cf"/>
<path d="M433.65 308h1.3v1.3h-1.3zM432.72 303.99h1.3v1.3h-1.3zM430.55 299.85h1.3v1.3h-1.3zM434.8 302.71h1.3v1.3h-1.3zM438.87 305.62h1.3v1.3h-1.3zM428.59 307.68h1.3v1.3h-1.3zM430.93 303.89h1.3v1.3h-1.3zM431.52 302.44h1.3v1.3h-1.3zM433.19 301.21h1.3v1.3h-1.3zM432.67 304.27h1.3v1.3h-1.3zM438.21 307.59h1.3v1.3h-1.3zM442.24 299.76h1.3v1.3h-1.3zM433.97 309.29h1.3v1.3h-1.3zM431.16 304.64h1.3v1.3h-1.3zM438.21 310.39h1.3v1.3h-1.3zM437.64 306.3h1.3v1.3h-1.3zM434.84 307.29h1.3v1.3h-1.3zM435.84 306.35h1.3v1.3h-1.3z" fill="#d4f4cf"/>
<path d="M364.27 221.5h1.4v1.4h-1.4zM409.82 227.09h1.4v1.4h-1.4zM382.56 245.43h1.4v1.4h-1.4zM381.15 244.64h1.4v1.4h-1.4zM384.4 246.1h1.4v1.4h-1.4zM384.18 238.16h1.4v1.4h-1.4zM409.07 252.81h1.4v1.4h-1.4zM450.51 245.43h1.4v1.4h-1.4zM429.95 259.74h1.4v1.4h-1.4zM432.55 261.97h1.4v1.4h-1.4zM436.88 269.8h1.4v1.4h-1.4zM439.04 274.27h1.4v1.4h-1.4zM441.2 272.04h1.4v1.4h-1.4zM435.79 278.74h1.4v1.4h-1.4zM431.46 275.39h1.4v1.4h-1.4zM437.52 268.01h1.4v1.4h-1.4zM433.63 282.1h1.4v1.4h-1.4zM428.22 284.33h1.4v1.4h-1.4zM440.12 287.69h1.4v1.4h-1.4zM443.37 293.28h1.4v1.4h-1.4zM441.2 292.16h1.4v1.4h-1.4z" fill="#d4f4cf"/>
<path d="M359.2 325.8h1.4v1.4h-1.4zM365.6 332.2h1.4v1.4h-1.4zM366.1 332.7h1.4v1.4h-1.4zM355.5 342.6h1.4v1.4h-1.4zM370.1 342.2h1.4v1.4h-1.4zM395.2 339.5h1.4v1.4h-1.4zM395.9 340.1h1.4v1.4h-1.4zM403.7 333h1.4v1.4h-1.4zM408.1 328h1.4v1.4h-1.4zM405.5 341.1h1.4v1.4h-1.4zM425 341.1h1.4v1.4h-1.4zM429.6 333.5h1.4v1.4h-1.4zM434.4 325.1h1.4v1.4h-1.4z" fill="#00441b"/>
<polygon points="516.55,298.56 529.43,300 538.87,300.55 546.38,300.88 555.72,300 560.44,298.34 563.77,295.8 565.38,297.46 562.16,302.43 555.72,305.41 546.38,306.29 538.87,305.85 529.43,305.19 518.7,302.98" fill="#d4f4cf"/>
<path d="M547.33 301.5h1.2v1.2h-1.2zM546.45 300.24h1.2v1.2h-1.2zM538.61 302.43h1.2v1.2h-1.2zM526.47 302.9h1.2v1.2h-1.2zM544.54 305.43h1.2v1.2h-1.2zM546.04 300.96h1.2v1.2h-1.2zM534.14 299.74h1.2v1.2h-1.2zM551.82 302.75h1.2v1.2h-1.2zM551.03 301.66h1.2v1.2h-1.2zM554.17 299.78h1.2v1.2h-1.2zM552.18 301.54h1.2v1.2h-1.2zM546.92 300.96h1.2v1.2h-1.2zM548.52 301.08h1.2v1.2h-1.2zM520.37 302.28h1.2v1.2h-1.2zM524.07 300.57h1.2v1.2h-1.2zM560.31 299.91h1.2v1.2h-1.2zM523.95 298.94h1.2v1.2h-1.2zM537.49 304.33h1.2v1.2h-1.2zM521.52 300.86h1.2v1.2h-1.2zM538.97 301h1.2v1.2h-1.2zM554.64 301.49h1.2v1.2h-1.2zM542.68 304.3h1.2v1.2h-1.2zM518.22 302h1.2v1.2h-1.2zM554.8 303.64h1.2v1.2h-1.2zM528.38 302.68h1.2v1.2h-1.2zM537.28 302.38h1.2v1.2h-1.2zM528.45 304.23h1.2v1.2h-1.2zM528.86 304.33h1.2v1.2h-1.2zM544.15 300.69h1.2v1.2h-1.2zM542.71 301.08h1.2v1.2h-1.2z" fill="#fff"/>
<path d="M518.56 302.04h1.2v1.2h-1.2zM516.84 299.18h1.2v1.2h-1.2zM532.23 305.07h1.2v1.2h-1.2zM532.61 299.79h1.2v1.2h-1.2zM518.11 298.33h1.2v1.2h-1.2zM521.13 299.65h1.2v1.2h-1.2zM516.3 299.45h1.2v1.2h-1.2zM557.38 303.53h1.2v1.2h-1.2zM540.45 300.9h1.2v1.2h-1.2zM528.48 298.73h1.2v1.2h-1.2zM535.28 299.97h1.2v1.2h-1.2zM544.39 300.01h1.2v1.2h-1.2zM541.81 301.18h1.2v1.2h-1.2zM546.27 307.17h1.2v1.2h-1.2zM556.63 300.84h1.2v1.2h-1.2zM552.13 299.76h1.2v1.2h-1.2zM563.21 299.93h1.2v1.2h-1.2zM550.71 305.4h1.2v1.2h-1.2zM524.18 298.78h1.2v1.2h-1.2zM543.8 299.12h1.2v1.2h-1.2zM530.09 296.64h1.2v1.2h-1.2zM551.83 305.43h1.2v1.2h-1.2zM545.36 304.13h1.2v1.2h-1.2zM542.18 299.66h1.2v1.2h-1.2zM528.82 299.4h1.2v1.2h-1.2zM558.51 305.34h1.2v1.2h-1.2zM561.97 294.63h1.2v1.2h-1.2zM562.81 294.43h1.2v1.2h-1.2zM558.87 299.46h1.2v1.2h-1.2zM521.18 302.28h1.2v1.2h-1.2zM561.52 301.73h1.2v1.2h-1.2zM538.19 305.21h1.2v1.2h-1.2zM563.84 301.04h1.2v1.2h-1.2zM542.06 300.57h1.2v1.2h-1.2zM554.19 305.26h1.2v1.2h-1.2zM560.61 296.12h1.2v1.2h-1.2zM526.25 299.23h1.2v1.2h-1.2zM548.38 299.77h1.2v1.2h-1.2zM541.42 306.55h1.2v1.2h-1.2zM528.47 299.86h1.2v1.2h-1.2zM520.64 296.84h1.2v1.2h-1.2zM556.26 299.57h1.2v1.2h-1.2zM550.25 305.9h1.2v1.2h-1.2zM523.22 300.47h1.2v1.2h-1.2zM537.78 306.39h1.2v1.2h-1.2zM533.23 304.23h1.2v1.2h-1.2zM535.97 300.05h1.2v1.2h-1.2zM561.28 300.27h1.2v1.2h-1.2zM550.21 304.59h1.2v1.2h-1.2zM559.68 297h1.2v1.2h-1.2zM527.59 303.8h1.2v1.2h-1.2zM536.7 304h1.2v1.2h-1.2zM543.16 300.99h1.2v1.2h-1.2zM541.16 299.31h1.2v1.2h-1.2zM553.88 305.18h1.2v1.2h-1.2zM547.27 298.12h1.2v1.2h-1.2zM549.12 300.93h1.2v1.2h-1.2zM559.6 295.86h1.2v1.2h-1.2zM538.18 303.72h1.2v1.2h-1.2zM516.29 301.05h1.2v1.2h-1.2z" fill="#d4f4cf"/>
<polygon points="484.47,334.55 487.37,332.02 492.52,330.03 496.92,331.57 500.57,333.12 506.47,336.1 507.11,340.63 513.01,342.94 518.91,345.93 522.24,348.24 518.91,349.35 511.51,348.24 506.47,347.47 500.57,350.45 495.42,352.66 491.02,352 488.12,347.47 488.12,342.94 489.51,340.63 486.62,337.65 484.47,336.1" fill="#d4f4cf"/>
<path d="M502.65 350.16h1.2v1.2h-1.2zM516.59 344.62h1.2v1.2h-1.2zM514.11 342.79h1.2v1.2h-1.2zM520.99 347.87h1.2v1.2h-1.2zM490.23 340.89h1.2v1.2h-1.2zM508.75 339.07h1.2v1.2h-1.2zM488.71 333.08h1.2v1.2h-1.2zM502.54 347h1.2v1.2h-1.2zM499.21 332.41h1.2v1.2h-1.2zM512.29 343.44h1.2v1.2h-1.2zM506.14 339.17h1.2v1.2h-1.2zM507.45 337.03h1.2v1.2h-1.2zM509.39 346.22h1.2v1.2h-1.2zM487.26 337.05h1.2v1.2h-1.2zM487.94 344.97h1.2v1.2h-1.2zM510.69 346.2h1.2v1.2h-1.2zM503.77 350.14h1.2v1.2h-1.2zM521.76 349.77h1.2v1.2h-1.2zM506.5 345.8h1.2v1.2h-1.2zM504.69 336.6h1.2v1.2h-1.2zM511.47 341.87h1.2v1.2h-1.2zM506.16 336.29h1.2v1.2h-1.2zM515.55 347.12h1.2v1.2h-1.2zM486.8 340.19h1.2v1.2h-1.2zM507.31 338.77h1.2v1.2h-1.2zM487.66 349.92h1.2v1.2h-1.2zM501.54 351.25h1.2v1.2h-1.2zM496.79 332.32h1.2v1.2h-1.2zM510.01 342.13h1.2v1.2h-1.2zM518.11 345.54h1.2v1.2h-1.2zM511.94 341.03h1.2v1.2h-1.2zM486.05 334.8h1.2v1.2h-1.2zM490.12 345.84h1.2v1.2h-1.2zM517.14 344.67h1.2v1.2h-1.2zM512.4 344.23h1.2v1.2h-1.2zM484.45 332.98h1.2v1.2h-1.2zM516.11 345.58h1.2v1.2h-1.2zM506.27 348.64h1.2v1.2h-1.2zM503.9 334.12h1.2v1.2h-1.2zM485.3 337.53h1.2v1.2h-1.2zM509.24 340.39h1.2v1.2h-1.2zM503.77 334.91h1.2v1.2h-1.2zM488.19 338.85h1.2v1.2h-1.2zM495.27 351.15h1.2v1.2h-1.2zM501.79 349.31h1.2v1.2h-1.2zM499.4 333.11h1.2v1.2h-1.2zM506.64 339.69h1.2v1.2h-1.2zM515.75 347.65h1.2v1.2h-1.2zM491.88 328.95h1.2v1.2h-1.2zM495.25 331.01h1.2v1.2h-1.2zM489.73 351.45h1.2v1.2h-1.2zM516.2 343.56h1.2v1.2h-1.2zM515.67 343.35h1.2v1.2h-1.2zM518.47 345.72h1.2v1.2h-1.2zM492.65 329h1.2v1.2h-1.2zM482.03 333.41h1.2v1.2h-1.2zM507.47 347.33h1.2v1.2h-1.2zM502.69 348.27h1.2v1.2h-1.2zM486.94 331.86h1.2v1.2h-1.2zM492.36 351.97h1.2v1.2h-1.2zM490.54 351.43h1.2v1.2h-1.2zM516.09 344h1.2v1.2h-1.2zM489 330.93h1.2v1.2h-1.2zM515.15 347.52h1.2v1.2h-1.2zM501.84 350.2h1.2v1.2h-1.2zM505.79 348.04h1.2v1.2h-1.2zM510.8 341.21h1.2v1.2h-1.2zM517.81 349.13h1.2v1.2h-1.2zM488.4 332.74h1.2v1.2h-1.2zM494.86 332.53h1.2v1.2h-1.2zM507.17 345.03h1.2v1.2h-1.2zM484.31 337.25h1.2v1.2h-1.2zM495.43 352.17h1.2v1.2h-1.2zM504.42 337.27h1.2v1.2h-1.2zM485.71 345.23h1.2v1.2h-1.2zM489.09 327.6h1.2v1.2h-1.2zM505.41 347.11h1.2v1.2h-1.2zM517.73 345.59h1.2v1.2h-1.2zM489.98 351.19h1.2v1.2h-1.2zM507.68 345.48h1.2v1.2h-1.2zM500.63 332.27h1.2v1.2h-1.2zM516.62 348.78h1.2v1.2h-1.2zM506.43 338.17h1.2v1.2h-1.2zM485.95 329.89h1.2v1.2h-1.2zM507.11 335.57h1.2v1.2h-1.2zM522.65 346.51h1.2v1.2h-1.2zM521.31 345.75h1.2v1.2h-1.2zM509.74 341.45h1.2v1.2h-1.2zM494.32 351.7h1.2v1.2h-1.2zM496.08 353.86h1.2v1.2h-1.2zM505.88 346.56h1.2v1.2h-1.2zM513.17 342.17h1.2v1.2h-1.2zM484.81 332.64h1.2v1.2h-1.2zM505.51 347.58h1.2v1.2h-1.2zM489.01 346.06h1.2v1.2h-1.2zM502.29 333.52h1.2v1.2h-1.2zM497.94 334.95h1.2v1.2h-1.2zM487.57 333.28h1.2v1.2h-1.2zM493.34 352.33h1.2v1.2h-1.2zM490.06 345.56h1.2v1.2h-1.2zM513.31 348.77h1.2v1.2h-1.2zM504.68 346.18h1.2v1.2h-1.2zM519.15 348.48h1.2v1.2h-1.2zM518.92 345.07h1.2v1.2h-1.2zM510.41 347.08h1.2v1.2h-1.2zM488.63 341.04h1.2v1.2h-1.2zM484.71 331.06h1.2v1.2h-1.2zM484.13 336.27h1.2v1.2h-1.2zM494.52 353.46h1.2v1.2h-1.2zM519.85 347.21h1.2v1.2h-1.2zM512.88 341.12h1.2v1.2h-1.2zM511.11 341.79h1.2v1.2h-1.2zM495.29 350.14h1.2v1.2h-1.2zM488.81 331.86h1.2v1.2h-1.2zM507.33 339.47h1.2v1.2h-1.2zM484.6 333.11h1.2v1.2h-1.2zM484.76 331.04h1.2v1.2h-1.2zM515.35 348.77h1.2v1.2h-1.2zM515.6 349.2h1.2v1.2h-1.2zM496.56 331.68h1.2v1.2h-1.2zM509.31 346.6h1.2v1.2h-1.2zM507.51 349.15h1.2v1.2h-1.2zM500.44 332.46h1.2v1.2h-1.2zM487.49 350.31h1.2v1.2h-1.2zM484.16 334.26h1.2v1.2h-1.2zM505.71 337h1.2v1.2h-1.2zM501.04 333.36h1.2v1.2h-1.2zM517.09 342.71h1.2v1.2h-1.2zM514.46 349.16h1.2v1.2h-1.2zM489.89 332.5h1.2v1.2h-1.2zM510.37 340.42h1.2v1.2h-1.2zM514.78 342.12h1.2v1.2h-1.2zM486.37 337.12h1.2v1.2h-1.2zM506.49 348.29h1.2v1.2h-1.2zM510.59 341.27h1.2v1.2h-1.2zM492.26 331.09h1.2v1.2h-1.2zM488.41 337.46h1.2v1.2h-1.2zM491.91 328.1h1.2v1.2h-1.2zM490.4 350.38h1.2v1.2h-1.2zM499.37 332.53h1.2v1.2h-1.2zM518.43 348.82h1.2v1.2h-1.2zM487.77 330.43h1.2v1.2h-1.2zM493.52 329.33h1.2v1.2h-1.2zM507.79 346.7h1.2v1.2h-1.2zM513.03 343.58h1.2v1.2h-1.2zM512.09 341.74h1.2v1.2h-1.2zM489.27 330.6h1.2v1.2h-1.2zM487.29 338.38h1.2v1.2h-1.2zM522.7 347.53h1.2v1.2h-1.2zM490.59 331.4h1.2v1.2h-1.2zM514.76 349.73h1.2v1.2h-1.2zM508.21 340.36h1.2v1.2h-1.2zM487.07 347.49h1.2v1.2h-1.2zM506.13 339.53h1.2v1.2h-1.2zM488.89 341.66h1.2v1.2h-1.2zM487.03 331.03h1.2v1.2h-1.2zM501.15 334.17h1.2v1.2h-1.2zM505.05 348.21h1.2v1.2h-1.2zM507.93 347.47h1.2v1.2h-1.2zM501.13 348.36h1.2v1.2h-1.2zM487.76 346.94h1.2v1.2h-1.2zM507.08 346.11h1.2v1.2h-1.2zM513.01 348.84h1.2v1.2h-1.2zM492.51 330.33h1.2v1.2h-1.2zM493.34 327.55h1.2v1.2h-1.2zM498.43 330.82h1.2v1.2h-1.2zM483.47 334.35h1.2v1.2h-1.2zM508.9 341.02h1.2v1.2h-1.2zM483.89 333.25h1.2v1.2h-1.2zM506.68 333.65h1.2v1.2h-1.2zM518.51 347.65h1.2v1.2h-1.2zM494.51 350.87h1.2v1.2h-1.2zM495.07 352.37h1.2v1.2h-1.2zM519.46 346.45h1.2v1.2h-1.2zM503.79 336h1.2v1.2h-1.2zM510.08 346.21h1.2v1.2h-1.2zM499.76 348.04h1.2v1.2h-1.2zM487.35 338.9h1.2v1.2h-1.2zM510.48 347.38h1.2v1.2h-1.2zM507.77 341.65h1.2v1.2h-1.2zM507.95 339.06h1.2v1.2h-1.2zM484.44 335.45h1.2v1.2h-1.2zM515.44 342.92h1.2v1.2h-1.2zM492.37 326.96h1.2v1.2h-1.2zM490.51 328.39h1.2v1.2h-1.2zM505.68 347.01h1.2v1.2h-1.2zM484.75 334.11h1.2v1.2h-1.2zM488.24 347.74h1.2v1.2h-1.2zM484.61 334.53h1.2v1.2h-1.2z" fill="#d4f4cf"/>
<polygon points="496.92,322.85 500.46,320.64 507.97,321.2 514.51,322.85 515.48,328.37 513.33,333.12 504.75,333.34 499.06,333.12 496.92,329.48" fill="#d4f4cf"/>
<path d="M509.28 318.29h1.2v1.2h-1.2zM505.4 320.95h1.2v1.2h-1.2zM500.68 331.35h1.2v1.2h-1.2zM498.9 328.18h1.2v1.2h-1.2zM509.77 320.24h1.2v1.2h-1.2zM510.5 324.09h1.2v1.2h-1.2zM499.63 332.47h1.2v1.2h-1.2zM507.79 329.61h1.2v1.2h-1.2zM502.55 333.23h1.2v1.2h-1.2zM504.93 322h1.2v1.2h-1.2zM513.2 322.41h1.2v1.2h-1.2zM505.04 332.15h1.2v1.2h-1.2zM514.4 331.15h1.2v1.2h-1.2zM512.91 332.1h1.2v1.2h-1.2zM496.82 327.26h1.2v1.2h-1.2zM511.12 322.45h1.2v1.2h-1.2zM500.61 321.35h1.2v1.2h-1.2zM496.77 325.51h1.2v1.2h-1.2zM514.87 327.08h1.2v1.2h-1.2zM506.93 332.95h1.2v1.2h-1.2zM510.09 332.06h1.2v1.2h-1.2zM500.11 321.25h1.2v1.2h-1.2zM513.68 322.55h1.2v1.2h-1.2zM508.57 332.17h1.2v1.2h-1.2zM497.46 327.93h1.2v1.2h-1.2zM515.04 322.14h1.2v1.2h-1.2zM511.18 331.07h1.2v1.2h-1.2zM502.64 320.48h1.2v1.2h-1.2zM511.83 334.41h1.2v1.2h-1.2zM516.51 323.1h1.2v1.2h-1.2zM502.34 321.7h1.2v1.2h-1.2zM499.2 318.7h1.2v1.2h-1.2zM501.58 319.77h1.2v1.2h-1.2zM513.71 332.68h1.2v1.2h-1.2zM513.07 327.63h1.2v1.2h-1.2zM495.76 327.26h1.2v1.2h-1.2zM506.87 319.41h1.2v1.2h-1.2zM507.54 321.76h1.2v1.2h-1.2zM495.54 331.8h1.2v1.2h-1.2zM513.46 328.72h1.2v1.2h-1.2zM514.48 325.41h1.2v1.2h-1.2zM514.62 329.31h1.2v1.2h-1.2zM514.2 323.71h1.2v1.2h-1.2zM498.25 322.04h1.2v1.2h-1.2zM506.35 318.86h1.2v1.2h-1.2zM496.83 329.05h1.2v1.2h-1.2zM510.18 321.75h1.2v1.2h-1.2zM497.74 330.87h1.2v1.2h-1.2zM496.93 322.57h1.2v1.2h-1.2zM496.24 322.58h1.2v1.2h-1.2zM496.76 330.22h1.2v1.2h-1.2zM505.45 319.95h1.2v1.2h-1.2zM515.01 328.46h1.2v1.2h-1.2zM495.89 320.62h1.2v1.2h-1.2zM517.07 322.52h1.2v1.2h-1.2zM507.54 333.03h1.2v1.2h-1.2zM510.04 332.73h1.2v1.2h-1.2zM496.68 321.52h1.2v1.2h-1.2zM496.07 322.88h1.2v1.2h-1.2zM508.92 320h1.2v1.2h-1.2zM501.71 332.43h1.2v1.2h-1.2zM495.72 327.75h1.2v1.2h-1.2zM511.22 332.63h1.2v1.2h-1.2zM496.92 325.71h1.2v1.2h-1.2zM497.59 331.2h1.2v1.2h-1.2zM513.94 322.33h1.2v1.2h-1.2zM498.55 321.75h1.2v1.2h-1.2zM514.92 329.93h1.2v1.2h-1.2zM499.98 333.1h1.2v1.2h-1.2zM514.18 326.59h1.2v1.2h-1.2zM512.42 323.45h1.2v1.2h-1.2zM515.44 325.74h1.2v1.2h-1.2zM503.63 333.92h1.2v1.2h-1.2zM513.37 334.5h1.2v1.2h-1.2zM497.99 330.54h1.2v1.2h-1.2zM495.03 326.22h1.2v1.2h-1.2zM501.87 332.2h1.2v1.2h-1.2zM513.22 319.92h1.2v1.2h-1.2zM497.71 325.93h1.2v1.2h-1.2zM503.77 332.97h1.2v1.2h-1.2zM496.68 326.26h1.2v1.2h-1.2z" fill="#d4f4cf"/>
<polygon points="505.72,326.27 510.12,325.94 513.76,327.27 513.76,336.1 512.26,339.85 507.97,339.41 506.36,333.89" fill="#d4f4cf"/>
<path d="M511.16 332.05h1.2v1.2h-1.2zM508.36 323.53h1.2v1.2h-1.2zM514.45 335.76h1.2v1.2h-1.2zM505.91 331.39h1.2v1.2h-1.2zM511.19 329.64h1.2v1.2h-1.2zM507.1 324.74h1.2v1.2h-1.2zM505 324.66h1.2v1.2h-1.2zM507.43 326.19h1.2v1.2h-1.2zM510.05 324.69h1.2v1.2h-1.2zM514.44 328.45h1.2v1.2h-1.2zM514.75 330.82h1.2v1.2h-1.2zM513.37 335.35h1.2v1.2h-1.2zM505.99 336.78h1.2v1.2h-1.2zM510.06 339.24h1.2v1.2h-1.2zM507.47 327.66h1.2v1.2h-1.2zM512.55 331.65h1.2v1.2h-1.2zM513.2 329.23h1.2v1.2h-1.2zM511.03 338.13h1.2v1.2h-1.2zM505.58 337.48h1.2v1.2h-1.2zM508.39 326.8h1.2v1.2h-1.2zM508.84 339.07h1.2v1.2h-1.2zM512.37 338.31h1.2v1.2h-1.2zM512.23 325.95h1.2v1.2h-1.2zM510.48 326.15h1.2v1.2h-1.2zM505.72 328.69h1.2v1.2h-1.2zM506.07 329.79h1.2v1.2h-1.2zM515.95 332.63h1.2v1.2h-1.2zM507.3 338.07h1.2v1.2h-1.2zM508.16 326.19h1.2v1.2h-1.2zM507.45 337.5h1.2v1.2h-1.2zM506.21 329.15h1.2v1.2h-1.2zM507.13 327.35h1.2v1.2h-1.2zM513.02 335.7h1.2v1.2h-1.2zM513.46 331.1h1.2v1.2h-1.2zM505.18 335.07h1.2v1.2h-1.2zM504.05 328.29h1.2v1.2h-1.2zM512.36 337.46h1.2v1.2h-1.2zM509.52 337.76h1.2v1.2h-1.2zM507.97 339.57h1.2v1.2h-1.2zM513.42 331.43h1.2v1.2h-1.2zM509.49 326.39h1.2v1.2h-1.2zM505.49 324.3h1.2v1.2h-1.2zM506.84 337.08h1.2v1.2h-1.2zM505.48 325.59h1.2v1.2h-1.2zM510.3 326.11h1.2v1.2h-1.2zM512.77 337.19h1.2v1.2h-1.2zM512.98 324.33h1.2v1.2h-1.2zM505.92 329.67h1.2v1.2h-1.2zM506.18 330.48h1.2v1.2h-1.2zM510.35 338.23h1.2v1.2h-1.2zM504.84 333.56h1.2v1.2h-1.2zM507.86 326.25h1.2v1.2h-1.2zM506.65 333.07h1.2v1.2h-1.2zM510.73 333.51h1.2v1.2h-1.2zM511.93 339.36h1.2v1.2h-1.2zM505.2 329.37h1.2v1.2h-1.2zM505.37 327.39h1.2v1.2h-1.2zM506.99 337.09h1.2v1.2h-1.2zM503.24 329.12h1.2v1.2h-1.2zM505.16 326.57h1.2v1.2h-1.2zM512.01 324.88h1.2v1.2h-1.2zM508.19 338.53h1.2v1.2h-1.2zM511.46 330.66h1.2v1.2h-1.2z" fill="#d4f4cf"/>
<polygon points="535.87,326.16 540.16,322.85 547.67,320.64 558.4,318.99 571.71,316.89 576.43,315.01 581.15,313.03 584.9,316.89 587.69,322.74 589.09,331.46 587.69,339.19 584.9,346.92 580.18,353.65 573.64,358.51 565.16,360.5 557.65,358.51 551,355.64 543.49,352.77 536.94,349.79 534.15,346.92 536.94,344.05 540.7,340.18 545.42,339.19 550.14,337.87 554.11,337.42 544.45,336.54 538.01,333.89 535.87,329.48" fill="#d4f4cf"/>
<path d="M537.46 347.74h1.2v1.2h-1.2zM571.8 355.93h1.2v1.2h-1.2zM572.68 355.29h1.2v1.2h-1.2zM546.49 338.42h1.2v1.2h-1.2zM540.42 350.19h1.2v1.2h-1.2zM549.86 336.51h1.2v1.2h-1.2zM562.26 316.12h1.2v1.2h-1.2zM564.78 316.93h1.2v1.2h-1.2zM547.18 337.88h1.2v1.2h-1.2zM538.69 350.57h1.2v1.2h-1.2zM583.09 347.47h1.2v1.2h-1.2zM547.93 339.82h1.2v1.2h-1.2zM540.88 321.76h1.2v1.2h-1.2zM538.24 349.27h1.2v1.2h-1.2zM560.35 359.11h1.2v1.2h-1.2zM545.54 337.88h1.2v1.2h-1.2zM541.37 322.6h1.2v1.2h-1.2zM543.72 338.91h1.2v1.2h-1.2zM586.04 336.36h1.2v1.2h-1.2zM551.45 339.06h1.2v1.2h-1.2zM588.66 329.11h1.2v1.2h-1.2zM546.02 320.26h1.2v1.2h-1.2zM580.39 348.84h1.2v1.2h-1.2zM584.58 339.2h1.2v1.2h-1.2zM544.94 353.49h1.2v1.2h-1.2zM584.47 314.95h1.2v1.2h-1.2zM553.59 336.26h1.2v1.2h-1.2zM588.04 331.68h1.2v1.2h-1.2zM536.68 333.66h1.2v1.2h-1.2zM543.52 352.05h1.2v1.2h-1.2zM563.3 360.62h1.2v1.2h-1.2zM537.19 344.02h1.2v1.2h-1.2zM582.62 312.86h1.2v1.2h-1.2zM585.16 347.51h1.2v1.2h-1.2zM550.75 337.05h1.2v1.2h-1.2zM589 334.36h1.2v1.2h-1.2zM579.8 348.56h1.2v1.2h-1.2zM571.88 358.93h1.2v1.2h-1.2zM543.7 352.82h1.2v1.2h-1.2zM576.29 355.37h1.2v1.2h-1.2zM561.72 359.23h1.2v1.2h-1.2zM579.3 311.8h1.2v1.2h-1.2zM536.97 344.31h1.2v1.2h-1.2zM555.28 357.37h1.2v1.2h-1.2zM536.5 350.09h1.2v1.2h-1.2zM561.79 361.64h1.2v1.2h-1.2zM569.24 358.82h1.2v1.2h-1.2zM580.87 351.68h1.2v1.2h-1.2zM548.19 353.55h1.2v1.2h-1.2zM582.81 347.99h1.2v1.2h-1.2zM567.22 361.92h1.2v1.2h-1.2zM577.45 314.97h1.2v1.2h-1.2zM547.23 334.36h1.2v1.2h-1.2zM556.13 357.86h1.2v1.2h-1.2zM562.95 318.05h1.2v1.2h-1.2zM569.66 358.94h1.2v1.2h-1.2zM568.48 358.05h1.2v1.2h-1.2zM546.93 335.53h1.2v1.2h-1.2zM547.07 335.25h1.2v1.2h-1.2zM532.59 347.86h1.2v1.2h-1.2zM574.28 353.64h1.2v1.2h-1.2zM548.53 336.62h1.2v1.2h-1.2zM538.47 349.81h1.2v1.2h-1.2zM575.03 357.92h1.2v1.2h-1.2zM565.17 318.07h1.2v1.2h-1.2zM582.3 315.63h1.2v1.2h-1.2zM550.56 354h1.2v1.2h-1.2zM585.78 338.11h1.2v1.2h-1.2zM572.84 312.89h1.2v1.2h-1.2zM553.93 337.72h1.2v1.2h-1.2zM576.96 315.64h1.2v1.2h-1.2zM588.86 330.32h1.2v1.2h-1.2zM569.43 358.1h1.2v1.2h-1.2zM556.37 355.57h1.2v1.2h-1.2zM540.93 349.79h1.2v1.2h-1.2zM552.4 356.07h1.2v1.2h-1.2zM582.48 347.6h1.2v1.2h-1.2zM536.94 334.37h1.2v1.2h-1.2zM581.74 350.8h1.2v1.2h-1.2zM579.92 311.69h1.2v1.2h-1.2zM589.84 330.17h1.2v1.2h-1.2zM583.22 346.32h1.2v1.2h-1.2zM542.74 336.05h1.2v1.2h-1.2zM545.38 320.03h1.2v1.2h-1.2zM536.55 334.67h1.2v1.2h-1.2zM540.06 325.74h1.2v1.2h-1.2zM588.94 333.49h1.2v1.2h-1.2zM587.15 331.73h1.2v1.2h-1.2zM585.18 321.09h1.2v1.2h-1.2zM566.89 316.53h1.2v1.2h-1.2zM563.86 358.4h1.2v1.2h-1.2zM574.45 314.97h1.2v1.2h-1.2zM585.35 321.32h1.2v1.2h-1.2zM574.16 314.54h1.2v1.2h-1.2zM568.37 358.49h1.2v1.2h-1.2zM585.85 345.92h1.2v1.2h-1.2zM537.84 346.7h1.2v1.2h-1.2zM553.65 319.23h1.2v1.2h-1.2zM589.2 333.62h1.2v1.2h-1.2zM554.41 337.34h1.2v1.2h-1.2zM542.68 350.54h1.2v1.2h-1.2zM551.34 335.82h1.2v1.2h-1.2zM539.28 350.73h1.2v1.2h-1.2zM549.38 334.19h1.2v1.2h-1.2zM577.87 313.24h1.2v1.2h-1.2zM576.38 356.46h1.2v1.2h-1.2zM586.4 335.42h1.2v1.2h-1.2zM534.3 344.19h1.2v1.2h-1.2zM571.37 317.29h1.2v1.2h-1.2zM583.27 343.57h1.2v1.2h-1.2zM535.27 330.03h1.2v1.2h-1.2zM575.65 357.29h1.2v1.2h-1.2zM539.97 320.85h1.2v1.2h-1.2zM588.62 335.73h1.2v1.2h-1.2zM538.58 324.1h1.2v1.2h-1.2zM535.05 346.81h1.2v1.2h-1.2zM551.53 337.35h1.2v1.2h-1.2zM562.34 359.41h1.2v1.2h-1.2zM588.19 320.59h1.2v1.2h-1.2zM542.45 351.91h1.2v1.2h-1.2zM566.01 359.53h1.2v1.2h-1.2zM587.33 326.55h1.2v1.2h-1.2zM536.12 342.77h1.2v1.2h-1.2zM540.86 350.8h1.2v1.2h-1.2zM536.19 321.85h1.2v1.2h-1.2zM567.05 358.99h1.2v1.2h-1.2zM566.58 358.89h1.2v1.2h-1.2zM531.62 347.33h1.2v1.2h-1.2zM535.18 343.55h1.2v1.2h-1.2zM587.8 319.9h1.2v1.2h-1.2zM546.17 319.83h1.2v1.2h-1.2zM558.77 361.08h1.2v1.2h-1.2zM579.91 352.3h1.2v1.2h-1.2zM548.82 336.09h1.2v1.2h-1.2zM586.05 344.85h1.2v1.2h-1.2zM570.31 359.37h1.2v1.2h-1.2zM582.29 315.44h1.2v1.2h-1.2zM548.32 320.04h1.2v1.2h-1.2zM549.83 355.5h1.2v1.2h-1.2zM587.05 324.63h1.2v1.2h-1.2zM585.23 317.56h1.2v1.2h-1.2zM544.28 336.05h1.2v1.2h-1.2zM550.86 335.74h1.2v1.2h-1.2zM550.57 356.62h1.2v1.2h-1.2zM582.14 315.33h1.2v1.2h-1.2zM548.91 339h1.2v1.2h-1.2zM566.07 358.78h1.2v1.2h-1.2zM553.49 336.38h1.2v1.2h-1.2zM588.05 339.84h1.2v1.2h-1.2zM572.15 356.56h1.2v1.2h-1.2zM573.49 356.41h1.2v1.2h-1.2zM589.65 334.96h1.2v1.2h-1.2zM544.59 335.35h1.2v1.2h-1.2zM535.18 346.14h1.2v1.2h-1.2zM545.64 337.46h1.2v1.2h-1.2zM540.39 340.45h1.2v1.2h-1.2zM535.77 348.53h1.2v1.2h-1.2zM572.95 360.36h1.2v1.2h-1.2zM572.1 358.51h1.2v1.2h-1.2zM538.89 322.94h1.2v1.2h-1.2zM540.98 350.08h1.2v1.2h-1.2zM581.16 312.59h1.2v1.2h-1.2zM567.31 360.02h1.2v1.2h-1.2zM536.88 349.73h1.2v1.2h-1.2zM541.38 335.54h1.2v1.2h-1.2zM548.95 356.69h1.2v1.2h-1.2zM589.26 330.41h1.2v1.2h-1.2zM566.29 316.47h1.2v1.2h-1.2zM558.06 317.91h1.2v1.2h-1.2zM559.63 358.96h1.2v1.2h-1.2zM535.24 328.76h1.2v1.2h-1.2zM546.6 354.36h1.2v1.2h-1.2zM576.17 316.71h1.2v1.2h-1.2zM558.27 356.26h1.2v1.2h-1.2zM585.87 339.01h1.2v1.2h-1.2zM547.44 355.52h1.2v1.2h-1.2zM585.04 318.93h1.2v1.2h-1.2zM541.58 321.89h1.2v1.2h-1.2zM583.54 345.25h1.2v1.2h-1.2zM542.72 321.43h1.2v1.2h-1.2zM545.48 338.96h1.2v1.2h-1.2zM556.99 358.1h1.2v1.2h-1.2zM557.77 316.52h1.2v1.2h-1.2zM535.23 328.92h1.2v1.2h-1.2zM587.09 327.97h1.2v1.2h-1.2zM586.92 340.74h1.2v1.2h-1.2zM586.4 342.81h1.2v1.2h-1.2zM541.78 338.77h1.2v1.2h-1.2zM537.15 348.89h1.2v1.2h-1.2zM537.19 327.25h1.2v1.2h-1.2zM537.37 348.48h1.2v1.2h-1.2zM535.33 346.91h1.2v1.2h-1.2zM551.02 338.01h1.2v1.2h-1.2zM540.06 351.78h1.2v1.2h-1.2zM580.27 354.33h1.2v1.2h-1.2zM534.71 346.98h1.2v1.2h-1.2zM549.21 338.22h1.2v1.2h-1.2zM587.11 331.11h1.2v1.2h-1.2zM563.79 360.42h1.2v1.2h-1.2zM588.49 340.35h1.2v1.2h-1.2zM537.64 348.31h1.2v1.2h-1.2zM545.6 336.64h1.2v1.2h-1.2zM549.93 337.74h1.2v1.2h-1.2zM588.17 338.76h1.2v1.2h-1.2zM577.28 314.86h1.2v1.2h-1.2zM566.43 359.43h1.2v1.2h-1.2zM544.27 322.22h1.2v1.2h-1.2zM585.44 318.8h1.2v1.2h-1.2zM541.64 333.79h1.2v1.2h-1.2zM585.98 327.38h1.2v1.2h-1.2zM548.47 335.45h1.2v1.2h-1.2zM546.96 354.87h1.2v1.2h-1.2zM565.42 316.04h1.2v1.2h-1.2zM540.6 321.02h1.2v1.2h-1.2zM550.92 338.15h1.2v1.2h-1.2zM585.42 346.07h1.2v1.2h-1.2zM587.19 319.62h1.2v1.2h-1.2zM541.77 335.64h1.2v1.2h-1.2zM587.58 334.74h1.2v1.2h-1.2zM535.42 345.95h1.2v1.2h-1.2zM558.67 319.12h1.2v1.2h-1.2zM583.54 349.22h1.2v1.2h-1.2zM585.86 344.45h1.2v1.2h-1.2zM568.1 314.98h1.2v1.2h-1.2zM535.27 349.48h1.2v1.2h-1.2zM589.57 325.52h1.2v1.2h-1.2zM538.03 338.81h1.2v1.2h-1.2zM582.18 350.68h1.2v1.2h-1.2zM538.04 335.12h1.2v1.2h-1.2zM564.21 358.75h1.2v1.2h-1.2zM550.01 339.08h1.2v1.2h-1.2zM572.31 358.31h1.2v1.2h-1.2zM547.99 336.01h1.2v1.2h-1.2zM565.3 360.39h1.2v1.2h-1.2zM588.6 326.05h1.2v1.2h-1.2zM587.78 332.9h1.2v1.2h-1.2zM560.3 317.76h1.2v1.2h-1.2zM576.34 314.11h1.2v1.2h-1.2zM579.92 355.24h1.2v1.2h-1.2zM539.74 332.88h1.2v1.2h-1.2zM541.8 338.59h1.2v1.2h-1.2zM542.61 352.55h1.2v1.2h-1.2zM583.63 346.65h1.2v1.2h-1.2zM541.87 321.29h1.2v1.2h-1.2zM574.35 358.18h1.2v1.2h-1.2zM575.69 312.62h1.2v1.2h-1.2zM550.44 336.57h1.2v1.2h-1.2zM541.88 322.05h1.2v1.2h-1.2zM566.89 317.59h1.2v1.2h-1.2zM548.93 338.31h1.2v1.2h-1.2zM538.84 342.78h1.2v1.2h-1.2zM539.23 321.82h1.2v1.2h-1.2z" fill="#d4f4cf"/>
<polygon points="513.76,315.79 516.66,313.8 520.85,314.68 526.21,316.45 531.58,318.44 540.7,319.76 548.21,321.09 548.21,321.97 540.7,321.53 531.58,320.86 524.06,320.53 517.41,320.42 514.41,318.99" fill="#d4f4cf"/>
<path d="M541.85 322.69h1.2v1.2h-1.2zM545.5 321.37h1.2v1.2h-1.2zM534.21 318.2h1.2v1.2h-1.2zM514.41 316.36h1.2v1.2h-1.2zM525.42 320.76h1.2v1.2h-1.2zM521.75 320.01h1.2v1.2h-1.2zM529.84 320.91h1.2v1.2h-1.2zM517.04 321.65h1.2v1.2h-1.2zM531.96 316.79h1.2v1.2h-1.2zM541.98 319.32h1.2v1.2h-1.2zM527.14 315.9h1.2v1.2h-1.2zM530.2 316.82h1.2v1.2h-1.2zM543.62 320.63h1.2v1.2h-1.2zM523.14 318.31h1.2v1.2h-1.2zM544.43 319.98h1.2v1.2h-1.2zM532.64 318.93h1.2v1.2h-1.2zM524.03 315.84h1.2v1.2h-1.2zM528.98 319.38h1.2v1.2h-1.2zM534.92 319.95h1.2v1.2h-1.2zM542.64 321.57h1.2v1.2h-1.2zM537.65 322.54h1.2v1.2h-1.2zM525.62 316h1.2v1.2h-1.2zM520.67 319.84h1.2v1.2h-1.2zM537.64 318.26h1.2v1.2h-1.2zM524.22 319.97h1.2v1.2h-1.2zM543.12 324.35h1.2v1.2h-1.2zM545.27 322.64h1.2v1.2h-1.2zM513.97 311.9h1.2v1.2h-1.2zM537.5 320.77h1.2v1.2h-1.2zM523.44 319.13h1.2v1.2h-1.2zM515.97 318.78h1.2v1.2h-1.2zM519.87 319.95h1.2v1.2h-1.2zM527.93 317.97h1.2v1.2h-1.2zM516.78 313.07h1.2v1.2h-1.2zM532.29 322.65h1.2v1.2h-1.2zM540.86 321.14h1.2v1.2h-1.2zM542.05 321.31h1.2v1.2h-1.2zM524.25 319.03h1.2v1.2h-1.2zM511.45 316.5h1.2v1.2h-1.2zM523.35 316.78h1.2v1.2h-1.2zM534.65 317.76h1.2v1.2h-1.2zM536.42 319.73h1.2v1.2h-1.2zM528.04 319.06h1.2v1.2h-1.2zM541.98 320.31h1.2v1.2h-1.2zM516.59 314.6h1.2v1.2h-1.2zM537.79 319.96h1.2v1.2h-1.2zM524.08 315.9h1.2v1.2h-1.2zM529.28 317.98h1.2v1.2h-1.2zM520.92 315.32h1.2v1.2h-1.2zM546.55 322.86h1.2v1.2h-1.2zM545.4 320.38h1.2v1.2h-1.2zM539.11 321.55h1.2v1.2h-1.2zM531.9 318.46h1.2v1.2h-1.2zM532.67 319.62h1.2v1.2h-1.2zM530.6 317.07h1.2v1.2h-1.2zM532.82 323.29h1.2v1.2h-1.2zM530.59 320.25h1.2v1.2h-1.2zM544.89 319.99h1.2v1.2h-1.2zM527.11 320.6h1.2v1.2h-1.2zM537.83 318.58h1.2v1.2h-1.2zM542.25 319.53h1.2v1.2h-1.2zM543.6 321.53h1.2v1.2h-1.2zM537 318.5h1.2v1.2h-1.2zM533.55 319.18h1.2v1.2h-1.2zM523.57 317.12h1.2v1.2h-1.2zM537.99 319.19h1.2v1.2h-1.2zM525.78 320.97h1.2v1.2h-1.2zM523.05 319.61h1.2v1.2h-1.2zM518.71 311.78h1.2v1.2h-1.2zM513.71 316.69h1.2v1.2h-1.2zM548.47 323.52h1.2v1.2h-1.2zM528.58 318.36h1.2v1.2h-1.2zM513.3 315.93h1.2v1.2h-1.2zM514.81 316.08h1.2v1.2h-1.2zM515.09 319.43h1.2v1.2h-1.2zM536.88 320.99h1.2v1.2h-1.2zM533.6 319.96h1.2v1.2h-1.2zM543.85 320.87h1.2v1.2h-1.2zM539.58 322.62h1.2v1.2h-1.2zM526.04 318.68h1.2v1.2h-1.2zM514.41 315.26h1.2v1.2h-1.2zM543.76 319.36h1.2v1.2h-1.2zM518.83 313.9h1.2v1.2h-1.2zM512.52 316.04h1.2v1.2h-1.2zM514.94 315.35h1.2v1.2h-1.2zM537.39 321.29h1.2v1.2h-1.2zM513.95 315.13h1.2v1.2h-1.2zM533.43 321.55h1.2v1.2h-1.2zM546.48 323.3h1.2v1.2h-1.2zM528.98 314.9h1.2v1.2h-1.2zM538.32 321.04h1.2v1.2h-1.2zM525.53 319.76h1.2v1.2h-1.2zM535.14 318.11h1.2v1.2h-1.2zM522.59 315.23h1.2v1.2h-1.2zM531.9 321.88h1.2v1.2h-1.2zM523.88 314.74h1.2v1.2h-1.2zM541.79 318.29h1.2v1.2h-1.2zM526.44 315.75h1.2v1.2h-1.2zM525.19 315.29h1.2v1.2h-1.2zM522.74 319.36h1.2v1.2h-1.2zM530.11 317.65h1.2v1.2h-1.2zM545.97 323.14h1.2v1.2h-1.2zM532.62 317.34h1.2v1.2h-1.2zM542.96 317.73h1.2v1.2h-1.2zM523.95 312.89h1.2v1.2h-1.2zM539.82 318.77h1.2v1.2h-1.2zM530.18 321.03h1.2v1.2h-1.2zM524.61 314.99h1.2v1.2h-1.2zM528.05 320.61h1.2v1.2h-1.2zM525.67 313.72h1.2v1.2h-1.2zM538.87 319.37h1.2v1.2h-1.2zM529.62 316.25h1.2v1.2h-1.2zM516.14 314.26h1.2v1.2h-1.2zM543.26 319.34h1.2v1.2h-1.2zM524.42 322.31h1.2v1.2h-1.2zM545.07 320.28h1.2v1.2h-1.2zM530.04 318.26h1.2v1.2h-1.2z" fill="#d4f4cf"/>
<polygon points="500.57,319.32 507.97,320.2 516.66,322.41 516.66,324.07 507.97,322.41 500.57,321.31" fill="#d4f4cf"/>
<path d="M514.32 324.1h1.2v1.2h-1.2zM506.3 320.32h1.2v1.2h-1.2zM514.98 321.88h1.2v1.2h-1.2zM502.03 319.49h1.2v1.2h-1.2zM501.2 320.27h1.2v1.2h-1.2zM515.63 320.41h1.2v1.2h-1.2zM509.65 322.49h1.2v1.2h-1.2zM508.57 320.37h1.2v1.2h-1.2zM504.14 319.49h1.2v1.2h-1.2zM500.11 316.46h1.2v1.2h-1.2zM513.13 324.39h1.2v1.2h-1.2zM515.62 325.55h1.2v1.2h-1.2zM509.27 320.46h1.2v1.2h-1.2zM509.85 319.28h1.2v1.2h-1.2zM506.85 321.95h1.2v1.2h-1.2zM511.61 320.88h1.2v1.2h-1.2zM516.56 323.53h1.2v1.2h-1.2zM502.69 319.42h1.2v1.2h-1.2zM502.99 319.05h1.2v1.2h-1.2zM515.16 324.01h1.2v1.2h-1.2zM503.95 319.53h1.2v1.2h-1.2zM504.69 318.65h1.2v1.2h-1.2zM507.61 317.91h1.2v1.2h-1.2zM512.35 323.9h1.2v1.2h-1.2zM518.6 321.65h1.2v1.2h-1.2zM511.85 320.74h1.2v1.2h-1.2zM502.32 319.97h1.2v1.2h-1.2zM512.36 322.69h1.2v1.2h-1.2zM509.01 321.31h1.2v1.2h-1.2zM511.17 322.33h1.2v1.2h-1.2zM508.77 319.92h1.2v1.2h-1.2zM510.86 318.36h1.2v1.2h-1.2zM511.98 321.9h1.2v1.2h-1.2zM507.03 321h1.2v1.2h-1.2zM500.27 323.28h1.2v1.2h-1.2zM504.41 321.41h1.2v1.2h-1.2zM497.92 318.8h1.2v1.2h-1.2zM502.96 321.36h1.2v1.2h-1.2zM503.92 320.62h1.2v1.2h-1.2zM513 322.56h1.2v1.2h-1.2zM513.76 322.43h1.2v1.2h-1.2zM513.4 322.3h1.2v1.2h-1.2zM501.48 320.82h1.2v1.2h-1.2zM508.4 320.45h1.2v1.2h-1.2zM508.07 320.99h1.2v1.2h-1.2zM509.96 322.17h1.2v1.2h-1.2zM500.37 321.77h1.2v1.2h-1.2zM515.21 321.67h1.2v1.2h-1.2zM514.13 323.98h1.2v1.2h-1.2zM503.53 321.64h1.2v1.2h-1.2zM510.26 319.65h1.2v1.2h-1.2zM501.44 321.12h1.2v1.2h-1.2zM501.53 319.46h1.2v1.2h-1.2zM505.13 320h1.2v1.2h-1.2z" fill="#d4f4cf"/>
<polygon points="498.74,300.99 501.32,297.24 505.72,295.47 510.12,296.47 515.27,298.78 518.91,300.22 517.41,301.43 513.01,301.43 510.12,300.22 506.47,300.22 503.46,301.43 502.07,305.52 500.14,304.42" fill="#d4f4cf"/>
<path d="M502.94 300.14h1.2v1.2h-1.2zM514.67 299.21h1.2v1.2h-1.2zM499.58 297.38h1.2v1.2h-1.2zM519 299.58h1.2v1.2h-1.2zM510.11 295.94h1.2v1.2h-1.2zM509.75 297.34h1.2v1.2h-1.2zM501.85 304.48h1.2v1.2h-1.2zM515.35 300.23h1.2v1.2h-1.2zM510.74 299.91h1.2v1.2h-1.2zM509.3 301.1h1.2v1.2h-1.2zM496.84 300.53h1.2v1.2h-1.2zM513.93 304.38h1.2v1.2h-1.2zM515.46 298.18h1.2v1.2h-1.2zM516.16 299.87h1.2v1.2h-1.2zM501.55 296.83h1.2v1.2h-1.2zM508.48 295.6h1.2v1.2h-1.2zM515.12 296.93h1.2v1.2h-1.2zM499.91 302.07h1.2v1.2h-1.2zM503.13 292.05h1.2v1.2h-1.2zM503.54 301.85h1.2v1.2h-1.2zM496.94 298.13h1.2v1.2h-1.2zM507.39 298.32h1.2v1.2h-1.2zM503.97 298.99h1.2v1.2h-1.2zM502.12 295.73h1.2v1.2h-1.2zM497.68 296.5h1.2v1.2h-1.2zM500.45 294.82h1.2v1.2h-1.2zM502.8 304.38h1.2v1.2h-1.2zM511.08 301.01h1.2v1.2h-1.2zM511.03 302.57h1.2v1.2h-1.2zM513.56 301.42h1.2v1.2h-1.2zM508.15 297.71h1.2v1.2h-1.2zM507.04 299.65h1.2v1.2h-1.2zM503.34 296.8h1.2v1.2h-1.2zM498.39 297.52h1.2v1.2h-1.2zM517.79 298.29h1.2v1.2h-1.2zM517.63 300.77h1.2v1.2h-1.2zM513.78 301.32h1.2v1.2h-1.2zM509.7 292.81h1.2v1.2h-1.2zM506.84 298.43h1.2v1.2h-1.2zM514.45 296.46h1.2v1.2h-1.2zM509.54 303.06h1.2v1.2h-1.2zM504.14 304.73h1.2v1.2h-1.2zM510.15 301.19h1.2v1.2h-1.2zM510.85 295.17h1.2v1.2h-1.2zM501.41 296.12h1.2v1.2h-1.2zM504.4 294.47h1.2v1.2h-1.2zM511.42 300.87h1.2v1.2h-1.2zM498.87 302.13h1.2v1.2h-1.2zM499.39 302.71h1.2v1.2h-1.2zM504.54 301.28h1.2v1.2h-1.2zM505.59 292.38h1.2v1.2h-1.2zM511.89 297.96h1.2v1.2h-1.2zM515.24 301.19h1.2v1.2h-1.2zM498.96 301.6h1.2v1.2h-1.2zM502.76 303.54h1.2v1.2h-1.2zM515.83 302.03h1.2v1.2h-1.2zM498.64 298.92h1.2v1.2h-1.2zM511.58 297.25h1.2v1.2h-1.2zM506.38 295.12h1.2v1.2h-1.2zM512.47 303.05h1.2v1.2h-1.2zM504.84 297.31h1.2v1.2h-1.2zM498.53 297.93h1.2v1.2h-1.2zM510.86 297.41h1.2v1.2h-1.2zM499.95 299.23h1.2v1.2h-1.2zM514.03 299.85h1.2v1.2h-1.2zM514.64 297.63h1.2v1.2h-1.2zM508.32 298.97h1.2v1.2h-1.2zM507.33 299.45h1.2v1.2h-1.2zM501.93 302.53h1.2v1.2h-1.2zM502.53 299.79h1.2v1.2h-1.2zM513.46 299.15h1.2v1.2h-1.2zM499.68 302.46h1.2v1.2h-1.2zM516.37 296.36h1.2v1.2h-1.2zM517.38 297.94h1.2v1.2h-1.2zM514.82 301.8h1.2v1.2h-1.2zM508.76 295.61h1.2v1.2h-1.2zM507.37 297.38h1.2v1.2h-1.2zM508.7 300.16h1.2v1.2h-1.2zM508.78 297.88h1.2v1.2h-1.2zM506.51 299.45h1.2v1.2h-1.2zM503.47 300.25h1.2v1.2h-1.2zM517.57 297.7h1.2v1.2h-1.2zM502.93 301.17h1.2v1.2h-1.2zM501.94 303.83h1.2v1.2h-1.2zM501.21 301.7h1.2v1.2h-1.2zM501.4 304.94h1.2v1.2h-1.2zM503.24 302.22h1.2v1.2h-1.2zM503.84 299.6h1.2v1.2h-1.2zM514.43 294.83h1.2v1.2h-1.2zM510.44 300.95h1.2v1.2h-1.2zM503.76 293.64h1.2v1.2h-1.2zM506.85 293.62h1.2v1.2h-1.2zM512.37 300.63h1.2v1.2h-1.2zM496.88 299.34h1.2v1.2h-1.2zM502.94 304.5h1.2v1.2h-1.2zM504.74 294.36h1.2v1.2h-1.2zM499.33 301.93h1.2v1.2h-1.2zM501.32 298.78h1.2v1.2h-1.2zM516.65 299.61h1.2v1.2h-1.2zM513.21 301.3h1.2v1.2h-1.2zM505.89 300.23h1.2v1.2h-1.2zM512.71 299.51h1.2v1.2h-1.2zM501.45 304.73h1.2v1.2h-1.2zM502.49 294.68h1.2v1.2h-1.2zM503.84 303.05h1.2v1.2h-1.2zM500.21 296.87h1.2v1.2h-1.2zM518.08 296.71h1.2v1.2h-1.2zM503.11 299.82h1.2v1.2h-1.2zM509.11 299.64h1.2v1.2h-1.2zM511.35 301.24h1.2v1.2h-1.2zM502.53 297.56h1.2v1.2h-1.2zM499.73 303.27h1.2v1.2h-1.2zM514.87 300.76h1.2v1.2h-1.2zM500.35 304.41h1.2v1.2h-1.2zM502.74 304.13h1.2v1.2h-1.2zM511.3 301.52h1.2v1.2h-1.2zM509.61 297.6h1.2v1.2h-1.2z" fill="#d4f4cf"/>
<polygon points="518.7,300.33 529.43,302.98 538.87,303.86 546.38,304.42 555.72,303.42 560.44,301.43 563.77,298.56 564.62,299.67 561.08,302.76 555.72,304.97 546.38,305.85 538.87,305.41 529.43,304.53 518.7,301.88" fill="#d4f4cf"/>
<path d="M552.01 303.06h1.2v1.2h-1.2zM515.48 300.84h1.2v1.2h-1.2zM521.61 302.02h1.2v1.2h-1.2zM527.05 302.38h1.2v1.2h-1.2zM523.96 300.69h1.2v1.2h-1.2zM550.52 302.89h1.2v1.2h-1.2zM532.56 305.63h1.2v1.2h-1.2zM549.59 304.13h1.2v1.2h-1.2zM532.27 303.02h1.2v1.2h-1.2zM560.43 302.44h1.2v1.2h-1.2zM524.78 303.25h1.2v1.2h-1.2zM529.78 306.59h1.2v1.2h-1.2zM520.89 301.3h1.2v1.2h-1.2zM552.44 302.19h1.2v1.2h-1.2zM535.32 307.85h1.2v1.2h-1.2zM521.42 301.05h1.2v1.2h-1.2zM521.46 303.99h1.2v1.2h-1.2zM516.66 305.92h1.2v1.2h-1.2zM543.34 305.35h1.2v1.2h-1.2zM537.42 305.12h1.2v1.2h-1.2zM537.92 303.34h1.2v1.2h-1.2zM548.88 304.03h1.2v1.2h-1.2zM526.92 302.29h1.2v1.2h-1.2zM522.64 303.57h1.2v1.2h-1.2zM524.44 300.5h1.2v1.2h-1.2zM523.55 303.46h1.2v1.2h-1.2zM522.91 303.17h1.2v1.2h-1.2zM526.66 300.28h1.2v1.2h-1.2zM542.15 302.92h1.2v1.2h-1.2zM562.97 299.69h1.2v1.2h-1.2zM541.36 303.3h1.2v1.2h-1.2zM521.16 301.5h1.2v1.2h-1.2zM558.98 299.95h1.2v1.2h-1.2zM543.11 304.74h1.2v1.2h-1.2zM540.35 303.6h1.2v1.2h-1.2zM554.45 307.37h1.2v1.2h-1.2zM551.72 303.62h1.2v1.2h-1.2zM556.8 302.08h1.2v1.2h-1.2zM539.32 307h1.2v1.2h-1.2zM548.11 303.43h1.2v1.2h-1.2zM557.15 301.86h1.2v1.2h-1.2zM534.46 302.6h1.2v1.2h-1.2zM546.05 303.37h1.2v1.2h-1.2zM555.83 305.63h1.2v1.2h-1.2zM546.54 303.82h1.2v1.2h-1.2zM517.08 301.93h1.2v1.2h-1.2zM554.42 304.93h1.2v1.2h-1.2zM517.54 300.05h1.2v1.2h-1.2zM524.32 300.67h1.2v1.2h-1.2zM529.93 303.45h1.2v1.2h-1.2zM560.38 303.55h1.2v1.2h-1.2zM531.31 302.44h1.2v1.2h-1.2zM559.35 299.91h1.2v1.2h-1.2zM556.7 305.26h1.2v1.2h-1.2zM529.72 300.48h1.2v1.2h-1.2zM537.07 303.92h1.2v1.2h-1.2zM559.94 303.89h1.2v1.2h-1.2zM537.27 305.96h1.2v1.2h-1.2zM525.81 300.23h1.2v1.2h-1.2zM521.94 299.51h1.2v1.2h-1.2zM535.96 302.44h1.2v1.2h-1.2zM521.38 301.14h1.2v1.2h-1.2zM537.35 302.1h1.2v1.2h-1.2zM526.39 300.68h1.2v1.2h-1.2zM531.61 302.57h1.2v1.2h-1.2zM560.21 299.22h1.2v1.2h-1.2zM528.27 301.68h1.2v1.2h-1.2zM558.44 298.71h1.2v1.2h-1.2zM555.7 303.25h1.2v1.2h-1.2zM534.98 302.98h1.2v1.2h-1.2zM519.56 303.3h1.2v1.2h-1.2zM545.41 304.55h1.2v1.2h-1.2zM517.12 301.09h1.2v1.2h-1.2zM526.58 301.33h1.2v1.2h-1.2zM533.02 305.2h1.2v1.2h-1.2zM520.29 303.13h1.2v1.2h-1.2zM552.01 304.79h1.2v1.2h-1.2zM540.33 300.24h1.2v1.2h-1.2zM532.3 304.59h1.2v1.2h-1.2zM537.26 303.14h1.2v1.2h-1.2zM527.55 300.8h1.2v1.2h-1.2zM563.57 297.62h1.2v1.2h-1.2zM552.66 300.99h1.2v1.2h-1.2zM518.8 300.06h1.2v1.2h-1.2zM557.28 301.16h1.2v1.2h-1.2zM523.78 303.68h1.2v1.2h-1.2zM556.18 301.14h1.2v1.2h-1.2zM565.34 298.7h1.2v1.2h-1.2zM516.54 298.33h1.2v1.2h-1.2zM547.55 304.11h1.2v1.2h-1.2zM526.4 303.05h1.2v1.2h-1.2zM556.65 303.32h1.2v1.2h-1.2zM558.76 302.81h1.2v1.2h-1.2zM518.73 300.51h1.2v1.2h-1.2zM526.38 301.55h1.2v1.2h-1.2zM562.79 299.71h1.2v1.2h-1.2zM539.54 304.63h1.2v1.2h-1.2zM529.47 304.38h1.2v1.2h-1.2zM528.44 301.08h1.2v1.2h-1.2zM538.62 302.11h1.2v1.2h-1.2zM554.28 302.99h1.2v1.2h-1.2zM521.32 302.43h1.2v1.2h-1.2zM556.73 304.31h1.2v1.2h-1.2zM529.03 303.23h1.2v1.2h-1.2zM529.38 305.28h1.2v1.2h-1.2zM537.82 303.92h1.2v1.2h-1.2zM518.57 302.26h1.2v1.2h-1.2zM561.19 299.78h1.2v1.2h-1.2zM562.36 297.89h1.2v1.2h-1.2zM558.65 298.58h1.2v1.2h-1.2zM541.76 304.66h1.2v1.2h-1.2zM541.09 303.45h1.2v1.2h-1.2zM541.74 301.21h1.2v1.2h-1.2zM563.34 299.13h1.2v1.2h-1.2zM560.47 301.45h1.2v1.2h-1.2zM542.94 302.96h1.2v1.2h-1.2zM558.69 301.51h1.2v1.2h-1.2zM545.45 303.12h1.2v1.2h-1.2zM549.14 302.89h1.2v1.2h-1.2zM539 305.49h1.2v1.2h-1.2zM546.99 303.04h1.2v1.2h-1.2zM560.6 300.72h1.2v1.2h-1.2zM521.71 300.62h1.2v1.2h-1.2zM522.01 300.36h1.2v1.2h-1.2zM551.96 301.37h1.2v1.2h-1.2zM540.34 303.01h1.2v1.2h-1.2z" fill="#d4f4cf"/>
<polygon points="547.24,302.43 550.35,301.88 551.96,304.64 550.89,308.5 547.67,307.95" fill="#d4f4cf"/>
<path d="M545.4 306.08h1.2v1.2h-1.2zM548.13 303.25h1.2v1.2h-1.2zM550.93 307.41h1.2v1.2h-1.2zM551.63 304.02h1.2v1.2h-1.2zM547.94 303.76h1.2v1.2h-1.2zM550.39 303.26h1.2v1.2h-1.2zM551.36 306.62h1.2v1.2h-1.2zM543.75 308.49h1.2v1.2h-1.2zM547.16 304.5h1.2v1.2h-1.2zM549.08 306.95h1.2v1.2h-1.2zM548.52 308.84h1.2v1.2h-1.2zM546.11 305.75h1.2v1.2h-1.2zM550.11 302.3h1.2v1.2h-1.2zM549.61 303.76h1.2v1.2h-1.2zM546.38 306.62h1.2v1.2h-1.2zM554.95 305.93h1.2v1.2h-1.2zM551.17 305.62h1.2v1.2h-1.2zM551.53 304.02h1.2v1.2h-1.2zM546.61 307.1h1.2v1.2h-1.2zM548.74 303.47h1.2v1.2h-1.2zM552.09 301.31h1.2v1.2h-1.2zM551.97 301.34h1.2v1.2h-1.2zM546.76 300.43h1.2v1.2h-1.2zM550.76 305.39h1.2v1.2h-1.2zM547.19 306.37h1.2v1.2h-1.2zM551.28 302.49h1.2v1.2h-1.2zM550.53 297.88h1.2v1.2h-1.2zM546.88 302.67h1.2v1.2h-1.2zM547.61 302.53h1.2v1.2h-1.2zM546.73 301.83h1.2v1.2h-1.2zM550.38 305h1.2v1.2h-1.2zM548.07 302.59h1.2v1.2h-1.2zM550.48 301.18h1.2v1.2h-1.2zM549.27 307.24h1.2v1.2h-1.2zM544.64 306.48h1.2v1.2h-1.2zM546.44 304.24h1.2v1.2h-1.2zM545.49 306.22h1.2v1.2h-1.2zM550.25 306.67h1.2v1.2h-1.2zM550.6 304.5h1.2v1.2h-1.2zM545.47 303.35h1.2v1.2h-1.2zM546.27 307.85h1.2v1.2h-1.2zM547.21 305.94h1.2v1.2h-1.2zM550.22 303.48h1.2v1.2h-1.2zM548.82 305.8h1.2v1.2h-1.2zM549.44 301.97h1.2v1.2h-1.2z" fill="#d4f4cf"/>
<path d="M508.35 312.16h1.3v1.3h-1.3zM510.96 312.16h1.3v1.3h-1.3zM507.9 316.37h1.3v1.3h-1.3zM506.86 311.21h1.3v1.3h-1.3zM506.53 315.9h1.3v1.3h-1.3zM507.28 317.71h1.3v1.3h-1.3zM506.05 312.89h1.3v1.3h-1.3zM508.2 313.12h1.3v1.3h-1.3zM506.94 311.39h1.3v1.3h-1.3zM508.27 316.23h1.3v1.3h-1.3zM507.4 318h1.3v1.3h-1.3zM509 313.33h1.3v1.3h-1.3zM507.38 312.7h1.3v1.3h-1.3zM505.67 314.15h1.3v1.3h-1.3zM508.45 316.58h1.3v1.3h-1.3zM505.56 310.84h1.3v1.3h-1.3zM510.81 313.32h1.3v1.3h-1.3zM509.65 317.2h1.3v1.3h-1.3zM506.84 311.94h1.3v1.3h-1.3zM510.01 312.88h1.3v1.3h-1.3zM508.25 310.62h1.3v1.3h-1.3zM508.76 313.92h1.3v1.3h-1.3zM506.39 312.06h1.3v1.3h-1.3zM510.93 317.36h1.3v1.3h-1.3zM507.03 312.99h1.3v1.3h-1.3z" fill="#d4f4cf"/>
<polygon points="500.57,310.49 502.39,310.16 503.03,314.02 502.71,317.99 500.89,317.99 500.24,314.02" fill="#d4f4cf"/>
<path d="M503.5 303.96h1.2v1.2h-1.2zM503.97 309.73h1.2v1.2h-1.2zM500.04 304.13h1.2v1.2h-1.2zM505.74 306.46h1.2v1.2h-1.2zM503.43 307.49h1.2v1.2h-1.2zM504.46 302.13h1.2v1.2h-1.2zM509.63 302.67h1.2v1.2h-1.2zM507.42 309.45h1.2v1.2h-1.2zM501.68 307.82h1.2v1.2h-1.2zM508.21 303.98h1.2v1.2h-1.2z" fill="#d4f4cf"/>
<path d="M582.52 324.77h1.1v1.1h-1.1zM562.37 334.94h1.1v1.1h-1.1zM556 331.8h1.1v1.1h-1.1zM560.33 332.65h1.1v1.1h-1.1zM573.16 332.77h1.1v1.1h-1.1zM574.44 325.8h1.1v1.1h-1.1zM568.94 333.81h1.1v1.1h-1.1zM573.75 325.31h1.1v1.1h-1.1zM563.64 323.06h1.1v1.1h-1.1zM585.33 331.8h1.1v1.1h-1.1zM547.97 331.16h1.1v1.1h-1.1zM551.42 330.54h1.1v1.1h-1.1zM575.83 334.69h1.1v1.1h-1.1zM585.9 331.95h1.1v1.1h-1.1zM563.03 329.97h1.1v1.1h-1.1zM578.04 325.46h1.1v1.1h-1.1zM567.55 325.55h1.1v1.1h-1.1zM551.93 333.77h1.1v1.1h-1.1zM575.46 332.66h1.1v1.1h-1.1zM571.27 324.89h1.1v1.1h-1.1zM553.37 333.13h1.1v1.1h-1.1zM545.82 325.2h1.1v1.1h-1.1zM559.96 325.2h1.1v1.1h-1.1zM548.86 325.02h1.1v1.1h-1.1zM546.24 324.26h1.1v1.1h-1.1zM556.56 327.52h1.1v1.1h-1.1zM542.52 325.31h1.1v1.1h-1.1zM556.09 323.83h1.1v1.1h-1.1zM573.38 324.54h1.1v1.1h-1.1zM559.48 324.74h1.1v1.1h-1.1zM571.6 324.04h1.1v1.1h-1.1zM545.38 325.13h1.1v1.1h-1.1zM580.9 324.01h1.1v1.1h-1.1zM574.61 333.48h1.1v1.1h-1.1zM578.26 328.73h1.1v1.1h-1.1zM556.84 327.71h1.1v1.1h-1.1zM568.93 329.53h1.1v1.1h-1.1zM571.67 328.89h1.1v1.1h-1.1zM578.72 331.12h1.1v1.1h-1.1zM549.24 328.68h1.1v1.1h-1.1zM547.28 335.5h1.1v1.1h-1.1zM537.73 328.39h1.1v1.1h-1.1zM557.43 331.22h1.1v1.1h-1.1zM540.64 332.12h1.1v1.1h-1.1zM542.18 326.68h1.1v1.1h-1.1z" fill="#fff"/>
<path d="M563.12 321.33h1.1v1.1h-1.1zM563.18 320.44h1.1v1.1h-1.1zM547.19 322.41h1.1v1.1h-1.1zM548.39 322.2h1.1v1.1h-1.1zM546.58 324.53h1.1v1.1h-1.1zM572.03 320.79h1.1v1.1h-1.1zM553.48 324.76h1.1v1.1h-1.1zM568.28 321.15h1.1v1.1h-1.1zM544.65 324.5h1.1v1.1h-1.1zM562.3 319.81h1.1v1.1h-1.1zM553.91 321.37h1.1v1.1h-1.1zM558.15 324.31h1.1v1.1h-1.1zM572.9 323.39h1.1v1.1h-1.1zM570.82 322.97h1.1v1.1h-1.1zM548.5 325.08h1.1v1.1h-1.1z" fill="#fff"/>
<path d="M521.37 318.41h1v1h-1zM518.51 317.15h1v1h-1zM529.89 317.71h1v1h-1zM518.69 317.45h1v1h-1zM535.52 318.72h1v1h-1zM522.69 316.82h1v1h-1zM520.38 318.46h1v1h-1zM526.63 317.06h1v1h-1zM533.58 319.23h1v1h-1zM532.16 320.07h1v1h-1zM520.36 315.93h1v1h-1zM516.84 317.84h1v1h-1z" fill="#fff"/>
<path d="M493.1 337.3h1.3v1.3h-1.3zM494.34 338.03h1.3v1.3h-1.3zM494.05 338.01h1.3v1.3h-1.3zM491.58 333.48h1.3v1.3h-1.3zM495.29 337.74h1.3v1.3h-1.3zM492.61 335.96h1.3v1.3h-1.3zM492.77 335.11h1.3v1.3h-1.3zM493.95 338.09h1.3v1.3h-1.3zM494.29 337.21h1.3v1.3h-1.3zM493.92 334.3h1.3v1.3h-1.3zM493.63 337.83h1.3v1.3h-1.3zM493.75 336.12h1.3v1.3h-1.3z" fill="#fff"/>
<path d="M502.53 340.97h1.3v1.3h-1.3zM503.28 340h1.3v1.3h-1.3zM502.15 341.66h1.3v1.3h-1.3zM501.63 339.51h1.3v1.3h-1.3zM504.1 340.19h1.3v1.3h-1.3zM502.55 338.58h1.3v1.3h-1.3zM502.5 340.96h1.3v1.3h-1.3zM503.39 340.4h1.3v1.3h-1.3zM504.17 339.29h1.3v1.3h-1.3zM502.24 340.4h1.3v1.3h-1.3zM504.11 340.78h1.3v1.3h-1.3zM503.9 341.32h1.3v1.3h-1.3z" fill="#fff"/>
<path d="M496.78 328.19h1.1v1.1h-1.1zM500.93 328.74h1.1v1.1h-1.1zM510.98 330.32h1.1v1.1h-1.1zM499.91 324.82h1.1v1.1h-1.1zM499.29 330.61h1.1v1.1h-1.1zM509.45 327.19h1.1v1.1h-1.1zM506.55 329.45h1.1v1.1h-1.1zM504.8 322.38h1.1v1.1h-1.1zM505.56 327.23h1.1v1.1h-1.1zM500.21 323.06h1.1v1.1h-1.1z" fill="#fff"/>
<path d="M516.95 338.3h1.3v1.3h-1.3zM531.61 325.89h1.3v1.3h-1.3zM519.66 331.15h1.3v1.3h-1.3zM521.38 341.18h1.3v1.3h-1.3zM520.68 325.81h1.3v1.3h-1.3zM523.73 344.35h1.3v1.3h-1.3zM529.66 321.38h1.3v1.3h-1.3zM518.61 319.38h1.3v1.3h-1.3zM528.82 338h1.3v1.3h-1.3zM519.12 326.52h1.3v1.3h-1.3zM532.35 319.31h1.3v1.3h-1.3zM530.03 343.39h1.3v1.3h-1.3zM528.54 327.63h1.3v1.3h-1.3zM530.19 346.29h1.3v1.3h-1.3zM526.68 337.01h1.3v1.3h-1.3zM527.51 346.51h1.3v1.3h-1.3zM534.71 338.32h1.3v1.3h-1.3zM525.33 321.62h1.3v1.3h-1.3zM525.32 330.88h1.3v1.3h-1.3zM529.03 332.8h1.3v1.3h-1.3zM520.57 323.95h1.3v1.3h-1.3zM530.37 335.44h1.3v1.3h-1.3zM530.77 323.75h1.3v1.3h-1.3zM524.51 321.38h1.3v1.3h-1.3zM519.24 328.58h1.3v1.3h-1.3zM521.21 347.26h1.3v1.3h-1.3zM517.94 333.64h1.3v1.3h-1.3zM517.7 345.16h1.3v1.3h-1.3z" fill="#d4f4cf"/>
<path d="M582.42 311.25h1.3v1.3h-1.3zM575.11 310.16h1.3v1.3h-1.3zM580.83 309.99h1.3v1.3h-1.3zM581.54 309.45h1.3v1.3h-1.3zM573.58 306.75h1.3v1.3h-1.3zM573.05 303.09h1.3v1.3h-1.3zM584.14 310.21h1.3v1.3h-1.3zM581.29 303.12h1.3v1.3h-1.3zM579.58 305.89h1.3v1.3h-1.3zM579.28 309.85h1.3v1.3h-1.3zM581.44 304.82h1.3v1.3h-1.3zM581.37 310.79h1.3v1.3h-1.3zM578.02 303.86h1.3v1.3h-1.3zM572 301.91h1.3v1.3h-1.3zM570.65 309.99h1.3v1.3h-1.3zM570.57 304.82h1.3v1.3h-1.3zM577.75 305.77h1.3v1.3h-1.3zM578.41 311.38h1.3v1.3h-1.3z" fill="#d4f4cf"/>
<path d="M506.09 224.78h1.4v1.4h-1.4zM551.26 230.3h1.4v1.4h-1.4zM524.22 248.4h1.4v1.4h-1.4zM522.83 247.63h1.4v1.4h-1.4zM526.05 249.07h1.4v1.4h-1.4zM525.83 241.23h1.4v1.4h-1.4zM550.51 255.69h1.4v1.4h-1.4zM591.61 248.4h1.4v1.4h-1.4zM571.22 262.54h1.4v1.4h-1.4zM573.8 264.74h1.4v1.4h-1.4zM578.09 272.47h1.4v1.4h-1.4zM580.23 276.89h1.4v1.4h-1.4zM582.38 274.68h1.4v1.4h-1.4zM577.01 281.3h1.4v1.4h-1.4zM572.72 277.99h1.4v1.4h-1.4zM578.73 270.71h1.4v1.4h-1.4zM574.87 284.62h1.4v1.4h-1.4zM569.5 286.82h1.4v1.4h-1.4zM581.31 290.14h1.4v1.4h-1.4zM584.53 295.66h1.4v1.4h-1.4zM582.38 294.55h1.4v1.4h-1.4z" fill="#d4f4cf"/>
<path d="M512.97 313.65h1.4v1.4h-1.4zM517.41 311.7h1.4v1.4h-1.4zM515.46 311.76h1.4v1.4h-1.4zM518.44 315.94h1.4v1.4h-1.4zM519.06 314.74h1.4v1.4h-1.4zM516.76 315.11h1.4v1.4h-1.4zM514.03 315.85h1.4v1.4h-1.4zM512.78 315h1.4v1.4h-1.4zM517.47 315.7h1.4v1.4h-1.4zM514.82 319.32h1.4v1.4h-1.4zM515.94 314.6h1.4v1.4h-1.4zM516.18 314.71h1.4v1.4h-1.4zM514.88 315h1.4v1.4h-1.4zM520.66 315.64h1.4v1.4h-1.4zM516.22 316.75h1.4v1.4h-1.4zM520.64 315.22h1.4v1.4h-1.4zM514.3 319.81h1.4v1.4h-1.4zM512.3 314.98h1.4v1.4h-1.4zM517.4 319.48h1.4v1.4h-1.4zM513.52 311.47h1.4v1.4h-1.4zM517.39 314.71h1.4v1.4h-1.4zM514.87 316.38h1.4v1.4h-1.4zM516.34 316.09h1.4v1.4h-1.4zM514.77 317.79h1.4v1.4h-1.4zM519.41 315.65h1.4v1.4h-1.4zM514.72 316.85h1.4v1.4h-1.4zM516.95 313.83h1.4v1.4h-1.4zM514.7 317.38h1.4v1.4h-1.4zM515.57 315.04h1.4v1.4h-1.4zM516.31 315.54h1.4v1.4h-1.4zM515.79 312.32h1.4v1.4h-1.4zM520 315.94h1.4v1.4h-1.4zM513.7 317.27h1.4v1.4h-1.4zM516.54 315.63h1.4v1.4h-1.4zM518.32 319.44h1.4v1.4h-1.4zM517.13 318.29h1.4v1.4h-1.4zM520.98 313.86h1.4v1.4h-1.4zM514.54 316.92h1.4v1.4h-1.4zM511.7 315.15h1.4v1.4h-1.4zM518.9 317.37h1.4v1.4h-1.4zM517.19 312.38h1.4v1.4h-1.4zM521.44 316.54h1.4v1.4h-1.4zM517.64 316.44h1.4v1.4h-1.4zM511.68 313.16h1.4v1.4h-1.4zM512.88 318.86h1.4v1.4h-1.4zM513.81 315.19h1.4v1.4h-1.4zM515.19 316.57h1.4v1.4h-1.4zM517 316.06h1.4v1.4h-1.4zM512.77 310.26h1.4v1.4h-1.4zM516.2 316.06h1.4v1.4h-1.4zM518.75 315.42h1.4v1.4h-1.4zM514.33 316.3h1.4v1.4h-1.4zM512.07 313.83h1.4v1.4h-1.4zM513.38 316.09h1.4v1.4h-1.4zM520.82 316.9h1.4v1.4h-1.4zM518.54 316h1.4v1.4h-1.4zM516.47 314.84h1.4v1.4h-1.4zM515.13 311.47h1.4v1.4h-1.4zM512.91 313.41h1.4v1.4h-1.4zM517.81 316.73h1.4v1.4h-1.4zM518.54 318.25h1.4v1.4h-1.4zM515.07 317.39h1.4v1.4h-1.4zM520.49 315.59h1.4v1.4h-1.4zM518.41 315.32h1.4v1.4h-1.4zM511.93 315.8h1.4v1.4h-1.4zM513.83 315.79h1.4v1.4h-1.4zM514.69 316.14h1.4v1.4h-1.4zM510.67 319.14h1.4v1.4h-1.4zM519.06 315h1.4v1.4h-1.4zM513.62 315.61h1.4v1.4h-1.4zM523.36 317.3h1.4v1.4h-1.4zM576.28 318.74h1.4v1.4h-1.4zM541.87 317.74h1.4v1.4h-1.4zM564.53 315.44h1.4v1.4h-1.4zM562.45 317.21h1.4v1.4h-1.4zM565.2 316.17h1.4v1.4h-1.4zM536.4 315.7h1.4v1.4h-1.4zM564.28 317.28h1.4v1.4h-1.4zM537.28 318.76h1.4v1.4h-1.4zM556.78 316.72h1.4v1.4h-1.4zM518.09 316.87h1.4v1.4h-1.4zM562.97 316.92h1.4v1.4h-1.4zM548.78 317.87h1.4v1.4h-1.4zM571.54 315.74h1.4v1.4h-1.4zM540.96 316.35h1.4v1.4h-1.4zM573.62 315.75h1.4v1.4h-1.4zM541.1 318.47h1.4v1.4h-1.4zM564.11 315.45h1.4v1.4h-1.4zM583.68 318.1h1.4v1.4h-1.4zM553.3 316.91h1.4v1.4h-1.4zM528.6 318.71h1.4v1.4h-1.4zM549.75 315.26h1.4v1.4h-1.4zM564.32 316.82h1.4v1.4h-1.4zM528.98 315.89h1.4v1.4h-1.4zM570.37 315.78h1.4v1.4h-1.4zM545.91 316.59h1.4v1.4h-1.4zM559.71 317.4h1.4v1.4h-1.4zM566.29 315.7h1.4v1.4h-1.4zM519.18 318.16h1.4v1.4h-1.4zM561.51 318.07h1.4v1.4h-1.4zM532.19 316.9h1.4v1.4h-1.4zM520.15 316.27h1.4v1.4h-1.4zM549.37 317.33h1.4v1.4h-1.4zM526.38 317.84h1.4v1.4h-1.4zM538.88 317.66h1.4v1.4h-1.4zM519.72 318.17h1.4v1.4h-1.4zM548.94 316.28h1.4v1.4h-1.4zM557.43 318.14h1.4v1.4h-1.4zM533.47 317.47h1.4v1.4h-1.4zM544.87 317.3h1.4v1.4h-1.4zM536.24 316.99h1.4v1.4h-1.4zM573.83 317.3h1.4v1.4h-1.4zM542.72 318.69h1.4v1.4h-1.4zM523.75 317.85h1.4v1.4h-1.4zM554.38 316.53h1.4v1.4h-1.4zM582.46 318.06h1.4v1.4h-1.4zM572.96 315.44h1.4v1.4h-1.4zM560.98 318.05h1.4v1.4h-1.4zM542.42 318.19h1.4v1.4h-1.4zM555.64 318.27h1.4v1.4h-1.4zM582.39 318.29h1.4v1.4h-1.4zM541.18 317.09h1.4v1.4h-1.4zM578.06 317.47h1.4v1.4h-1.4zM555.78 317.22h1.4v1.4h-1.4zM559.13 318.08h1.4v1.4h-1.4zM577.91 318.08h1.4v1.4h-1.4zM542.86 316.69h1.4v1.4h-1.4zM537.12 317.7h1.4v1.4h-1.4zM583.43 315.08h1.4v1.4h-1.4zM579.43 318.73h1.4v1.4h-1.4zM557.82 317.02h1.4v1.4h-1.4zM551.05 320.07h1.4v1.4h-1.4zM545.55 316.1h1.4v1.4h-1.4zM550.74 319.88h1.4v1.4h-1.4zM536.78 316.9h1.4v1.4h-1.4zM559.57 317.25h1.4v1.4h-1.4zM547.46 316.83h1.4v1.4h-1.4zM573.52 318.72h1.4v1.4h-1.4zM518.2 316.81h1.4v1.4h-1.4zM580.9 316.8h1.4v1.4h-1.4zM573.56 322.25h1.4v1.4h-1.4zM541.16 321.16h1.4v1.4h-1.4zM586.6 322.82h1.4v1.4h-1.4zM562.61 325h1.4v1.4h-1.4zM564.93 326.55h1.4v1.4h-1.4zM571.14 320.72h1.4v1.4h-1.4zM572.21 322.91h1.4v1.4h-1.4zM557.91 323.33h1.4v1.4h-1.4zM543 325.66h1.4v1.4h-1.4zM553.55 323.63h1.4v1.4h-1.4zM571.24 326.39h1.4v1.4h-1.4zM526.6 322.33h1.4v1.4h-1.4zM553 330.3h1.4v1.4h-1.4zM580.24 325.85h1.4v1.4h-1.4zM525.22 328.64h1.4v1.4h-1.4zM551.25 326.21h1.4v1.4h-1.4zM568.92 326.89h1.4v1.4h-1.4zM554.66 330.24h1.4v1.4h-1.4zM548.58 324h1.4v1.4h-1.4zM577.97 321.66h1.4v1.4h-1.4zM542.98 329.26h1.4v1.4h-1.4zM528.46 329.34h1.4v1.4h-1.4zM568.06 324.49h1.4v1.4h-1.4zM542.34 328.67h1.4v1.4h-1.4zM581.67 321.01h1.4v1.4h-1.4zM554.44 325.89h1.4v1.4h-1.4zM555.65 323.27h1.4v1.4h-1.4zM533.97 326.33h1.4v1.4h-1.4zM575.44 320.12h1.4v1.4h-1.4zM538.79 329.14h1.4v1.4h-1.4zM574.18 327.26h1.4v1.4h-1.4zM525.91 327.97h1.4v1.4h-1.4zM585.96 331.28h1.4v1.4h-1.4zM568.48 319.89h1.4v1.4h-1.4zM577.35 321.93h1.4v1.4h-1.4zM564.98 330.73h1.4v1.4h-1.4zM569.18 320.92h1.4v1.4h-1.4zM542.73 330.32h1.4v1.4h-1.4zM544.54 342.29h1.4v1.4h-1.4zM553.79 334.2h1.4v1.4h-1.4zM561.08 332.08h1.4v1.4h-1.4zM543.09 338.13h1.4v1.4h-1.4zM541.82 332.34h1.4v1.4h-1.4zM559.43 344.66h1.4v1.4h-1.4zM570.05 333.72h1.4v1.4h-1.4zM554.41 336.96h1.4v1.4h-1.4zM560.31 340.11h1.4v1.4h-1.4zM572.15 338.04h1.4v1.4h-1.4zM511.85 316.27h1.4v1.4h-1.4zM496.72 325.02h1.4v1.4h-1.4zM501.18 323.26h1.4v1.4h-1.4zM502.19 326.52h1.4v1.4h-1.4zM503.84 324.35h1.4v1.4h-1.4zM505.78 320.56h1.4v1.4h-1.4zM498.61 325.76h1.4v1.4h-1.4zM500.72 326.07h1.4v1.4h-1.4zM501.68 327.68h1.4v1.4h-1.4zM502.26 325.42h1.4v1.4h-1.4zM512.62 316.22h1.4v1.4h-1.4zM512.88 317.74h1.4v1.4h-1.4zM512.44 322.11h1.4v1.4h-1.4zM500.42 324.87h1.4v1.4h-1.4zM500 325.92h1.4v1.4h-1.4zM505.38 320.06h1.4v1.4h-1.4zM507.81 323.84h1.4v1.4h-1.4zM500.99 323.86h1.4v1.4h-1.4zM493.87 328h1.4v1.4h-1.4zM501.72 322.82h1.4v1.4h-1.4zM512.54 317.87h1.4v1.4h-1.4zM514.09 315.75h1.4v1.4h-1.4zM500.12 326.95h1.4v1.4h-1.4zM494.11 327.67h1.4v1.4h-1.4zM504.83 323.33h1.4v1.4h-1.4zM508.87 319.58h1.4v1.4h-1.4zM496.49 329.56h1.4v1.4h-1.4zM508.53 321.23h1.4v1.4h-1.4zM508.14 319.64h1.4v1.4h-1.4zM491.92 331.84h1.4v1.4h-1.4zM498.61 324.42h1.4v1.4h-1.4zM496.37 331.04h1.4v1.4h-1.4zM506.15 318.22h1.4v1.4h-1.4zM510.16 318.91h1.4v1.4h-1.4zM510.3 320.24h1.4v1.4h-1.4zM492.8 330.91h1.4v1.4h-1.4zM503.34 325.24h1.4v1.4h-1.4zM499.63 327.3h1.4v1.4h-1.4zM502.27 324.92h1.4v1.4h-1.4zM504.89 322.3h1.4v1.4h-1.4zM512.42 315.64h1.4v1.4h-1.4zM507.21 315.57h1.4v1.4h-1.4zM502.45 324.1h1.4v1.4h-1.4zM513.56 316.26h1.4v1.4h-1.4zM495.85 329.77h1.4v1.4h-1.4zM511.78 317.32h1.4v1.4h-1.4zM506.91 320.58h1.4v1.4h-1.4zM516.94 317.96h1.4v1.4h-1.4zM507.89 318.73h1.4v1.4h-1.4zM504.02 324.4h1.4v1.4h-1.4zM507.22 316.93h1.4v1.4h-1.4zM502.11 323.86h1.4v1.4h-1.4zM510.94 316.12h1.4v1.4h-1.4zM500.07 325.77h1.4v1.4h-1.4zM500.11 325.79h1.4v1.4h-1.4zM504.91 321.64h1.4v1.4h-1.4zM510.69 318.51h1.4v1.4h-1.4zM498.51 325.94h1.4v1.4h-1.4zM511.88 318.67h1.4v1.4h-1.4zM509.49 318.33h1.4v1.4h-1.4zM510.98 320.61h1.4v1.4h-1.4zM512.8 318.14h1.4v1.4h-1.4zM507.36 322.44h1.4v1.4h-1.4zM507.05 318.78h1.4v1.4h-1.4zM493.66 326.76h1.4v1.4h-1.4zM498.71 325.33h1.4v1.4h-1.4zM502.98 324.8h1.4v1.4h-1.4zM498.91 328.84h1.4v1.4h-1.4zM506.11 322.06h1.4v1.4h-1.4zM509.7 320.92h1.4v1.4h-1.4zM494.79 335.95h1.4v1.4h-1.4zM492.1 339.84h1.4v1.4h-1.4zM491.06 334.37h1.4v1.4h-1.4zM489.62 345.87h1.4v1.4h-1.4zM491.14 338.41h1.4v1.4h-1.4zM490.84 329.37h1.4v1.4h-1.4zM492.64 343.49h1.4v1.4h-1.4zM492.38 331.95h1.4v1.4h-1.4zM490.69 345.68h1.4v1.4h-1.4zM493.78 335.01h1.4v1.4h-1.4zM489.61 338.42h1.4v1.4h-1.4zM486.61 345.57h1.4v1.4h-1.4zM493.7 341.77h1.4v1.4h-1.4zM495.96 338.5h1.4v1.4h-1.4zM491.68 330.22h1.4v1.4h-1.4zM489.84 345.81h1.4v1.4h-1.4zM493.05 336.48h1.4v1.4h-1.4zM492.24 335.48h1.4v1.4h-1.4zM492.29 339.69h1.4v1.4h-1.4zM492 343.24h1.4v1.4h-1.4zM493.86 338.89h1.4v1.4h-1.4zM492.72 338.8h1.4v1.4h-1.4zM492.35 329.45h1.4v1.4h-1.4zM493.09 332.67h1.4v1.4h-1.4zM492.62 340.64h1.4v1.4h-1.4zM490.75 344.03h1.4v1.4h-1.4zM490.94 338.6h1.4v1.4h-1.4zM491.99 337.17h1.4v1.4h-1.4zM491.1 336.52h1.4v1.4h-1.4zM487.75 344.28h1.4v1.4h-1.4zM492.9 343.32h1.4v1.4h-1.4zM488.67 341.2h1.4v1.4h-1.4zM490.33 335.46h1.4v1.4h-1.4zM491.6 339.65h1.4v1.4h-1.4zM491.82 333.03h1.4v1.4h-1.4zM490.74 342.21h1.4v1.4h-1.4zM490.15 347.98h1.4v1.4h-1.4zM493.13 329.74h1.4v1.4h-1.4zM492.26 345.47h1.4v1.4h-1.4zM490.64 342.91h1.4v1.4h-1.4zM489.5 333.58h1.4v1.4h-1.4zM494.44 334.13h1.4v1.4h-1.4zM493.61 337.01h1.4v1.4h-1.4zM490.93 331.22h1.4v1.4h-1.4zM489.45 345h1.4v1.4h-1.4z" fill="#00441b"/>
<defs><linearGradient id="gcb" x1="0" y1="1" x2="0" y2="0"><stop offset="0" stop-color="#d8f5d3"/><stop offset="0.3" stop-color="#a3d9a0"/><stop offset="0.55" stop-color="#6cb56e"/><stop offset="0.8" stop-color="#2e7d43"/><stop offset="1" stop-color="#00441b"/></linearGradient><linearGradient id="gh" x1="0" y1="0" x2="1" y2="0"><stop offset="0" stop-color="#f7fcf5"/><stop offset="0.25" stop-color="#c7e9c0"/><stop offset="0.5" stop-color="#74c476"/><stop offset="0.75" stop-color="#238b45"/><stop offset="1" stop-color="#00441b"/></linearGradient></defs>
<rect x="610.3" y="250.9" width="5.4" height="99.1" fill="url(#gcb)" stroke="#333" stroke-width="0.6"/>
<line x1="615.7" y1="350" x2="617.5" y2="350" stroke="#333" stroke-width="0.6"/>
<text x="619.8" y="352.5" font-size="7.2">0.0</text>
<line x1="615.7" y1="333.48" x2="617.5" y2="333.48" stroke="#333" stroke-width="0.6"/>
<text x="619.8" y="335.98" font-size="7.2">0.5</text>
<line x1="615.7" y1="316.96" x2="617.5" y2="316.96" stroke="#333" stroke-width="0.6"/>
<text x="619.8" y="319.46" font-size="7.2">1.0</text>
<line x1="615.7" y1="300.44" x2="617.5" y2="300.44" stroke="#333" stroke-width="0.6"/>
<text x="619.8" y="302.94" font-size="7.2">1.5</text>
<line x1="615.7" y1="283.92" x2="617.5" y2="283.92" stroke="#333" stroke-width="0.6"/>
<text x="619.8" y="286.42" font-size="7.2">2.0</text>
<line x1="615.7" y1="267.4" x2="617.5" y2="267.4" stroke="#333" stroke-width="0.6"/>
<text x="619.8" y="269.9" font-size="7.2">2.5</text>
<line x1="615.7" y1="250.88" x2="617.5" y2="250.88" stroke="#333" stroke-width="0.6"/>
<text x="619.8" y="253.38" font-size="7.2">3.0</text>
<text x="644.8" y="300.2" font-size="8.6" text-anchor="middle" transform="rotate(-90 644.8 300.2)">Normalised log-expression</text>
<text x="19" y="394.6" font-size="14" font-weight="bold" fill="#000">f</text>
<text x="27" y="395" font-size="10" fill="#111">CCL13</text>
<rect x="86.5" y="401.6" width="135.2" height="96" fill="#fff" stroke="#222" stroke-width="0.9"/>
<text x="81.8" y="395.1" font-size="10" fill="#111">Infected</text>
<line x1="83.5" y1="415.4" x2="86.5" y2="415.4" stroke="#222" stroke-width="0.8"/>
<text x="82.5" y="418.2" font-size="8" text-anchor="end">AS-DC</text>
<line x1="83.5" y1="429.2" x2="86.5" y2="429.2" stroke="#222" stroke-width="0.8"/>
<text x="82.5" y="432" font-size="8" text-anchor="end">DC CD69<tspan font-size="5" dy="-3">+</tspan><tspan dy="3"> ITGAE</tspan><tspan font-size="5" dy="-3">+</tspan></text>
<line x1="83.5" y1="443" x2="86.5" y2="443" stroke="#222" stroke-width="0.8"/>
<text x="82.5" y="445.8" font-size="8" text-anchor="end">Monocyte</text>
<line x1="83.5" y1="456.8" x2="86.5" y2="456.8" stroke="#222" stroke-width="0.8"/>
<text x="82.5" y="459.6" font-size="8" text-anchor="end">cDC1</text>
<line x1="83.5" y1="470.6" x2="86.5" y2="470.6" stroke="#222" stroke-width="0.8"/>
<text x="82.5" y="473.4" font-size="8" text-anchor="end">cDC2</text>
<line x1="83.5" y1="484.4" x2="86.5" y2="484.4" stroke="#222" stroke-width="0.8"/>
<text x="82.5" y="487.2" font-size="8" text-anchor="end">pDC</text>
<line x1="100.5" y1="497.6" x2="100.5" y2="500.6" stroke="#222" stroke-width="0.8"/>
<text x="103.3" y="508.6" font-size="8" text-anchor="middle" fill="#1a1a1a" transform="rotate(-90 103.3 508.6)">-1</text>
<line x1="118.25" y1="497.6" x2="118.25" y2="500.6" stroke="#222" stroke-width="0.8"/>
<text x="121.05" y="508.6" font-size="8" text-anchor="middle" fill="#1a1a1a" transform="rotate(-90 121.05 508.6)">1</text>
<line x1="136" y1="497.6" x2="136" y2="500.6" stroke="#222" stroke-width="0.8"/>
<text x="138.8" y="508.6" font-size="8" text-anchor="middle" fill="#1a1a1a" transform="rotate(-90 138.8 508.6)">3</text>
<line x1="153.75" y1="497.6" x2="153.75" y2="500.6" stroke="#222" stroke-width="0.8"/>
<text x="156.55" y="508.6" font-size="8" text-anchor="middle" fill="#1a1a1a" transform="rotate(-90 156.55 508.6)">5</text>
<line x1="171.5" y1="497.6" x2="171.5" y2="500.6" stroke="#222" stroke-width="0.8"/>
<text x="174.3" y="508.6" font-size="8" text-anchor="middle" fill="#1a1a1a" transform="rotate(-90 174.3 508.6)">7</text>
<line x1="189.25" y1="497.6" x2="189.25" y2="500.6" stroke="#222" stroke-width="0.8"/>
<text x="192.05" y="508.6" font-size="8" text-anchor="middle" fill="#1a1a1a" transform="rotate(-90 192.05 508.6)">10</text>
<line x1="207" y1="497.6" x2="207" y2="500.6" stroke="#222" stroke-width="0.8"/>
<text x="209.8" y="508.6" font-size="8" text-anchor="middle" fill="#1a1a1a" transform="rotate(-90 209.8 508.6)">14</text>
<circle cx="189.25" cy="429.2" r="3.15" fill="#00441b" stroke="#111" stroke-width="0.5"/>
<circle cx="171.5" cy="443" r="1.2" fill="#00441b" stroke="#111" stroke-width="0.5"/>
<rect x="221.7" y="411.2" width="3.3" height="8.4" fill="#008000" stroke="#111" stroke-width="0.5"/>
<text x="228" y="416.1" font-size="8.3" fill="#1a1a1a">53</text>
<rect x="221.7" y="425" width="6.29" height="8.4" fill="#008000" stroke="#111" stroke-width="0.5"/>
<text x="230.99" y="429.9" font-size="8.3" fill="#1a1a1a">101</text>
<rect x="221.7" y="438.8" width="21.94" height="8.4" fill="#008000" stroke="#111" stroke-width="0.5"/>
<text x="246.64" y="443.7" font-size="8.3" fill="#1a1a1a">352</text>
<rect x="221.7" y="452.6" width="5.55" height="8.4" fill="#008000" stroke="#111" stroke-width="0.5"/>
<text x="230.25" y="457.5" font-size="8.3" fill="#1a1a1a">89</text>
<rect x="221.7" y="466.4" width="25.8" height="8.4" fill="#008000" stroke="#111" stroke-width="0.5"/>
<text x="250.5" y="471.3" font-size="8.3" fill="#1a1a1a">414</text>
<rect x="221.7" y="480.2" width="21.56" height="8.4" fill="#008000" stroke="#111" stroke-width="0.5"/>
<text x="246.26" y="485.1" font-size="8.3" fill="#1a1a1a">346</text>
<text x="303.2" y="421.3" font-size="8.3" text-anchor="middle">Fraction of cells</text>
<text x="303.2" y="429" font-size="8.3" text-anchor="middle">in group (%)</text>
<circle cx="286.9" cy="439.6" r="5.9" fill="#808080" stroke="#222" stroke-width="0.6"/>
<line x1="286.9" y1="446.1" x2="286.9" y2="449.1" stroke="#222" stroke-width="0.7"/>
<text x="286.9" y="459.1" font-size="8" text-anchor="middle">5</text>
<text x="303.2" y="476.6" font-size="8" text-anchor="middle">Mean expression</text>
<text x="303.2" y="484.7" font-size="8" text-anchor="middle">in group</text>
<rect x="272.5" y="489.7" width="57.5" height="8" fill="url(#gh)" stroke="#222" stroke-width="0.6"/>
<line x1="272.5" y1="497.7" x2="272.5" y2="499.6" stroke="#222" stroke-width="0.6"/>
<text x="272.5" y="509.5" font-size="8.3" text-anchor="middle">0.0</text>
<line x1="318.5" y1="497.7" x2="318.5" y2="499.6" stroke="#222" stroke-width="0.6"/>
<text x="318.5" y="509.5" font-size="8.3" text-anchor="middle">0.01</text>
<rect x="420.6" y="401.6" width="135.2" height="96" fill="#fff" stroke="#222" stroke-width="0.9"/>
<text x="417.1" y="395.1" font-size="10" fill="#111">Uninfected</text>
<line x1="417.6" y1="415.4" x2="420.6" y2="415.4" stroke="#222" stroke-width="0.8"/>
<text x="416.6" y="418.2" font-size="8" text-anchor="end">AS-DC</text>
<line x1="417.6" y1="429.2" x2="420.6" y2="429.2" stroke="#222" stroke-width="0.8"/>
<text x="416.6" y="432" font-size="8" text-anchor="end">DC CD69<tspan font-size="5" dy="-3">+</tspan><tspan dy="3"> ITGAE</tspan><tspan font-size="5" dy="-3">+</tspan></text>
<line x1="417.6" y1="443" x2="420.6" y2="443" stroke="#222" stroke-width="0.8"/>
<text x="416.6" y="445.8" font-size="8" text-anchor="end">Monocyte</text>
<line x1="417.6" y1="456.8" x2="420.6" y2="456.8" stroke="#222" stroke-width="0.8"/>
<text x="416.6" y="459.6" font-size="8" text-anchor="end">cDC1</text>
<line x1="417.6" y1="470.6" x2="420.6" y2="470.6" stroke="#222" stroke-width="0.8"/>
<text x="416.6" y="473.4" font-size="8" text-anchor="end">cDC2</text>
<line x1="417.6" y1="484.4" x2="420.6" y2="484.4" stroke="#222" stroke-width="0.8"/>
<text x="416.6" y="487.2" font-size="8" text-anchor="end">pDC</text>
<line x1="434.6" y1="497.6" x2="434.6" y2="500.6" stroke="#222" stroke-width="0.8"/>
<text x="437.4" y="508.6" font-size="8" text-anchor="middle" fill="#1a1a1a" transform="rotate(-90 437.4 508.6)">-1</text>
<line x1="452.35" y1="497.6" x2="452.35" y2="500.6" stroke="#222" stroke-width="0.8"/>
<text x="455.15" y="508.6" font-size="8" text-anchor="middle" fill="#1a1a1a" transform="rotate(-90 455.15 508.6)">1</text>
<line x1="470.1" y1="497.6" x2="470.1" y2="500.6" stroke="#222" stroke-width="0.8"/>
<text x="472.9" y="508.6" font-size="8" text-anchor="middle" fill="#1a1a1a" transform="rotate(-90 472.9 508.6)">3</text>
<line x1="487.85" y1="497.6" x2="487.85" y2="500.6" stroke="#222" stroke-width="0.8"/>
<text x="490.65" y="508.6" font-size="8" text-anchor="middle" fill="#1a1a1a" transform="rotate(-90 490.65 508.6)">5</text>
<line x1="505.6" y1="497.6" x2="505.6" y2="500.6" stroke="#222" stroke-width="0.8"/>
<text x="508.4" y="508.6" font-size="8" text-anchor="middle" fill="#1a1a1a" transform="rotate(-90 508.4 508.6)">7</text>
<line x1="523.35" y1="497.6" x2="523.35" y2="500.6" stroke="#222" stroke-width="0.8"/>
<text x="526.15" y="508.6" font-size="8" text-anchor="middle" fill="#1a1a1a" transform="rotate(-90 526.15 508.6)">10</text>
<line x1="541.1" y1="497.6" x2="541.1" y2="500.6" stroke="#222" stroke-width="0.8"/>
<text x="543.9" y="508.6" font-size="8" text-anchor="middle" fill="#1a1a1a" transform="rotate(-90 543.9 508.6)">14</text>
<circle cx="452.35" cy="429.2" r="5.35" fill="#00441b" stroke="#111" stroke-width="0.5"/>
<circle cx="452.35" cy="443" r="2.2" fill="#c7e9c0" stroke="#111" stroke-width="0.5"/>
<rect x="555.8" y="411.2" width="0.86" height="8.4" fill="#008000" stroke="#111" stroke-width="0.5"/>
<text x="560.8" y="416.1" font-size="8.3" fill="#1a1a1a">17</text>
<rect x="555.8" y="425" width="3.07" height="8.4" fill="#008000" stroke="#111" stroke-width="0.5"/>
<text x="561.87" y="429.9" font-size="8.3" fill="#1a1a1a">61</text>
<rect x="555.8" y="438.8" width="26" height="8.4" fill="#008000" stroke="#111" stroke-width="0.5"/>
<text x="584.8" y="443.7" font-size="8.3" fill="#1a1a1a">516</text>
<rect x="555.8" y="452.6" width="0.8" height="8.4" fill="#008000" stroke="#111" stroke-width="0.5"/>
<text x="560.8" y="457.5" font-size="8.3" fill="#1a1a1a">13</text>
<rect x="555.8" y="466.4" width="17.74" height="8.4" fill="#008000" stroke="#111" stroke-width="0.5"/>
<text x="576.54" y="471.3" font-size="8.3" fill="#1a1a1a">352</text>
<rect x="555.8" y="480.2" width="3.07" height="8.4" fill="#008000" stroke="#111" stroke-width="0.5"/>
<text x="561.87" y="485.1" font-size="8.3" fill="#1a1a1a">61</text>
<text x="637.3" y="421.3" font-size="8.3" text-anchor="middle">Fraction of cells</text>
<text x="637.3" y="429" font-size="8.3" text-anchor="middle">in group (%)</text>
<circle cx="621" cy="439.6" r="5.9" fill="#808080" stroke="#222" stroke-width="0.6"/>
<line x1="621" y1="446.1" x2="621" y2="449.1" stroke="#222" stroke-width="0.7"/>
<text x="621" y="459.1" font-size="8" text-anchor="middle">5</text>
<text x="637.3" y="476.6" font-size="8" text-anchor="middle">Mean expression</text>
<text x="637.3" y="484.7" font-size="8" text-anchor="middle">in group</text>
<rect x="606.6" y="489.7" width="57.5" height="8" fill="url(#gh)" stroke="#222" stroke-width="0.6"/>
<line x1="606.6" y1="497.7" x2="606.6" y2="499.6" stroke="#222" stroke-width="0.6"/>
<text x="606.6" y="509.5" font-size="8.3" text-anchor="middle">0.0</text>
<line x1="643.4" y1="497.7" x2="643.4" y2="499.6" stroke="#222" stroke-width="0.6"/>
<text x="643.4" y="509.5" font-size="8.3" text-anchor="middle">0.05</text>
<text x="19" y="536.8" font-size="14" font-weight="bold" fill="#000">g</text>
<text x="31.5" y="536.6" font-size="10" fill="#111">CCL22</text>
<rect x="86.5" y="543.4" width="135.2" height="96" fill="#fff" stroke="#222" stroke-width="0.9"/>
<text x="81.5" y="536.9" font-size="10" fill="#111">Infected</text>
<line x1="83.5" y1="557.2" x2="86.5" y2="557.2" stroke="#222" stroke-width="0.8"/>
<text x="82.5" y="560" font-size="8" text-anchor="end">AS-DC</text>
<line x1="83.5" y1="571" x2="86.5" y2="571" stroke="#222" stroke-width="0.8"/>
<text x="82.5" y="573.8" font-size="8" text-anchor="end">DC CD69<tspan font-size="5" dy="-3">+</tspan><tspan dy="3"> ITGAE</tspan><tspan font-size="5" dy="-3">+</tspan></text>
<line x1="83.5" y1="584.8" x2="86.5" y2="584.8" stroke="#222" stroke-width="0.8"/>
<text x="82.5" y="587.6" font-size="8" text-anchor="end">Monocyte</text>
<line x1="83.5" y1="598.6" x2="86.5" y2="598.6" stroke="#222" stroke-width="0.8"/>
<text x="82.5" y="601.4" font-size="8" text-anchor="end">cDC1</text>
<line x1="83.5" y1="612.4" x2="86.5" y2="612.4" stroke="#222" stroke-width="0.8"/>
<text x="82.5" y="615.2" font-size="8" text-anchor="end">cDC2</text>
<line x1="83.5" y1="626.2" x2="86.5" y2="626.2" stroke="#222" stroke-width="0.8"/>
<text x="82.5" y="629" font-size="8" text-anchor="end">pDC</text>
<line x1="100.5" y1="639.4" x2="100.5" y2="642.4" stroke="#222" stroke-width="0.8"/>
<text x="103.3" y="650.4" font-size="8" text-anchor="middle" fill="#1a1a1a" transform="rotate(-90 103.3 650.4)">-1</text>
<line x1="118.25" y1="639.4" x2="118.25" y2="642.4" stroke="#222" stroke-width="0.8"/>
<text x="121.05" y="650.4" font-size="8" text-anchor="middle" fill="#1a1a1a" transform="rotate(-90 121.05 650.4)">1</text>
<line x1="136" y1="639.4" x2="136" y2="642.4" stroke="#222" stroke-width="0.8"/>
<text x="138.8" y="650.4" font-size="8" text-anchor="middle" fill="#1a1a1a" transform="rotate(-90 138.8 650.4)">3</text>
<line x1="153.75" y1="639.4" x2="153.75" y2="642.4" stroke="#222" stroke-width="0.8"/>
<text x="156.55" y="650.4" font-size="8" text-anchor="middle" fill="#1a1a1a" transform="rotate(-90 156.55 650.4)">5</text>
<line x1="171.5" y1="639.4" x2="171.5" y2="642.4" stroke="#222" stroke-width="0.8"/>
<text x="174.3" y="650.4" font-size="8" text-anchor="middle" fill="#1a1a1a" transform="rotate(-90 174.3 650.4)">7</text>
<line x1="189.25" y1="639.4" x2="189.25" y2="642.4" stroke="#222" stroke-width="0.8"/>
<text x="192.05" y="650.4" font-size="8" text-anchor="middle" fill="#1a1a1a" transform="rotate(-90 192.05 650.4)">10</text>
<line x1="207" y1="639.4" x2="207" y2="642.4" stroke="#222" stroke-width="0.8"/>
<text x="209.8" y="650.4" font-size="8" text-anchor="middle" fill="#1a1a1a" transform="rotate(-90 209.8 650.4)">14</text>
<circle cx="189.25" cy="571" r="0.65" fill="#333" stroke="#111" stroke-width="0.5"/>
<circle cx="171.5" cy="584.8" r="0.6" fill="#555" stroke="#111" stroke-width="0.5"/>
<circle cx="189.25" cy="584.8" r="0.6" fill="#555" stroke="#111" stroke-width="0.5"/>
<circle cx="153.75" cy="598.6" r="1.2" fill="#111" stroke="#111" stroke-width="0.5"/>
<circle cx="100.5" cy="612.4" r="0.7" fill="#333" stroke="#111" stroke-width="0.5"/>
<circle cx="171.5" cy="612.4" r="0.8" fill="#111" stroke="#111" stroke-width="0.5"/>
<circle cx="189.25" cy="612.4" r="0.6" fill="#555" stroke="#111" stroke-width="0.5"/>
<circle cx="207" cy="612.4" r="0.6" fill="#555" stroke="#111" stroke-width="0.5"/>
<rect x="221.7" y="553" width="3.3" height="8.4" fill="#008000" stroke="#111" stroke-width="0.5"/>
<text x="228" y="557.9" font-size="8.3" fill="#1a1a1a">53</text>
<rect x="221.7" y="566.8" width="6.29" height="8.4" fill="#008000" stroke="#111" stroke-width="0.5"/>
<text x="230.99" y="571.7" font-size="8.3" fill="#1a1a1a">101</text>
<rect x="221.7" y="580.6" width="21.94" height="8.4" fill="#008000" stroke="#111" stroke-width="0.5"/>
<text x="246.64" y="585.5" font-size="8.3" fill="#1a1a1a">352</text>
<rect x="221.7" y="594.4" width="5.55" height="8.4" fill="#008000" stroke="#111" stroke-width="0.5"/>
<text x="230.25" y="599.3" font-size="8.3" fill="#1a1a1a">89</text>
<rect x="221.7" y="608.2" width="25.8" height="8.4" fill="#008000" stroke="#111" stroke-width="0.5"/>
<text x="250.5" y="613.1" font-size="8.3" fill="#1a1a1a">414</text>
<rect x="221.7" y="622" width="21.56" height="8.4" fill="#008000" stroke="#111" stroke-width="0.5"/>
<text x="246.26" y="626.9" font-size="8.3" fill="#1a1a1a">346</text>
<text x="304" y="563.1" font-size="8.3" text-anchor="middle">Fraction of cells</text>
<text x="304" y="570.8" font-size="8.3" text-anchor="middle">in group (%)</text>
<circle cx="277.4" cy="581.6" r="2.1" fill="#808080" stroke="#222" stroke-width="0.6"/>
<line x1="277.4" y1="588.9" x2="277.4" y2="591.4" stroke="#222" stroke-width="0.7"/>
<circle cx="288.7" cy="581.6" r="3.15" fill="#808080" stroke="#222" stroke-width="0.6"/>
<line x1="288.7" y1="588.9" x2="288.7" y2="591.4" stroke="#222" stroke-width="0.7"/>
<circle cx="300" cy="581.6" r="4.15" fill="#808080" stroke="#222" stroke-width="0.6"/>
<line x1="300" y1="588.9" x2="300" y2="591.4" stroke="#222" stroke-width="0.7"/>
<circle cx="311" cy="581.6" r="5.05" fill="#808080" stroke="#222" stroke-width="0.6"/>
<line x1="311" y1="588.9" x2="311" y2="591.4" stroke="#222" stroke-width="0.7"/>
<circle cx="322.9" cy="581.6" r="6" fill="#808080" stroke="#222" stroke-width="0.6"/>
<line x1="322.9" y1="588.9" x2="322.9" y2="591.4" stroke="#222" stroke-width="0.7"/>
<text x="277.4" y="600.2" font-size="8.2" text-anchor="middle" fill="#1a1a1a">20</text>
<text x="288.7" y="600.2" font-size="8.2" text-anchor="middle" fill="#1a1a1a">40</text>
<text x="300" y="600.2" font-size="8.2" text-anchor="middle" fill="#1a1a1a">60</text>
<text x="311" y="600.2" font-size="8.2" text-anchor="middle" fill="#1a1a1a">80</text>
<text x="323.7" y="600.2" font-size="8.2" text-anchor="middle" fill="#1a1a1a">100</text>
<text x="304" y="618.4" font-size="8" text-anchor="middle">Mean expression</text>
<text x="304" y="626.5" font-size="8" text-anchor="middle">in group</text>
<rect x="273.3" y="631.5" width="57.5" height="8" fill="url(#gh)" stroke="#222" stroke-width="0.6"/>
<line x1="273.3" y1="639.5" x2="273.3" y2="641.4" stroke="#222" stroke-width="0.6"/>
<text x="273.3" y="651.3" font-size="8.3" text-anchor="middle">0.0</text>
<line x1="318.73" y1="639.5" x2="318.73" y2="641.4" stroke="#222" stroke-width="0.6"/>
<text x="318.73" y="651.3" font-size="8.3" text-anchor="middle">0.1</text>
<rect x="424.5" y="542.9" width="135.2" height="96" fill="#fff" stroke="#222" stroke-width="0.9"/>
<text x="417.1" y="536.4" font-size="10" fill="#111">Uninfected</text>
<line x1="421.5" y1="556.7" x2="424.5" y2="556.7" stroke="#222" stroke-width="0.8"/>
<text x="420.5" y="559.5" font-size="8" text-anchor="end">AS-DC</text>
<line x1="421.5" y1="570.5" x2="424.5" y2="570.5" stroke="#222" stroke-width="0.8"/>
<text x="420.5" y="573.3" font-size="8" text-anchor="end">DC CD69<tspan font-size="5" dy="-3">+</tspan><tspan dy="3"> ITGAE</tspan><tspan font-size="5" dy="-3">+</tspan></text>
<line x1="421.5" y1="584.3" x2="424.5" y2="584.3" stroke="#222" stroke-width="0.8"/>
<text x="420.5" y="587.1" font-size="8" text-anchor="end">Monocyte</text>
<line x1="421.5" y1="598.1" x2="424.5" y2="598.1" stroke="#222" stroke-width="0.8"/>
<text x="420.5" y="600.9" font-size="8" text-anchor="end">cDC1</text>
<line x1="421.5" y1="611.9" x2="424.5" y2="611.9" stroke="#222" stroke-width="0.8"/>
<text x="420.5" y="614.7" font-size="8" text-anchor="end">cDC2</text>
<line x1="421.5" y1="625.7" x2="424.5" y2="625.7" stroke="#222" stroke-width="0.8"/>
<text x="420.5" y="628.5" font-size="8" text-anchor="end">pDC</text>
<line x1="438.5" y1="638.9" x2="438.5" y2="641.9" stroke="#222" stroke-width="0.8"/>
<text x="441.3" y="649.9" font-size="8" text-anchor="middle" fill="#1a1a1a" transform="rotate(-90 441.3 649.9)">-1</text>
<line x1="456.25" y1="638.9" x2="456.25" y2="641.9" stroke="#222" stroke-width="0.8"/>
<text x="459.05" y="649.9" font-size="8" text-anchor="middle" fill="#1a1a1a" transform="rotate(-90 459.05 649.9)">1</text>
<line x1="474" y1="638.9" x2="474" y2="641.9" stroke="#222" stroke-width="0.8"/>
<text x="476.8" y="649.9" font-size="8" text-anchor="middle" fill="#1a1a1a" transform="rotate(-90 476.8 649.9)">3</text>
<line x1="491.75" y1="638.9" x2="491.75" y2="641.9" stroke="#222" stroke-width="0.8"/>
<text x="494.55" y="649.9" font-size="8" text-anchor="middle" fill="#1a1a1a" transform="rotate(-90 494.55 649.9)">5</text>
<line x1="509.5" y1="638.9" x2="509.5" y2="641.9" stroke="#222" stroke-width="0.8"/>
<text x="512.3" y="649.9" font-size="8" text-anchor="middle" fill="#1a1a1a" transform="rotate(-90 512.3 649.9)">7</text>
<line x1="527.25" y1="638.9" x2="527.25" y2="641.9" stroke="#222" stroke-width="0.8"/>
<text x="530.05" y="649.9" font-size="8" text-anchor="middle" fill="#1a1a1a" transform="rotate(-90 530.05 649.9)">10</text>
<line x1="545" y1="638.9" x2="545" y2="641.9" stroke="#222" stroke-width="0.8"/>
<text x="547.8" y="649.9" font-size="8" text-anchor="middle" fill="#1a1a1a" transform="rotate(-90 547.8 649.9)">14</text>
<circle cx="438.5" cy="570.5" r="2.3" fill="#74c476" stroke="#111" stroke-width="0.5"/>
<circle cx="456.25" cy="570.5" r="3.1" fill="#5db96b" stroke="#111" stroke-width="0.5"/>
<circle cx="509.5" cy="570.5" r="1.8" fill="#41ab5d" stroke="#111" stroke-width="0.5"/>
<circle cx="527.25" cy="570.5" r="1.7" fill="#0b4d22" stroke="#111" stroke-width="0.5"/>
<circle cx="545" cy="570.5" r="1.5" fill="#a1d99b" stroke="#111" stroke-width="0.5"/>
<circle cx="456.25" cy="584.3" r="1.9" fill="#5db96b" stroke="#111" stroke-width="0.5"/>
<circle cx="474" cy="584.3" r="0.7" fill="#222" stroke="#111" stroke-width="0.5"/>
<circle cx="509.5" cy="584.3" r="0.7" fill="#222" stroke="#111" stroke-width="0.5"/>
<circle cx="527.25" cy="584.3" r="0.95" fill="#41ab5d" stroke="#111" stroke-width="0.5"/>
<circle cx="545" cy="584.3" r="1.25" fill="#a1d99b" stroke="#111" stroke-width="0.5"/>
<circle cx="491.75" cy="598.1" r="3.8" fill="#00441b" stroke="#111" stroke-width="0.5"/>
<circle cx="456.25" cy="611.9" r="2.3" fill="#2f9e4f" stroke="#111" stroke-width="0.5"/>
<circle cx="474" cy="611.9" r="2" fill="#a1d99b" stroke="#111" stroke-width="0.5"/>
<circle cx="491.75" cy="611.9" r="1.3" fill="#c7e9c0" stroke="#111" stroke-width="0.5"/>
<circle cx="509.5" cy="611.9" r="1.8" fill="#3a9a55" stroke="#111" stroke-width="0.5"/>
<circle cx="527.25" cy="611.9" r="2.5" fill="#5db96b" stroke="#111" stroke-width="0.5"/>
<circle cx="545" cy="611.9" r="0.7" fill="#222" stroke="#111" stroke-width="0.5"/>
<rect x="559.7" y="552.5" width="0.86" height="8.4" fill="#008000" stroke="#111" stroke-width="0.5"/>
<text x="564.7" y="557.4" font-size="8.3" fill="#1a1a1a">17</text>
<rect x="559.7" y="566.3" width="3.07" height="8.4" fill="#008000" stroke="#111" stroke-width="0.5"/>
<text x="565.77" y="571.2" font-size="8.3" fill="#1a1a1a">61</text>
<rect x="559.7" y="580.1" width="26" height="8.4" fill="#008000" stroke="#111" stroke-width="0.5"/>
<text x="588.7" y="585" font-size="8.3" fill="#1a1a1a">516</text>
<rect x="559.7" y="593.9" width="0.8" height="8.4" fill="#008000" stroke="#111" stroke-width="0.5"/>
<text x="564.7" y="598.8" font-size="8.3" fill="#1a1a1a">13</text>
<rect x="559.7" y="607.7" width="17.74" height="8.4" fill="#008000" stroke="#111" stroke-width="0.5"/>
<text x="580.44" y="612.6" font-size="8.3" fill="#1a1a1a">352</text>
<rect x="559.7" y="621.5" width="3.07" height="8.4" fill="#008000" stroke="#111" stroke-width="0.5"/>
<text x="565.77" y="626.4" font-size="8.3" fill="#1a1a1a">61</text>
<text x="641.7" y="562.6" font-size="8.3" text-anchor="middle">Fraction of cells</text>
<text x="641.7" y="570.3" font-size="8.3" text-anchor="middle">in group (%)</text>
<circle cx="615.1" cy="581.1" r="2.1" fill="#808080" stroke="#222" stroke-width="0.6"/>
<line x1="615.1" y1="588.4" x2="615.1" y2="590.9" stroke="#222" stroke-width="0.7"/>
<circle cx="626.4" cy="581.1" r="3.15" fill="#808080" stroke="#222" stroke-width="0.6"/>
<line x1="626.4" y1="588.4" x2="626.4" y2="590.9" stroke="#222" stroke-width="0.7"/>
<circle cx="637.7" cy="581.1" r="4.15" fill="#808080" stroke="#222" stroke-width="0.6"/>
<line x1="637.7" y1="588.4" x2="637.7" y2="590.9" stroke="#222" stroke-width="0.7"/>
<circle cx="648.7" cy="581.1" r="5.05" fill="#808080" stroke="#222" stroke-width="0.6"/>
<line x1="648.7" y1="588.4" x2="648.7" y2="590.9" stroke="#222" stroke-width="0.7"/>
<circle cx="660.6" cy="581.1" r="6" fill="#808080" stroke="#222" stroke-width="0.6"/>
<line x1="660.6" y1="588.4" x2="660.6" y2="590.9" stroke="#222" stroke-width="0.7"/>
<text x="615.1" y="599.7" font-size="8.2" text-anchor="middle" fill="#1a1a1a">20</text>
<text x="626.4" y="599.7" font-size="8.2" text-anchor="middle" fill="#1a1a1a">40</text>
<text x="637.7" y="599.7" font-size="8.2" text-anchor="middle" fill="#1a1a1a">60</text>
<text x="648.7" y="599.7" font-size="8.2" text-anchor="middle" fill="#1a1a1a">80</text>
<text x="661.4" y="599.7" font-size="8.2" text-anchor="middle" fill="#1a1a1a">100</text>
<text x="641.7" y="617.9" font-size="8" text-anchor="middle">Mean expression</text>
<text x="641.7" y="626" font-size="8" text-anchor="middle">in group</text>
<rect x="611" y="631" width="57.5" height="8" fill="url(#gh)" stroke="#222" stroke-width="0.6"/>
<line x1="611" y1="639" x2="611" y2="640.9" stroke="#222" stroke-width="0.6"/>
<text x="611" y="650.8" font-size="8.3" text-anchor="middle">0.0</text>
<line x1="651.25" y1="639" x2="651.25" y2="640.9" stroke="#222" stroke-width="0.6"/>
<text x="651.25" y="650.8" font-size="8.3" text-anchor="middle">0.5</text>
<text x="19.5" y="692.8" font-size="14" font-weight="bold" fill="#000">h</text>
<circle cx="79.3" cy="694.3" r="2.3" fill="none" stroke="#f0462a" stroke-width="1"/>
<text x="91.7" y="698.3" font-size="11" fill="#111">Infected</text>
<polygon points="163,692.03 160.7,696.01 165.3,696.01" fill="none" stroke="#888" stroke-width="0.8"/>
<text x="175" y="698.3" font-size="11" fill="#111">Transient</text>
<rect x="253.8" y="692.2" width="4.2" height="4.2" fill="none" stroke="#3a6ef0" stroke-width="0.9"/>
<text x="267" y="698.3" font-size="11" fill="#111">Abortive</text>
<line x1="71.3" y1="718.4" x2="71.3" y2="835" stroke="#555" stroke-width="1.3"/>
<line x1="71.3" y1="835" x2="128.8" y2="835" stroke="#555" stroke-width="1.3"/>
<line x1="66.8" y1="835" x2="71.3" y2="835" stroke="#555" stroke-width="1.2"/>
<text x="65" y="838.3" font-size="9.4" text-anchor="end">0.0</text>
<line x1="66.8" y1="805.7" x2="71.3" y2="805.7" stroke="#555" stroke-width="1.2"/>
<text x="65" y="809" font-size="9.4" text-anchor="end">0.5</text>
<line x1="66.8" y1="776.4" x2="71.3" y2="776.4" stroke="#555" stroke-width="1.2"/>
<text x="65" y="779.7" font-size="9.4" text-anchor="end">1.0</text>
<line x1="66.8" y1="747.1" x2="71.3" y2="747.1" stroke="#555" stroke-width="1.2"/>
<text x="65" y="750.4" font-size="9.4" text-anchor="end">1.5</text>
<line x1="66.8" y1="717.8" x2="71.3" y2="717.8" stroke="#555" stroke-width="1.2"/>
<text x="65" y="721.1" font-size="9.4" text-anchor="end">2.0</text>
<line x1="87.4" y1="835" x2="87.4" y2="840" stroke="#555" stroke-width="1.2"/>
<line x1="112.3" y1="835" x2="112.3" y2="840" stroke="#555" stroke-width="1.2"/>
<text x="90.6" y="847.5" font-size="9.4" text-anchor="end" transform="rotate(-45 90.6 847.5)">Infected</text>
<text x="115.5" y="847.5" font-size="9.4" text-anchor="end" transform="rotate(-45 115.5 847.5)">Uninfected</text>
<text x="33.5" y="776" font-size="9.5" text-anchor="middle" fill="#111" transform="rotate(-90 33.5 776)">CD1c<tspan font-size="6.5" dy="-4">-</tspan><tspan dy="4"> DCs (% of total</tspan></text>
<text x="47" y="776" font-size="9.6" text-anchor="middle" fill="#111" transform="rotate(-90 47 776)">CD3/CD19/CD56<tspan font-size="6.5" dy="-4">-</tspan><tspan dy="4">)</tspan></text>
<text x="100" y="725.3" font-size="6.4" text-anchor="middle">0.0130</text>
<polyline points="87.4,736.8 87.4,730.3 112.3,730.3 112.3,736.8" fill="none" stroke="#333" stroke-width="1.1"/>
<line x1="87.4" y1="749.44" x2="87.4" y2="799.9" stroke="#f0462a" stroke-width="1"/>
<line x1="87.4" y1="825" x2="87.4" y2="828.55" stroke="#f0462a" stroke-width="1"/>
<line x1="83.4" y1="749.44" x2="91.4" y2="749.44" stroke="#f0462a" stroke-width="1"/>
<line x1="83.4" y1="828.55" x2="91.4" y2="828.55" stroke="#f0462a" stroke-width="1"/>
<rect x="79.2" y="799.9" width="16.4" height="25.1" fill="none" stroke="#f0462a" stroke-width="1"/>
<line x1="79.2" y1="815.5" x2="95.6" y2="815.5" stroke="#f0462a" stroke-width="1"/>
<circle cx="87.4" cy="749.44" r="2.1" fill="none" stroke="#f0462a" stroke-width="0.9"/>
<circle cx="87.4" cy="784.02" r="2.1" fill="none" stroke="#f0462a" stroke-width="0.9"/>
<circle cx="87.4" cy="789.29" r="2.1" fill="none" stroke="#f0462a" stroke-width="0.9"/>
<circle cx="87.4" cy="798.08" r="2.1" fill="none" stroke="#f0462a" stroke-width="0.9"/>
<circle cx="87.4" cy="802.77" r="2.1" fill="none" stroke="#f0462a" stroke-width="0.9"/>
<circle cx="80.7" cy="813.32" r="2.1" fill="none" stroke="#f0462a" stroke-width="0.9"/>
<circle cx="84" cy="815.66" r="2.1" fill="none" stroke="#f0462a" stroke-width="0.9"/>
<circle cx="87.4" cy="815.66" r="2.1" fill="none" stroke="#f0462a" stroke-width="0.9"/>
<circle cx="90.8" cy="815.66" r="2.1" fill="none" stroke="#f0462a" stroke-width="0.9"/>
<circle cx="94.2" cy="813.32" r="2.1" fill="none" stroke="#f0462a" stroke-width="0.9"/>
<circle cx="91" cy="821.52" r="2.1" fill="none" stroke="#f0462a" stroke-width="0.9"/>
<circle cx="80.7" cy="823.87" r="2.1" fill="none" stroke="#f0462a" stroke-width="0.9"/>
<circle cx="84" cy="825.62" r="2.1" fill="none" stroke="#f0462a" stroke-width="0.9"/>
<circle cx="80.7" cy="827.97" r="2.1" fill="none" stroke="#f0462a" stroke-width="0.9"/>
<circle cx="87.4" cy="828.55" r="2.1" fill="none" stroke="#f0462a" stroke-width="0.9"/>
<circle cx="94.2" cy="827.97" r="2.1" fill="none" stroke="#f0462a" stroke-width="0.9"/>
<circle cx="90.8" cy="827.38" r="2.1" fill="none" stroke="#f0462a" stroke-width="0.9"/>
<circle cx="84" cy="827.97" r="2.1" fill="none" stroke="#f0462a" stroke-width="0.9"/>
<line x1="112.3" y1="743.58" x2="112.3" y2="752.96" stroke="#3a6ef0" stroke-width="1"/>
<line x1="112.3" y1="810.97" x2="112.3" y2="813.32" stroke="#3a6ef0" stroke-width="1"/>
<line x1="108.3" y1="743.58" x2="116.3" y2="743.58" stroke="#3a6ef0" stroke-width="1"/>
<line x1="108.3" y1="813.32" x2="116.3" y2="813.32" stroke="#3a6ef0" stroke-width="1"/>
<rect x="104.5" y="752.96" width="15.6" height="58.01" fill="none" stroke="#3a6ef0" stroke-width="1"/>
<line x1="104.5" y1="803.36" x2="120.1" y2="803.36" stroke="#3a6ef0" stroke-width="1"/>
<rect x="108.7" y="741.78" width="3.6" height="3.6" fill="none" stroke="#3a6ef0" stroke-width="0.9"/>
<rect x="110.5" y="751.16" width="3.6" height="3.6" fill="none" stroke="#3a6ef0" stroke-width="0.9"/>
<rect x="110.5" y="779.29" width="3.6" height="3.6" fill="none" stroke="#3a6ef0" stroke-width="0.9"/>
<rect x="107.6" y="802.14" width="3.6" height="3.6" fill="none" stroke="#3a6ef0" stroke-width="0.9"/>
<rect x="113.4" y="801.56" width="3.6" height="3.6" fill="none" stroke="#3a6ef0" stroke-width="0.9"/>
<rect x="110.5" y="810.93" width="3.6" height="3.6" fill="none" stroke="#3a6ef0" stroke-width="0.9"/>
<polygon points="114.8,742.02 112.8,745.49 116.8,745.49" fill="none" stroke="#999" stroke-width="0.8"/>
<polygon points="112.3,797.11 110.3,800.57 114.3,800.57" fill="none" stroke="#999" stroke-width="0.8"/>
<polygon points="106.5,810 104.5,813.46 108.5,813.46" fill="none" stroke="#999" stroke-width="0.8"/>
<polygon points="109.5,811.76 107.5,815.22 111.5,815.22" fill="none" stroke="#999" stroke-width="0.8"/>
<polygon points="117,810 115,813.46 119,813.46" fill="none" stroke="#999" stroke-width="0.8"/>
<line x1="185.7" y1="718.5" x2="185.7" y2="835" stroke="#555" stroke-width="1.3"/>
<line x1="185.7" y1="835" x2="245" y2="835" stroke="#555" stroke-width="1.3"/>
<line x1="181.2" y1="835" x2="185.7" y2="835" stroke="#555" stroke-width="1.2"/>
<text x="179.4" y="838.3" font-size="9.4" text-anchor="end">0.0</text>
<line x1="181.2" y1="811.7" x2="185.7" y2="811.7" stroke="#555" stroke-width="1.2"/>
<text x="179.4" y="815" font-size="9.4" text-anchor="end">0.1</text>
<line x1="181.2" y1="788.4" x2="185.7" y2="788.4" stroke="#555" stroke-width="1.2"/>
<text x="179.4" y="791.7" font-size="9.4" text-anchor="end">0.2</text>
<line x1="181.2" y1="765.1" x2="185.7" y2="765.1" stroke="#555" stroke-width="1.2"/>
<text x="179.4" y="768.4" font-size="9.4" text-anchor="end">0.3</text>
<line x1="181.2" y1="741.8" x2="185.7" y2="741.8" stroke="#555" stroke-width="1.2"/>
<text x="179.4" y="745.1" font-size="9.4" text-anchor="end">0.4</text>
<line x1="181.2" y1="718.5" x2="185.7" y2="718.5" stroke="#555" stroke-width="1.2"/>
<text x="179.4" y="721.8" font-size="9.4" text-anchor="end">0.5</text>
<line x1="202.3" y1="835" x2="202.3" y2="840" stroke="#555" stroke-width="1.2"/>
<line x1="227.3" y1="835" x2="227.3" y2="840" stroke="#555" stroke-width="1.2"/>
<text x="205.5" y="847.5" font-size="9.4" text-anchor="end" transform="rotate(-45 205.5 847.5)">Infected</text>
<text x="230.5" y="847.5" font-size="9.4" text-anchor="end" transform="rotate(-45 230.5 847.5)">Uninfected</text>
<text x="147.2" y="776" font-size="9.5" text-anchor="middle" fill="#111" transform="rotate(-90 147.2 776)">CD1c<tspan font-size="6.5" dy="-4">+</tspan><tspan dy="4"> DCs (% of total</tspan></text>
<text x="160.5" y="776" font-size="9.6" text-anchor="middle" fill="#111" transform="rotate(-90 160.5 776)">CD3/CD19/CD56<tspan font-size="6.5" dy="-4">-</tspan><tspan dy="4">)</tspan></text>
<text x="214.5" y="730.2" font-size="6.4" text-anchor="middle">0.0651</text>
<polyline points="202.3,741.6 202.3,734.6 227.3,734.6 227.3,741.6" fill="none" stroke="#333" stroke-width="1.1"/>
<line x1="202.3" y1="748.79" x2="202.3" y2="782.11" stroke="#f0462a" stroke-width="1"/>
<line x1="202.3" y1="819.39" x2="202.3" y2="830.34" stroke="#f0462a" stroke-width="1"/>
<line x1="198.3" y1="748.79" x2="206.3" y2="748.79" stroke="#f0462a" stroke-width="1"/>
<line x1="198.3" y1="830.34" x2="206.3" y2="830.34" stroke="#f0462a" stroke-width="1"/>
<rect x="194.25" y="782.11" width="16.1" height="37.28" fill="none" stroke="#f0462a" stroke-width="1"/>
<line x1="194.25" y1="805.88" x2="210.35" y2="805.88" stroke="#f0462a" stroke-width="1"/>
<circle cx="202.3" cy="748.79" r="2.1" fill="none" stroke="#f0462a" stroke-width="0.9"/>
<circle cx="202.3" cy="758.11" r="2.1" fill="none" stroke="#f0462a" stroke-width="0.9"/>
<circle cx="202.3" cy="765.1" r="2.1" fill="none" stroke="#f0462a" stroke-width="0.9"/>
<circle cx="202.3" cy="779.08" r="2.1" fill="none" stroke="#f0462a" stroke-width="0.9"/>
<circle cx="202.3" cy="790.73" r="2.1" fill="none" stroke="#f0462a" stroke-width="0.9"/>
<circle cx="202.3" cy="793.06" r="2.1" fill="none" stroke="#f0462a" stroke-width="0.9"/>
<circle cx="195.8" cy="804.71" r="2.1" fill="none" stroke="#f0462a" stroke-width="0.9"/>
<circle cx="199" cy="805.88" r="2.1" fill="none" stroke="#f0462a" stroke-width="0.9"/>
<circle cx="202.3" cy="805.88" r="2.1" fill="none" stroke="#f0462a" stroke-width="0.9"/>
<circle cx="205.6" cy="805.88" r="2.1" fill="none" stroke="#f0462a" stroke-width="0.9"/>
<circle cx="208.8" cy="804.71" r="2.1" fill="none" stroke="#f0462a" stroke-width="0.9"/>
<circle cx="202.3" cy="811.7" r="2.1" fill="none" stroke="#f0462a" stroke-width="0.9"/>
<circle cx="199" cy="816.36" r="2.1" fill="none" stroke="#f0462a" stroke-width="0.9"/>
<circle cx="205.6" cy="819.86" r="2.1" fill="none" stroke="#f0462a" stroke-width="0.9"/>
<circle cx="197" cy="819.86" r="2.1" fill="none" stroke="#f0462a" stroke-width="0.9"/>
<circle cx="199" cy="824.51" r="2.1" fill="none" stroke="#f0462a" stroke-width="0.9"/>
<circle cx="205.6" cy="825.68" r="2.1" fill="none" stroke="#f0462a" stroke-width="0.9"/>
<circle cx="202.3" cy="830.34" r="2.1" fill="none" stroke="#f0462a" stroke-width="0.9"/>
<line x1="227.3" y1="748.79" x2="227.3" y2="753.92" stroke="#3a6ef0" stroke-width="1"/>
<line x1="227.3" y1="801.68" x2="227.3" y2="817.52" stroke="#3a6ef0" stroke-width="1"/>
<line x1="223.3" y1="748.79" x2="231.3" y2="748.79" stroke="#3a6ef0" stroke-width="1"/>
<line x1="223.3" y1="817.52" x2="231.3" y2="817.52" stroke="#3a6ef0" stroke-width="1"/>
<rect x="219.45" y="753.92" width="15.7" height="47.76" fill="none" stroke="#3a6ef0" stroke-width="1"/>
<line x1="219.45" y1="781.41" x2="235.15" y2="781.41" stroke="#3a6ef0" stroke-width="1"/>
<polygon points="224.5,746.75 222.6,750.04 226.4,750.04" fill="none" stroke="#3a6ef0" stroke-width="0.9"/>
<polygon points="227.3,751.41 225.4,754.7 229.2,754.7" fill="none" stroke="#3a6ef0" stroke-width="0.9"/>
<polygon points="227.3,779.37 225.4,782.66 229.2,782.66" fill="none" stroke="#3a6ef0" stroke-width="0.9"/>
<polygon points="233,779.37 231.1,782.66 234.9,782.66" fill="none" stroke="#3a6ef0" stroke-width="0.9"/>
<polygon points="227.3,786.36 225.4,789.65 229.2,789.65" fill="none" stroke="#3a6ef0" stroke-width="0.9"/>
<polygon points="227.3,789.85 225.4,793.15 229.2,793.15" fill="none" stroke="#3a6ef0" stroke-width="0.9"/>
<polygon points="230,814.32 228.1,817.61 231.9,817.61" fill="none" stroke="#3a6ef0" stroke-width="0.9"/>
<polygon points="231,815.48 229.1,818.78 232.9,818.78" fill="none" stroke="#3a6ef0" stroke-width="0.9"/>
<polygon points="230,746.75 228.1,750.04 231.9,750.04" fill="none" stroke="#999" stroke-width="0.8"/>
<polygon points="221.5,777.04 219.6,780.33 223.4,780.33" fill="none" stroke="#999" stroke-width="0.8"/>
<polygon points="227.3,791.02 225.4,794.31 229.2,794.31" fill="none" stroke="#999" stroke-width="0.8"/>
<polygon points="227.3,800.34 225.4,803.63 229.2,803.63" fill="none" stroke="#999" stroke-width="0.8"/>
<polygon points="224,816.65 222.1,819.94 225.9,819.94" fill="none" stroke="#999" stroke-width="0.8"/>
<line x1="300" y1="718.5" x2="300" y2="835.2" stroke="#555" stroke-width="1.3"/>
<line x1="300" y1="835.2" x2="358.3" y2="835.2" stroke="#555" stroke-width="1.3"/>
<line x1="295.5" y1="835.2" x2="300" y2="835.2" stroke="#555" stroke-width="1.2"/>
<text x="293.7" y="838.5" font-size="9.4" text-anchor="end">0.0</text>
<line x1="295.5" y1="796.3" x2="300" y2="796.3" stroke="#555" stroke-width="1.2"/>
<text x="293.7" y="799.6" font-size="9.4" text-anchor="end">0.2</text>
<line x1="295.5" y1="757.4" x2="300" y2="757.4" stroke="#555" stroke-width="1.2"/>
<text x="293.7" y="760.7" font-size="9.4" text-anchor="end">0.4</text>
<line x1="295.5" y1="718.5" x2="300" y2="718.5" stroke="#555" stroke-width="1.2"/>
<text x="293.7" y="721.8" font-size="9.4" text-anchor="end">0.6</text>
<line x1="316.2" y1="835.2" x2="316.2" y2="840.2" stroke="#555" stroke-width="1.2"/>
<line x1="341.1" y1="835.2" x2="341.1" y2="840.2" stroke="#555" stroke-width="1.2"/>
<text x="319.4" y="847.7" font-size="9.4" text-anchor="end" transform="rotate(-45 319.4 847.7)">Infected</text>
<text x="344.3" y="847.7" font-size="9.4" text-anchor="end" transform="rotate(-45 344.3 847.7)">Uninfected</text>
<text x="261.5" y="778" font-size="9.5" text-anchor="middle" fill="#111" transform="rotate(-90 261.5 778)">CD123<tspan font-size="6.5" dy="-4">+</tspan><tspan dy="4"> pDC  (% of total</tspan></text>
<text x="274.5" y="778" font-size="9.6" text-anchor="middle" fill="#111" transform="rotate(-90 274.5 778)">CD3/CD19/CD56<tspan font-size="6.5" dy="-4">-</tspan><tspan dy="4">)</tspan></text>
<text x="328.8" y="719.3" font-size="6.4" text-anchor="middle">0.2554</text>
<polyline points="316.2,731.1 316.2,724.1 341.1,724.1 341.1,731.1" fill="none" stroke="#333" stroke-width="1.1"/>
<line x1="316.2" y1="738.53" x2="316.2" y2="787.55" stroke="#f0462a" stroke-width="1"/>
<line x1="316.2" y1="820.61" x2="316.2" y2="826.45" stroke="#f0462a" stroke-width="1"/>
<line x1="312.2" y1="738.53" x2="320.2" y2="738.53" stroke="#f0462a" stroke-width="1"/>
<line x1="312.2" y1="826.45" x2="320.2" y2="826.45" stroke="#f0462a" stroke-width="1"/>
<rect x="308.05" y="787.55" width="16.3" height="33.07" fill="none" stroke="#f0462a" stroke-width="1"/>
<line x1="308.05" y1="813.03" x2="324.35" y2="813.03" stroke="#f0462a" stroke-width="1"/>
<circle cx="316.2" cy="738.53" r="2.1" fill="none" stroke="#f0462a" stroke-width="0.9"/>
<circle cx="316.2" cy="747.68" r="2.1" fill="none" stroke="#f0462a" stroke-width="0.9"/>
<circle cx="316.2" cy="767.12" r="2.1" fill="none" stroke="#f0462a" stroke-width="0.9"/>
<circle cx="313" cy="788.52" r="2.1" fill="none" stroke="#f0462a" stroke-width="0.9"/>
<circle cx="319.5" cy="787.55" r="2.1" fill="none" stroke="#f0462a" stroke-width="0.9"/>
<circle cx="316.2" cy="800.19" r="2.1" fill="none" stroke="#f0462a" stroke-width="0.9"/>
<circle cx="313.5" cy="808.94" r="2.1" fill="none" stroke="#f0462a" stroke-width="0.9"/>
<circle cx="318.5" cy="807.97" r="2.1" fill="none" stroke="#f0462a" stroke-width="0.9"/>
<circle cx="312" cy="815.75" r="2.1" fill="none" stroke="#f0462a" stroke-width="0.9"/>
<circle cx="316.2" cy="817.7" r="2.1" fill="none" stroke="#f0462a" stroke-width="0.9"/>
<circle cx="320.5" cy="815.75" r="2.1" fill="none" stroke="#f0462a" stroke-width="0.9"/>
<circle cx="310.5" cy="818.67" r="2.1" fill="none" stroke="#f0462a" stroke-width="0.9"/>
<circle cx="313.5" cy="820.61" r="2.1" fill="none" stroke="#f0462a" stroke-width="0.9"/>
<circle cx="318.5" cy="820.61" r="2.1" fill="none" stroke="#f0462a" stroke-width="0.9"/>
<circle cx="322" cy="819.64" r="2.1" fill="none" stroke="#f0462a" stroke-width="0.9"/>
<circle cx="316.2" cy="823.53" r="2.1" fill="none" stroke="#f0462a" stroke-width="0.9"/>
<circle cx="313.5" cy="825.48" r="2.1" fill="none" stroke="#f0462a" stroke-width="0.9"/>
<circle cx="316.2" cy="826.45" r="2.1" fill="none" stroke="#f0462a" stroke-width="0.9"/>
<line x1="341.1" y1="780.74" x2="341.1" y2="796.3" stroke="#3a6ef0" stroke-width="1"/>
<line x1="341.1" y1="811.86" x2="341.1" y2="816.72" stroke="#3a6ef0" stroke-width="1"/>
<line x1="337.1" y1="780.74" x2="345.1" y2="780.74" stroke="#3a6ef0" stroke-width="1"/>
<line x1="337.1" y1="816.72" x2="345.1" y2="816.72" stroke="#3a6ef0" stroke-width="1"/>
<rect x="332.95" y="796.3" width="16.3" height="15.56" fill="none" stroke="#3a6ef0" stroke-width="1"/>
<line x1="332.95" y1="795.72" x2="349.25" y2="795.72" stroke="#3a6ef0" stroke-width="1"/>
<rect x="339.4" y="779.04" width="3.4" height="3.4" fill="none" stroke="#3a6ef0" stroke-width="0.9"/>
<rect x="339.4" y="784.88" width="3.4" height="3.4" fill="none" stroke="#3a6ef0" stroke-width="0.9"/>
<rect x="339.4" y="791.68" width="3.4" height="3.4" fill="none" stroke="#3a6ef0" stroke-width="0.9"/>
<rect x="333.8" y="793.63" width="3.4" height="3.4" fill="none" stroke="#3a6ef0" stroke-width="0.9"/>
<rect x="336.3" y="794.6" width="3.4" height="3.4" fill="none" stroke="#3a6ef0" stroke-width="0.9"/>
<rect x="339.4" y="810.16" width="3.4" height="3.4" fill="none" stroke="#3a6ef0" stroke-width="0.9"/>
<rect x="339.4" y="814.05" width="3.4" height="3.4" fill="none" stroke="#3a6ef0" stroke-width="0.9"/>
<rect x="339.4" y="815.02" width="3.4" height="3.4" fill="none" stroke="#3a6ef0" stroke-width="0.9"/>
<polygon points="346,793.29 344.1,796.58 347.9,796.58" fill="none" stroke="#999" stroke-width="0.8"/>
<polygon points="349,794.26 347.1,797.55 350.9,797.55" fill="none" stroke="#999" stroke-width="0.8"/>
<polygon points="343.5,798.15 341.6,801.44 345.4,801.44" fill="none" stroke="#999" stroke-width="0.8"/>
<polygon points="343.5,805.93 341.6,809.22 345.4,809.22" fill="none" stroke="#999" stroke-width="0.8"/>
<polygon points="345.5,809.82 343.6,813.11 347.4,813.11" fill="none" stroke="#999" stroke-width="0.8"/>
<polygon points="343.5,812.74 341.6,816.03 345.4,816.03" fill="none" stroke="#999" stroke-width="0.8"/>
<text x="378.5" y="692.9" font-size="14" font-weight="bold" fill="#000">i</text>
<line x1="417.5" y1="730.9" x2="417.5" y2="838.4" stroke="#333" stroke-width="1.1"/>
<line x1="417.5" y1="838.4" x2="525" y2="838.4" stroke="#333" stroke-width="1.1"/>
<line x1="417.5" y1="730.9" x2="525" y2="730.9" stroke="#555" stroke-width="1"/>
<line x1="525" y1="730.9" x2="525" y2="838.4" stroke="#555" stroke-width="1"/>
<line x1="413.3" y1="838.4" x2="417.5" y2="838.4" stroke="#333" stroke-width="1.1"/>
<text x="413" y="841.8" font-size="9.4" text-anchor="end">0.0</text>
<line x1="413.3" y1="816.9" x2="417.5" y2="816.9" stroke="#333" stroke-width="1.1"/>
<text x="413" y="820.3" font-size="9.4" text-anchor="end">0.5</text>
<line x1="413.3" y1="795.4" x2="417.5" y2="795.4" stroke="#333" stroke-width="1.1"/>
<text x="413" y="798.8" font-size="9.4" text-anchor="end">1.0</text>
<line x1="413.3" y1="773.9" x2="417.5" y2="773.9" stroke="#333" stroke-width="1.1"/>
<text x="413" y="777.3" font-size="9.4" text-anchor="end">1.5</text>
<line x1="413.3" y1="752.4" x2="417.5" y2="752.4" stroke="#333" stroke-width="1.1"/>
<text x="413" y="755.8" font-size="9.4" text-anchor="end">2.0</text>
<line x1="413.3" y1="730.9" x2="417.5" y2="730.9" stroke="#333" stroke-width="1.1"/>
<text x="413" y="734.3" font-size="9.4" text-anchor="end">2.5</text>
<line x1="417.5" y1="838.4" x2="417.5" y2="842.3" stroke="#333" stroke-width="1.1"/>
<text x="417.5" y="852.9" font-size="9.4" text-anchor="middle">0</text>
<line x1="439.02" y1="838.4" x2="439.02" y2="842.3" stroke="#333" stroke-width="1.1"/>
<text x="439.02" y="852.9" font-size="9.4" text-anchor="middle">20</text>
<line x1="460.54" y1="838.4" x2="460.54" y2="842.3" stroke="#333" stroke-width="1.1"/>
<text x="460.54" y="852.9" font-size="9.4" text-anchor="middle">40</text>
<line x1="482.06" y1="838.4" x2="482.06" y2="842.3" stroke="#333" stroke-width="1.1"/>
<text x="482.06" y="852.9" font-size="9.4" text-anchor="middle">60</text>
<line x1="503.58" y1="838.4" x2="503.58" y2="842.3" stroke="#333" stroke-width="1.1"/>
<text x="503.58" y="852.9" font-size="9.4" text-anchor="middle">80</text>
<line x1="525.1" y1="838.4" x2="525.1" y2="842.3" stroke="#333" stroke-width="1.1"/>
<text x="525.1" y="852.9" font-size="9.4" text-anchor="middle">100</text>
<text x="474.2" y="865.4" font-size="9.5" text-anchor="middle" fill="#111">CCL13 (pg/ml)</text>
<text x="393.6" y="782" font-size="9.3" text-anchor="middle" fill="#111" transform="rotate(-90 393.6 782)">cDC (% of total)</text>
<text x="474.5" y="742.1" font-size="9.5" text-anchor="middle" fill="#111">r = 0.486 p = 0.0101</text>
<line x1="419.3" y1="815.1" x2="502.5" y2="759.6" stroke="#222" stroke-width="1"/>
<circle cx="502.5" cy="755.5" r="1.3" fill="#000"/>
<circle cx="426.9" cy="762.8" r="1.3" fill="#000"/>
<circle cx="448.9" cy="761.4" r="1.3" fill="#000"/>
<circle cx="436.4" cy="768.6" r="1.3" fill="#000"/>
<circle cx="444.4" cy="780.8" r="1.3" fill="#000"/>
<circle cx="433.9" cy="795.4" r="1.3" fill="#000"/>
<circle cx="447" cy="795.1" r="1.3" fill="#000"/>
<circle cx="419" cy="803.7" r="1.3" fill="#000"/>
<circle cx="427.3" cy="800.9" r="1.3" fill="#000"/>
<circle cx="432.4" cy="800.5" r="1.3" fill="#000"/>
<circle cx="428.1" cy="804.1" r="1.3" fill="#000"/>
<circle cx="418.6" cy="814.3" r="1.3" fill="#000"/>
<circle cx="420" cy="816.2" r="1.3" fill="#000"/>
<circle cx="421.9" cy="816.8" r="1.3" fill="#000"/>
<circle cx="424.8" cy="816.1" r="1.3" fill="#000"/>
<circle cx="424.4" cy="818.7" r="1.3" fill="#000"/>
<circle cx="427.8" cy="812.4" r="1.3" fill="#000"/>
<circle cx="428.4" cy="813.2" r="1.3" fill="#000"/>
<circle cx="432.4" cy="813.3" r="1.3" fill="#000"/>
<circle cx="429.5" cy="819.2" r="1.3" fill="#000"/>
<circle cx="444.8" cy="819.9" r="1.3" fill="#000"/>
<circle cx="471.4" cy="811.9" r="1.3" fill="#000"/>
<circle cx="423.7" cy="831.1" r="1.3" fill="#000"/>
<circle cx="425.1" cy="830.8" r="1.3" fill="#000"/>
<circle cx="426.6" cy="830.4" r="1.3" fill="#000"/>
<circle cx="428.8" cy="827.5" r="1.3" fill="#000"/>
<circle cx="430.2" cy="828.5" r="1.3" fill="#000"/>
<text x="535" y="692.9" font-size="14" font-weight="bold" fill="#000">j</text>
<line x1="569.6" y1="732" x2="569.6" y2="839.6" stroke="#333" stroke-width="1.1"/>
<line x1="569.6" y1="839.6" x2="677.2" y2="839.6" stroke="#333" stroke-width="1.1"/>
<line x1="569.6" y1="732" x2="677.2" y2="732" stroke="#555" stroke-width="1"/>
<line x1="677.2" y1="732" x2="677.2" y2="839.6" stroke="#555" stroke-width="1"/>
<line x1="565.6" y1="839.6" x2="569.6" y2="839.6" stroke="#333" stroke-width="1.1"/>
<text x="565.6" y="843" font-size="9.4" text-anchor="end">7.5</text>
<line x1="565.6" y1="821.65" x2="569.6" y2="821.65" stroke="#333" stroke-width="1.1"/>
<text x="565.6" y="825.05" font-size="9.4" text-anchor="end">8.0</text>
<line x1="565.6" y1="803.7" x2="569.6" y2="803.7" stroke="#333" stroke-width="1.1"/>
<text x="565.6" y="807.1" font-size="9.4" text-anchor="end">8.5</text>
<line x1="565.6" y1="785.75" x2="569.6" y2="785.75" stroke="#333" stroke-width="1.1"/>
<text x="565.6" y="789.15" font-size="9.4" text-anchor="end">9.0</text>
<line x1="565.6" y1="767.8" x2="569.6" y2="767.8" stroke="#333" stroke-width="1.1"/>
<text x="565.6" y="771.2" font-size="9.4" text-anchor="end">9.5</text>
<line x1="565.6" y1="749.85" x2="569.6" y2="749.85" stroke="#333" stroke-width="1.1"/>
<text x="565.6" y="753.25" font-size="9.4" text-anchor="end">10.0</text>
<line x1="565.6" y1="731.9" x2="569.6" y2="731.9" stroke="#333" stroke-width="1.1"/>
<text x="565.6" y="735.3" font-size="9.4" text-anchor="end">10.5</text>
<line x1="569.6" y1="839.6" x2="569.6" y2="843.3" stroke="#333" stroke-width="1.1"/>
<text x="569.6" y="853" font-size="9.4" text-anchor="middle">0.0</text>
<line x1="596.48" y1="839.6" x2="596.48" y2="843.3" stroke="#333" stroke-width="1.1"/>
<text x="596.48" y="853" font-size="9.4" text-anchor="middle">0.5</text>
<line x1="623.35" y1="839.6" x2="623.35" y2="843.3" stroke="#333" stroke-width="1.1"/>
<text x="623.35" y="853" font-size="9.4" text-anchor="middle">1.0</text>
<line x1="650.23" y1="839.6" x2="650.23" y2="843.3" stroke="#333" stroke-width="1.1"/>
<text x="650.23" y="853" font-size="9.4" text-anchor="middle">1.5</text>
<line x1="677.1" y1="839.6" x2="677.1" y2="843.3" stroke="#333" stroke-width="1.1"/>
<text x="677.1" y="853" font-size="9.4" text-anchor="middle">2.0</text>
<text x="627.3" y="865.2" font-size="9.8" text-anchor="middle" fill="#111">Frequency of cDC</text>
<text x="625.5" y="876.2" font-size="9.8" text-anchor="middle" fill="#111">(% of total)</text>
<text x="543.1" y="782.4" font-size="9.5" text-anchor="middle" fill="#111" transform="rotate(-90 543.1 782.4)">Viral load feature</text>
<line x1="571.7" y1="689.3" x2="583.6" y2="689.3" stroke="#9b3cf5" stroke-width="1"/>
<circle cx="577.6" cy="689.3" r="1.2" fill="#9b3cf5"/>
<text x="590.9" y="692" font-size="9.6" fill="#111">Peak nasal qPCR</text>
<text x="590.9" y="703" font-size="9.6" fill="#111">r = -0.668 p = 0.0058</text>
<line x1="571.7" y1="713.4" x2="583.6" y2="713.4" stroke="#1e9a3e" stroke-width="1"/>
<circle cx="577.6" cy="713.4" r="1.2" fill="#1e9a3e"/>
<text x="590.9" y="716.4" font-size="9.6" fill="#111">AUC nasal qPCR</text>
<text x="590.9" y="727" font-size="9.6" fill="#111">r = -0.669 p = 0.0068</text>
<line x1="575.2" y1="767.1" x2="657.5" y2="819.3" stroke="#9b3cf5" stroke-width="1"/>
<line x1="575.2" y1="769.8" x2="657.5" y2="812.7" stroke="#1e9a3e" stroke-width="1"/>
<circle cx="601.8" cy="742.8" r="1.2" fill="#9b3cf5"/>
<circle cx="575.2" cy="755.9" r="1.2" fill="#9b3cf5"/>
<circle cx="580.4" cy="755" r="1.2" fill="#9b3cf5"/>
<circle cx="582" cy="766.8" r="1.2" fill="#9b3cf5"/>
<circle cx="583.4" cy="766.8" r="1.2" fill="#9b3cf5"/>
<circle cx="582.5" cy="772.9" r="1.2" fill="#9b3cf5"/>
<circle cx="593.9" cy="777.3" r="1.2" fill="#9b3cf5"/>
<circle cx="594.8" cy="777.7" r="1.2" fill="#9b3cf5"/>
<circle cx="600" cy="781.7" r="1.2" fill="#9b3cf5"/>
<circle cx="615.8" cy="783.1" r="1.2" fill="#9b3cf5"/>
<circle cx="576.9" cy="797.8" r="1.2" fill="#9b3cf5"/>
<circle cx="611.4" cy="797.8" r="1.2" fill="#9b3cf5"/>
<circle cx="609.3" cy="803.2" r="1.2" fill="#9b3cf5"/>
<circle cx="614.4" cy="803.6" r="1.2" fill="#9b3cf5"/>
<circle cx="600.9" cy="808.3" r="1.2" fill="#9b3cf5"/>
<circle cx="625.8" cy="807.1" r="1.2" fill="#9b3cf5"/>
<circle cx="657.3" cy="811.1" r="1.2" fill="#9b3cf5"/>
<circle cx="601.8" cy="752.8" r="1.2" fill="#1e9a3e"/>
<circle cx="580.4" cy="758" r="1.2" fill="#1e9a3e"/>
<circle cx="575" cy="762.8" r="1.2" fill="#1e9a3e"/>
<circle cx="582" cy="770" r="1.2" fill="#1e9a3e"/>
<circle cx="583.4" cy="770.6" r="1.2" fill="#1e9a3e"/>
<circle cx="582.5" cy="779.4" r="1.2" fill="#1e9a3e"/>
<circle cx="600.4" cy="778.2" r="1.2" fill="#1e9a3e"/>
<circle cx="615.8" cy="779.6" r="1.2" fill="#1e9a3e"/>
<circle cx="576.7" cy="789.6" r="1.2" fill="#1e9a3e"/>
<circle cx="611.4" cy="795.7" r="1.2" fill="#1e9a3e"/>
<circle cx="600.9" cy="798" r="1.2" fill="#1e9a3e"/>
<circle cx="609.3" cy="799.7" r="1.2" fill="#1e9a3e"/>
<circle cx="625.8" cy="796.6" r="1.2" fill="#1e9a3e"/>
<circle cx="614.4" cy="812.9" r="1.2" fill="#1e9a3e"/>
<circle cx="657.3" cy="807.6" r="1.2" fill="#1e9a3e"/>
</svg>
</body></html>
